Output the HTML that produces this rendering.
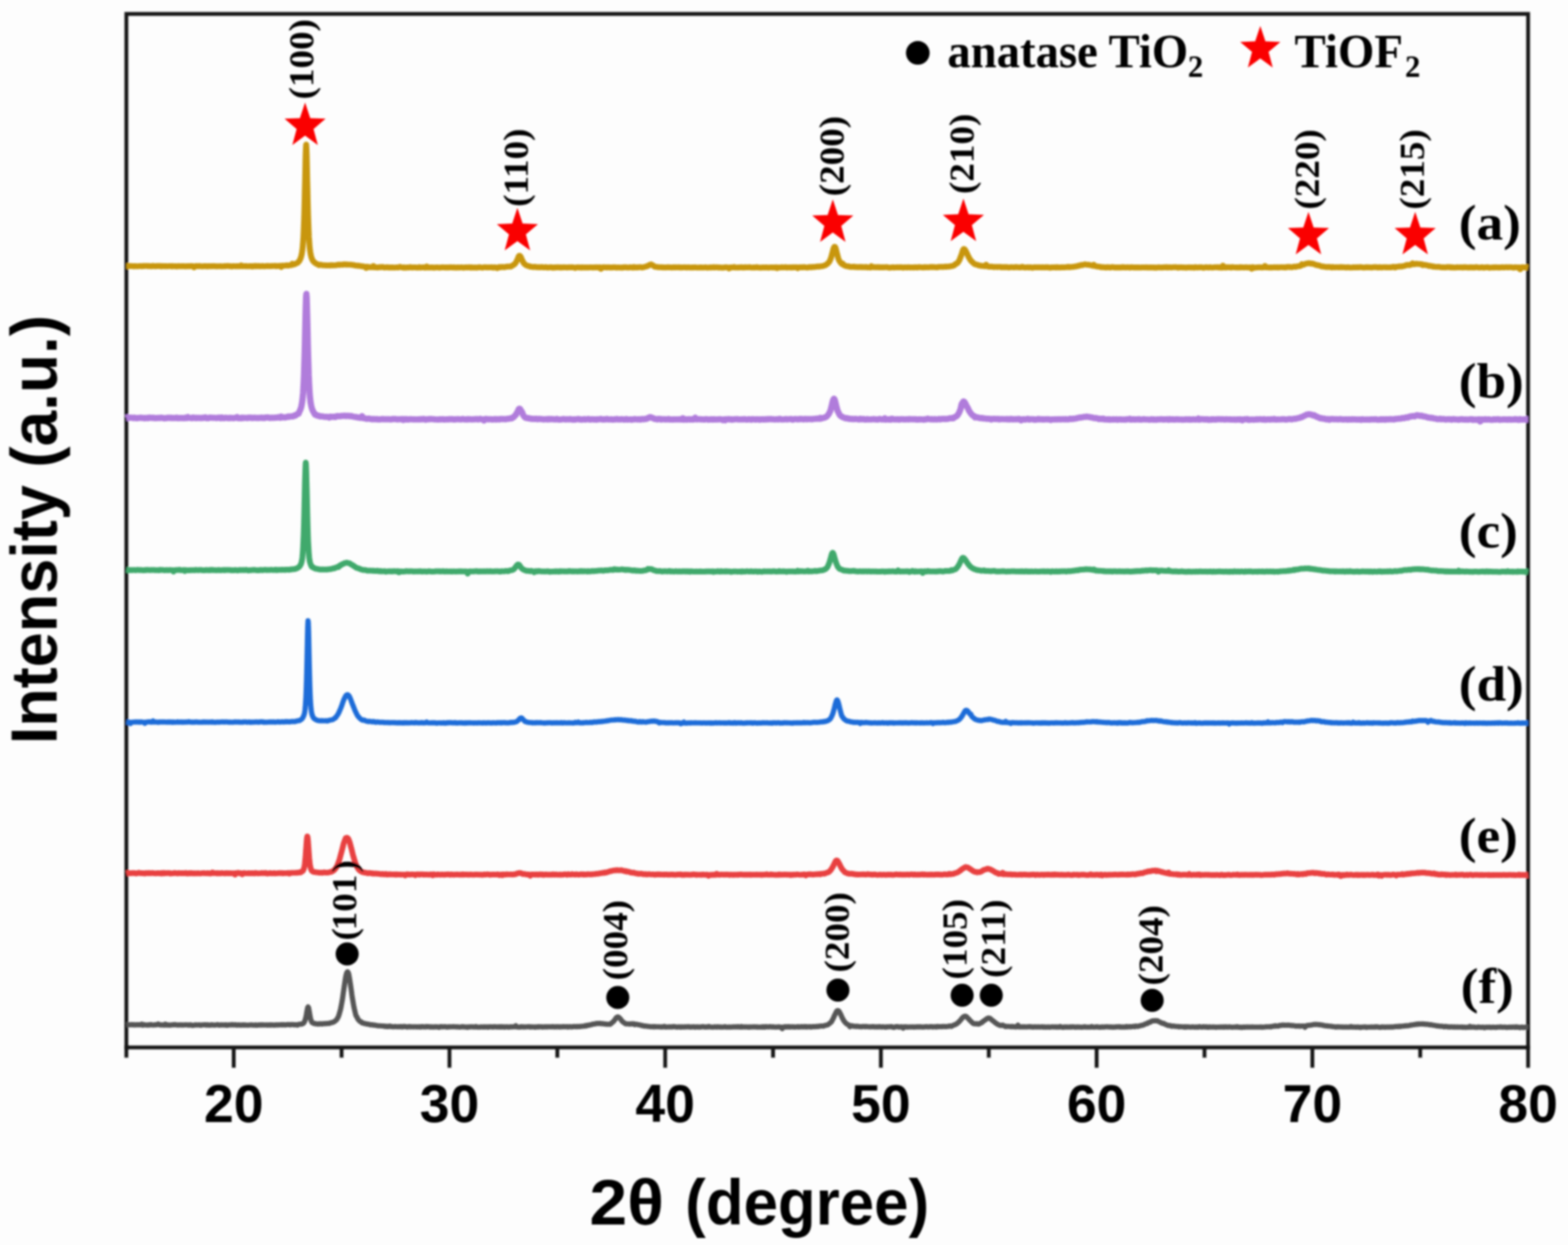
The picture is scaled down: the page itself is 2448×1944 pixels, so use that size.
<!DOCTYPE html>
<html lang="en"><head><meta charset="utf-8"><title>XRD patterns</title>
<style>html,body{margin:0;padding:0;background:#FDFDFD;overflow:hidden}svg{display:block}.s{font-family:"Liberation Serif",serif;font-weight:bold;fill:#000}.n{font-family:"Liberation Sans",sans-serif;font-weight:bold;fill:#000}</style></head><body>
<svg width="2448" height="1944" viewBox="0 0 2448 1944" role="img" aria-label="XRD patterns of samples (a) to (f)">
<defs><filter id="bl" x="0" y="0" width="2448" height="1944" filterUnits="userSpaceOnUse"><feGaussianBlur stdDeviation="1.4"/></filter></defs>
<rect width="2448" height="1944" fill="#FDFDFD"/>
<g filter="url(#bl)">
<g stroke="#161616" stroke-width="6.0" fill="none" stroke-linecap="butt">
<path d="M197.3,1651.5 V21.7 H2385.7 V1667.2"/>
<path d="M194.3,1635.5 H2388.7"/>
<path d="M364.9,1635.5 V1667.2"/>
<path d="M533.3,1635.5 V1651.5"/>
<path d="M701.7,1635.5 V1667.2"/>
<path d="M870.1,1635.5 V1651.5"/>
<path d="M1038.5,1635.5 V1667.2"/>
<path d="M1206.9,1635.5 V1651.5"/>
<path d="M1375.3,1635.5 V1667.2"/>
<path d="M1543.7,1635.5 V1651.5"/>
<path d="M1712.1,1635.5 V1667.2"/>
<path d="M1880.5,1635.5 V1651.5"/>
<path d="M2048.9,1635.5 V1667.2"/>
<path d="M2217.3,1635.5 V1651.5"/>
</g>
<g id="curves">
<polyline points="197.3,415.6 198.9,415.6 200.5,415.5 202.1,415.4 203.7,415.5 205.3,415.4 206.9,415.6 208.5,415.9 210.1,415.5 211.7,415.5 213.3,415.7 214.9,415.7 216.5,415.6 218.1,415.4 219.7,415.6 221.3,415.8 222.9,415.3 224.5,415.5 226.1,415.2 227.7,415.3 229.3,415.2 230.9,415.6 232.5,415.3 234.1,415.7 235.7,415.6 237.3,415.6 238.9,415.1 240.5,415.5 242.1,415.6 243.7,415.6 245.3,415.3 246.9,415.5 248.5,415.4 250.1,415.4 251.7,415.9 253.3,415.4 254.9,415.6 256.5,415.8 258.1,415.5 259.7,415.6 261.3,415.7 262.9,415.6 264.5,415.4 266.1,415.6 267.7,415.9 269.3,415.3 270.9,415.8 272.5,415.7 274.1,415.5 275.7,416.1 277.3,415.8 278.9,415.4 280.5,415.7 282.1,415.8 283.7,415.6 285.3,415.8 286.9,415.6 288.5,415.8 290.1,416.0 291.7,415.5 293.3,415.7 294.9,415.5 296.5,415.7 298.1,415.4 299.7,415.5 301.3,415.6 302.9,417.5 304.5,415.9 306.1,415.4 307.7,415.5 309.3,415.8 310.9,415.2 312.5,415.6 314.1,415.7 315.7,415.9 317.3,415.8 318.9,415.6 320.5,415.6 322.1,415.6 323.7,416.0 325.3,415.6 326.9,415.6 328.5,415.7 330.1,415.6 331.7,415.6 333.3,415.4 334.9,415.7 336.5,415.6 338.1,415.9 339.7,415.8 341.3,415.7 342.9,415.8 344.5,415.6 346.1,415.9 347.7,415.7 349.3,415.8 350.9,415.4 352.5,415.7 354.1,415.3 355.7,415.2 357.3,415.6 358.9,415.5 360.5,415.7 362.1,416.1 363.7,415.5 365.3,415.5 366.9,415.7 368.5,415.8 370.1,415.6 371.7,415.6 373.3,415.8 374.9,415.8 376.5,414.4 378.1,415.6 379.7,415.6 381.3,415.4 382.9,415.7 384.5,415.4 386.1,415.8 387.7,415.7 389.3,415.6 390.9,415.5 392.5,415.6 394.1,416.1 395.7,415.4 397.3,415.7 398.9,415.1 400.5,415.8 402.1,415.2 403.7,415.7 405.3,415.4 406.9,415.7 408.5,415.6 410.1,415.2 411.7,415.8 413.3,415.8 414.9,415.5 416.5,415.4 418.1,415.4 419.7,415.3 421.3,415.7 422.9,415.3 424.5,415.4 426.1,415.2 427.7,415.2 429.3,415.1 430.9,415.6 432.5,415.2 434.1,415.5 435.7,415.2 437.3,415.0 438.9,416.9 440.5,414.9 442.1,415.0 443.7,414.8 445.3,414.8 446.9,414.4 448.5,414.4 450.1,414.8 451.7,414.2 453.3,413.9 454.9,414.0 456.5,411.8 458.1,412.9 459.7,412.7 461.3,412.0 462.9,411.0 464.5,410.5 465.0,410.0 465.4,409.6 465.9,409.1 466.1,408.8 466.3,408.6 466.7,408.1 467.2,407.5 467.6,406.8 467.7,406.7 468.0,406.1 468.5,405.2 468.9,404.2 469.3,403.1 469.3,403.1 469.8,401.9 470.2,400.5 470.6,398.9 470.9,397.7 471.1,396.8 471.5,394.3 471.9,391.3 472.4,387.5 472.5,386.2 472.8,382.9 473.2,377.2 473.7,369.9 474.1,361.0 474.5,350.0 475.0,336.3 475.4,320.6 475.7,308.2 475.8,302.5 476.3,282.2 476.7,262.0 477.1,243.6 477.3,237.6 477.6,230.4 478.0,225.7 478.4,230.7 478.9,244.2 478.9,245.4 479.3,262.4 479.7,282.5 480.2,302.7 480.5,316.6 480.6,320.7 481.0,336.4 481.5,350.0 481.9,361.0 482.1,365.4 482.3,370.0 482.8,377.3 483.2,383.0 483.6,387.6 483.7,388.2 484.1,391.3 484.5,394.2 484.9,396.6 485.3,398.4 485.4,398.7 485.8,400.4 486.2,401.8 486.7,403.1 486.9,403.7 487.1,404.2 487.5,405.2 488.0,406.1 488.4,406.9 488.5,407.1 488.8,407.5 489.3,408.1 489.7,408.6 490.1,409.0 490.1,409.0 490.6,409.4 491.0,409.8 491.7,410.4 493.3,411.4 494.9,412.4 496.5,412.9 498.1,414.0 499.7,413.3 501.3,413.4 502.9,414.1 504.5,414.3 506.1,414.1 507.7,414.4 509.3,414.2 510.9,414.5 512.5,414.5 514.1,414.2 515.7,414.6 517.3,414.0 518.9,414.4 520.5,414.2 522.1,414.2 523.7,414.3 525.3,414.1 526.9,413.5 528.5,413.2 530.1,413.7 531.7,413.2 533.3,413.3 534.9,413.4 536.5,412.8 538.1,412.7 539.7,413.2 541.3,413.1 542.9,413.1 544.5,413.2 546.1,413.2 547.7,413.2 549.3,413.7 550.9,413.7 552.5,413.8 554.1,414.5 555.7,414.6 557.3,414.9 558.9,414.8 560.5,415.1 562.1,415.2 563.7,415.5 565.3,415.9 566.9,415.9 568.5,416.3 570.1,416.5 571.7,418.5 573.3,416.4 574.9,417.1 576.5,417.0 578.1,417.2 579.7,417.0 581.3,417.2 582.9,415.4 584.5,417.4 586.1,417.4 587.7,417.4 589.3,417.7 590.9,417.5 592.5,417.0 594.1,417.4 595.7,417.1 597.3,416.8 598.9,417.4 600.5,417.8 602.1,417.6 603.7,417.3 605.3,417.3 606.9,417.8 608.5,417.6 610.1,417.6 611.7,417.6 613.3,417.6 614.9,417.8 616.5,417.7 618.1,417.6 619.7,417.4 621.3,417.7 622.9,417.4 624.5,416.5 626.1,417.3 627.7,417.6 629.3,417.9 630.9,417.3 632.5,418.0 634.1,417.9 635.7,417.5 637.3,417.8 638.9,417.7 640.5,417.0 642.1,417.7 643.7,417.6 645.3,417.6 646.9,417.4 648.5,417.6 650.1,417.6 651.7,417.9 653.3,417.7 654.9,417.0 656.5,418.0 658.1,417.5 659.7,417.5 661.3,417.2 662.9,418.0 664.5,417.8 666.1,416.0 667.7,417.8 669.3,417.6 670.9,417.7 672.5,417.6 674.1,417.6 675.7,417.6 677.3,418.0 678.9,417.7 680.5,417.6 682.1,417.5 683.7,417.5 685.3,418.0 686.9,417.7 688.5,417.6 690.1,417.5 691.7,417.4 693.3,417.6 694.9,417.8 696.5,417.5 698.1,417.6 699.7,417.6 701.3,417.6 702.9,417.3 704.5,417.6 706.1,417.4 707.7,417.8 709.3,417.4 710.9,417.7 712.5,417.9 714.1,417.5 715.7,417.5 717.3,417.7 718.9,417.6 720.5,417.4 722.1,417.7 723.7,418.0 725.3,417.5 726.9,417.6 728.5,417.4 730.1,417.7 731.7,417.3 733.3,417.3 734.9,417.9 736.5,417.4 738.1,417.8 739.7,417.9 741.3,417.6 742.9,417.7 744.5,418.0 746.1,417.5 747.7,417.4 749.3,417.3 750.9,417.6 752.5,417.9 754.1,417.7 755.7,417.3 757.3,417.3 758.9,417.4 760.5,417.6 762.1,417.4 763.7,417.5 765.3,417.5 766.9,417.4 768.5,417.4 770.1,418.0 771.7,417.4 773.3,417.5 774.9,417.8 776.5,418.7 778.1,417.3 779.7,416.9 781.3,417.5 782.9,416.7 784.5,416.8 786.1,417.2 786.3,417.2 787.1,417.1 787.7,417.1 788.0,417.0 788.8,416.9 789.3,416.8 789.6,416.7 790.5,416.4 790.9,416.3 791.3,416.3 792.1,416.4 792.5,416.4 793.0,416.3 793.8,416.2 794.1,416.1 794.6,416.2 795.5,416.2 795.7,416.2 796.3,416.2 797.1,416.2 797.3,416.2 798.0,415.8 798.8,415.3 798.9,415.2 799.6,414.9 800.5,414.4 800.5,414.4 801.3,413.9 802.1,413.3 802.1,413.3 803.0,412.8 803.7,412.2 803.8,412.0 804.6,411.0 805.3,410.1 805.5,409.8 806.3,408.2 806.9,407.0 807.1,406.5 808.0,404.7 808.5,403.6 808.8,402.8 809.6,400.8 810.1,399.9 810.5,399.5 811.3,399.3 811.7,399.5 812.1,399.9 813.0,401.2 813.3,401.9 813.8,403.1 814.6,405.0 814.9,405.7 815.5,406.8 816.3,408.4 816.5,408.7 817.1,409.8 818.0,411.2 818.1,411.4 818.8,412.1 819.6,412.9 819.7,412.9 820.5,413.5 821.3,414.0 822.1,414.5 822.9,414.8 823.0,414.8 823.8,415.0 824.5,415.2 824.6,415.2 825.5,415.4 826.1,415.5 826.3,415.7 827.1,416.1 827.7,416.3 828.0,416.4 828.8,416.4 829.3,416.4 829.6,416.4 830.5,416.6 830.9,416.7 831.3,416.8 832.1,416.9 832.5,417.0 833.0,416.8 833.8,416.6 834.1,416.5 834.6,416.6 835.5,416.7 835.7,416.8 836.3,416.9 837.3,417.1 838.9,417.2 840.5,417.1 842.1,417.4 843.7,417.3 845.3,417.0 846.9,417.1 848.5,417.5 850.1,417.5 851.7,417.0 853.3,417.7 854.9,417.6 856.5,417.7 858.1,417.4 859.7,417.4 861.3,417.2 862.9,418.1 864.5,417.5 866.1,417.9 867.7,417.4 869.3,417.6 870.9,417.2 872.5,417.5 874.1,417.8 875.7,417.3 877.3,417.8 878.9,417.6 880.5,417.3 882.1,417.5 883.7,417.5 885.3,417.6 886.9,417.5 888.5,417.4 890.1,417.5 891.7,417.4 893.3,417.3 894.9,417.6 896.5,417.8 898.1,418.4 899.7,417.6 901.3,417.5 902.9,417.4 904.5,417.8 906.1,417.5 907.7,417.9 909.3,417.4 910.9,417.7 912.5,417.6 914.1,417.5 915.7,417.7 917.3,417.6 918.9,417.8 920.5,417.6 922.1,417.4 923.7,417.6 925.3,417.6 926.9,417.8 928.5,417.4 930.1,417.6 931.7,417.2 933.3,417.8 934.9,417.4 936.5,417.2 938.1,419.8 939.7,417.9 941.3,417.3 942.9,417.4 944.5,417.5 946.1,417.4 947.7,417.7 949.3,417.4 950.9,417.5 952.5,417.8 954.1,417.5 955.7,417.7 957.3,417.4 958.9,417.4 960.5,417.2 962.1,418.0 963.7,417.5 965.3,417.7 966.9,417.6 968.5,417.9 970.1,417.6 971.7,418.0 973.3,417.4 974.9,417.3 976.5,417.4 978.1,417.3 979.7,417.8 981.3,417.8 982.9,417.4 984.5,417.3 986.1,417.5 987.7,417.9 989.3,416.9 990.9,417.7 991.0,417.6 991.8,417.4 992.5,417.3 992.7,417.3 993.5,417.6 994.1,417.7 994.3,417.7 995.2,417.4 995.7,417.3 996.0,417.3 996.8,417.4 997.3,417.4 997.7,417.3 998.5,417.2 998.9,417.1 999.3,417.1 1000.2,417.2 1000.5,417.2 1001.0,417.3 1001.8,417.6 1002.1,417.6 1002.7,417.6 1003.5,417.4 1003.7,417.4 1004.3,417.3 1005.2,417.0 1005.3,417.0 1006.0,416.9 1006.8,416.7 1006.9,416.6 1007.7,416.4 1008.5,416.0 1009.3,415.9 1010.1,415.7 1010.2,415.7 1011.0,415.4 1011.7,415.0 1011.8,414.9 1012.7,414.4 1013.3,414.1 1013.5,414.0 1014.3,413.5 1014.9,413.3 1015.2,413.2 1016.0,413.0 1016.5,412.9 1016.8,413.1 1017.7,413.5 1018.1,413.7 1018.5,414.0 1019.3,414.4 1019.7,414.7 1020.2,415.0 1021.0,415.6 1021.3,415.8 1021.8,416.1 1022.7,416.5 1022.9,416.6 1023.5,416.7 1024.3,416.7 1024.5,416.7 1025.2,416.8 1026.0,416.8 1026.1,416.8 1026.8,417.0 1027.7,417.2 1027.7,417.2 1028.5,417.2 1029.3,417.2 1029.3,417.2 1030.2,417.2 1030.9,417.2 1031.0,417.2 1031.8,417.3 1032.5,417.4 1032.7,417.4 1033.5,417.3 1034.1,417.2 1034.3,417.3 1035.2,417.5 1035.7,417.6 1036.0,417.6 1036.8,417.5 1037.3,417.5 1037.7,417.5 1038.5,417.6 1038.9,417.6 1039.3,417.6 1040.2,417.5 1040.5,417.5 1041.0,417.5 1042.1,417.4 1043.7,417.3 1045.3,417.5 1046.9,417.5 1048.5,417.6 1050.1,417.6 1051.7,417.3 1053.3,417.6 1054.9,417.3 1056.5,417.5 1058.1,417.5 1059.7,417.2 1061.3,417.6 1062.9,417.6 1064.5,417.6 1066.1,417.5 1067.7,417.5 1069.3,417.4 1070.9,417.6 1072.5,417.5 1074.1,417.6 1075.7,417.4 1077.3,417.7 1078.9,417.7 1080.5,417.6 1082.1,417.5 1083.7,417.7 1085.3,417.3 1086.9,417.7 1088.5,417.7 1090.1,417.7 1091.7,417.7 1093.3,417.5 1094.9,417.6 1096.5,417.8 1098.1,417.7 1099.7,417.7 1101.3,417.3 1102.9,417.7 1104.5,417.9 1106.1,417.8 1107.7,417.7 1109.3,417.3 1110.9,417.8 1112.5,417.6 1114.1,417.1 1115.7,417.7 1117.3,417.3 1118.9,417.3 1120.5,417.5 1122.1,417.9 1123.7,417.5 1125.3,417.7 1126.9,418.0 1128.5,418.0 1130.1,417.6 1131.7,417.6 1133.3,417.3 1134.9,417.5 1136.5,417.7 1138.1,419.3 1139.7,417.6 1141.3,417.8 1142.9,417.4 1144.5,417.6 1146.1,416.9 1147.7,417.7 1149.3,417.8 1150.9,417.7 1152.5,417.5 1154.1,417.7 1155.7,417.4 1157.3,417.2 1158.9,417.7 1160.5,417.6 1162.1,417.7 1163.7,417.2 1165.3,417.5 1166.9,417.5 1168.5,417.4 1170.1,417.1 1171.7,417.5 1173.3,417.8 1174.9,417.7 1176.5,417.5 1178.1,417.6 1179.7,417.8 1181.3,417.0 1182.9,417.6 1184.5,417.7 1186.1,417.7 1187.7,418.0 1189.3,417.8 1190.9,417.6 1192.5,417.6 1194.1,417.7 1195.7,417.5 1197.3,417.6 1198.9,417.8 1200.5,418.0 1202.1,417.5 1203.7,417.5 1205.3,417.6 1206.9,417.8 1208.5,417.5 1210.1,417.9 1211.7,417.3 1213.3,418.7 1214.9,417.5 1216.5,417.7 1218.1,417.8 1219.7,417.2 1221.3,417.3 1222.9,417.6 1224.5,417.4 1226.1,417.1 1227.7,417.7 1229.3,417.6 1230.9,417.6 1232.5,417.4 1234.1,417.7 1235.7,417.4 1237.3,417.7 1238.9,417.2 1240.5,417.4 1242.1,417.5 1243.7,417.2 1245.3,418.7 1246.9,417.4 1248.5,417.2 1250.1,417.4 1251.7,417.2 1253.3,417.5 1254.9,417.1 1256.5,417.2 1258.1,417.5 1259.7,417.7 1261.3,417.6 1262.9,417.1 1264.5,417.1 1266.1,417.4 1267.7,416.9 1269.3,416.7 1270.9,416.9 1272.5,416.8 1274.1,416.5 1275.7,416.2 1276.8,416.1 1277.3,416.1 1277.6,416.1 1278.5,416.3 1278.9,416.4 1279.4,416.2 1280.2,416.0 1280.5,415.9 1281.1,415.8 1282.0,415.8 1282.1,415.8 1282.9,415.7 1283.7,415.6 1283.8,415.5 1284.6,415.4 1285.3,415.3 1285.5,415.2 1286.4,414.8 1286.9,414.6 1287.2,414.5 1288.1,414.3 1288.5,414.2 1289.0,413.8 1289.9,413.2 1290.1,413.0 1290.8,412.7 1291.6,412.1 1291.7,412.0 1292.5,411.2 1293.3,410.3 1293.4,410.2 1294.2,409.3 1294.9,408.4 1295.1,408.0 1296.0,406.1 1296.5,404.9 1296.9,403.9 1297.8,401.3 1298.1,400.1 1298.6,398.3 1299.5,395.0 1299.7,394.2 1300.4,391.5 1301.2,388.3 1301.3,388.1 1302.1,386.1 1302.9,385.3 1303.0,385.3 1303.9,385.8 1304.5,387.2 1304.8,388.0 1305.6,391.3 1306.1,393.2 1306.5,394.9 1307.4,398.3 1307.7,399.5 1308.2,401.5 1309.1,404.4 1309.3,404.9 1310.0,406.4 1310.9,408.0 1310.9,408.0 1311.8,409.3 1312.5,410.2 1312.6,410.4 1313.5,411.4 1314.1,412.1 1314.4,412.0 1315.2,411.7 1315.7,411.6 1316.1,412.2 1317.0,413.5 1317.3,413.9 1317.9,414.1 1318.8,414.5 1318.9,414.5 1319.6,414.9 1320.5,415.3 1321.4,415.5 1322.1,415.6 1322.2,415.6 1323.1,415.8 1323.7,415.9 1324.0,415.9 1324.9,415.9 1325.3,415.9 1325.8,416.1 1326.6,416.5 1326.9,416.6 1327.5,416.7 1328.4,416.7 1328.5,416.7 1329.2,416.7 1330.1,416.6 1331.7,416.8 1333.3,416.3 1334.9,416.9 1336.5,416.8 1338.1,417.0 1339.7,417.1 1341.3,417.0 1342.9,416.7 1344.5,417.2 1346.1,417.0 1347.7,417.1 1349.3,417.1 1350.9,417.2 1352.5,416.8 1354.1,417.6 1355.7,417.4 1357.3,417.6 1358.9,417.8 1360.5,415.6 1362.1,417.0 1363.7,417.2 1365.3,417.1 1366.9,417.3 1368.5,417.4 1370.1,417.0 1371.7,417.5 1373.3,417.1 1374.9,417.5 1376.5,417.4 1378.1,417.4 1379.7,417.4 1381.3,417.3 1382.9,417.3 1384.5,417.1 1386.1,417.5 1387.7,417.9 1389.3,417.9 1390.9,417.8 1392.5,417.6 1394.1,417.3 1395.7,417.8 1397.3,417.5 1398.9,417.5 1400.5,417.4 1402.1,417.5 1403.7,417.4 1405.3,417.5 1406.9,417.2 1408.5,417.4 1410.1,418.0 1411.7,417.5 1413.3,417.4 1414.9,417.6 1416.5,417.6 1418.1,417.2 1419.7,417.4 1421.3,417.7 1422.9,417.5 1424.5,417.5 1426.1,417.8 1427.7,417.3 1429.3,417.5 1430.9,417.3 1432.5,417.8 1434.1,417.0 1435.7,417.3 1437.3,417.3 1438.9,417.5 1440.5,417.5 1442.1,417.7 1443.7,417.0 1445.3,417.5 1446.9,417.3 1448.5,417.2 1450.1,417.4 1451.7,417.1 1453.3,416.8 1454.9,417.2 1456.5,416.9 1458.1,417.1 1459.7,417.3 1461.3,417.2 1462.9,417.5 1464.5,417.0 1466.1,416.7 1467.7,416.8 1469.3,416.7 1470.9,416.6 1472.5,416.9 1474.1,416.6 1475.7,416.2 1476.0,416.3 1477.0,416.5 1477.3,416.6 1478.0,416.5 1478.9,416.3 1478.9,416.3 1479.9,416.3 1480.5,416.3 1480.8,416.2 1481.8,416.1 1482.1,416.0 1482.8,416.0 1483.7,415.9 1483.7,415.9 1484.7,415.6 1485.3,415.5 1485.6,415.4 1486.6,415.4 1486.9,415.4 1487.5,415.1 1488.5,414.7 1488.5,414.7 1489.5,414.4 1490.1,414.1 1490.4,413.7 1491.4,412.6 1491.7,412.2 1492.3,412.1 1493.3,411.8 1494.3,411.1 1494.9,410.6 1495.2,410.2 1496.2,408.9 1496.5,408.4 1497.1,407.4 1498.1,405.6 1498.1,405.6 1499.0,403.2 1499.7,401.3 1500.0,400.6 1501.0,398.0 1501.3,397.1 1501.9,395.0 1502.9,392.0 1502.9,391.9 1503.8,389.7 1504.5,388.9 1504.8,388.8 1505.8,389.1 1506.1,389.4 1506.7,390.2 1507.7,391.9 1507.7,391.9 1508.6,393.7 1509.3,395.1 1509.6,395.7 1510.5,397.7 1510.9,398.4 1511.5,399.7 1512.5,401.7 1512.5,401.7 1513.4,403.3 1514.1,404.3 1514.4,404.8 1515.3,406.3 1515.7,406.8 1516.3,407.5 1517.3,408.4 1517.3,408.4 1518.2,409.4 1518.9,410.0 1519.2,410.3 1520.1,411.1 1520.5,411.4 1521.1,411.9 1522.0,412.7 1522.1,412.7 1523.0,412.7 1523.7,412.7 1524.0,412.8 1524.9,413.2 1525.3,413.4 1525.9,413.6 1526.8,413.8 1526.9,413.8 1527.8,414.3 1528.5,414.6 1528.8,414.6 1529.7,414.6 1530.1,414.5 1530.7,414.7 1531.6,415.0 1531.7,415.0 1532.6,415.2 1533.3,415.3 1533.5,415.3 1534.9,415.3 1536.5,415.5 1538.1,415.8 1539.7,413.3 1541.3,415.9 1542.9,416.2 1544.5,416.4 1546.1,416.4 1547.7,416.2 1549.3,416.5 1550.9,416.9 1552.5,416.9 1554.1,416.8 1555.7,416.7 1557.3,417.0 1558.9,416.8 1560.5,416.7 1562.1,416.8 1563.7,417.4 1565.3,417.1 1566.9,417.4 1568.5,417.0 1570.1,417.4 1571.7,417.0 1573.3,417.2 1574.9,417.8 1576.5,417.4 1578.1,417.1 1579.7,417.2 1581.3,417.3 1582.9,417.5 1584.5,417.2 1586.1,416.9 1587.7,417.3 1589.3,417.3 1590.9,417.4 1592.5,417.6 1594.1,417.4 1595.7,416.5 1597.3,417.1 1598.9,417.6 1600.5,417.8 1602.1,417.6 1603.7,417.4 1605.3,417.4 1606.9,417.8 1608.5,417.2 1610.1,417.4 1611.7,418.2 1613.3,417.6 1614.9,417.3 1616.5,417.5 1618.1,417.4 1619.7,417.5 1621.3,417.4 1622.9,417.2 1624.5,417.4 1626.1,417.6 1627.7,417.2 1629.3,417.4 1630.9,417.6 1632.5,417.2 1634.1,417.5 1635.7,417.2 1637.3,417.7 1638.9,417.9 1640.5,417.9 1642.1,417.4 1643.7,417.6 1645.3,417.4 1646.9,417.4 1648.5,417.7 1650.1,417.1 1651.7,417.6 1653.3,417.4 1654.9,417.7 1656.5,417.4 1658.1,417.2 1659.7,417.4 1661.3,417.5 1662.9,417.3 1664.5,417.3 1666.1,417.1 1667.7,416.6 1669.3,417.2 1670.9,417.1 1672.5,416.8 1674.1,416.7 1675.7,416.7 1677.3,416.2 1678.9,416.2 1680.5,415.7 1682.1,415.7 1683.7,414.7 1685.3,415.0 1686.9,414.2 1688.5,413.7 1690.1,413.9 1691.7,413.3 1693.3,412.9 1694.9,413.0 1696.5,413.3 1698.1,413.5 1699.7,413.3 1701.3,413.8 1702.9,414.2 1704.5,414.3 1706.1,414.9 1707.7,413.6 1709.3,415.4 1710.9,415.7 1712.5,416.1 1714.1,416.3 1715.7,416.4 1717.3,416.6 1718.9,417.1 1720.5,417.0 1722.1,417.3 1723.7,417.4 1725.3,417.4 1726.9,417.8 1728.5,417.1 1730.1,417.5 1731.7,417.3 1733.3,417.8 1734.9,417.4 1736.5,417.0 1738.1,417.2 1739.7,417.6 1741.3,417.6 1742.9,417.6 1744.5,417.5 1746.1,417.6 1747.7,417.6 1749.3,417.5 1750.9,417.7 1752.5,417.0 1754.1,417.6 1755.7,417.3 1757.3,417.7 1758.9,417.5 1760.5,417.3 1762.1,417.6 1763.7,417.9 1765.3,417.3 1766.9,417.2 1768.5,417.5 1770.1,417.6 1771.7,417.8 1773.3,417.5 1774.9,417.8 1776.5,417.6 1778.1,417.5 1779.7,417.7 1781.3,417.8 1782.9,417.5 1784.5,417.5 1786.1,417.5 1787.7,417.6 1789.3,417.4 1790.9,417.8 1792.5,417.5 1794.1,417.7 1795.7,417.6 1797.3,417.6 1798.9,417.7 1800.5,417.5 1802.1,418.0 1803.7,417.6 1805.3,418.0 1806.9,417.8 1808.5,417.4 1810.1,417.5 1811.7,417.7 1813.3,417.6 1814.9,417.6 1816.5,417.5 1818.1,417.2 1819.7,417.5 1821.3,417.1 1822.9,417.7 1824.5,417.4 1826.1,417.4 1827.7,417.5 1829.3,417.6 1830.9,417.3 1832.5,417.2 1834.1,417.3 1835.7,417.1 1837.3,417.4 1838.9,417.9 1840.5,417.3 1842.1,417.7 1843.7,417.3 1845.3,417.6 1846.9,417.5 1848.5,417.6 1850.1,417.7 1851.7,418.0 1853.3,417.6 1854.9,417.6 1856.5,417.4 1858.1,417.7 1859.7,417.5 1861.3,417.8 1862.9,417.6 1864.5,418.0 1866.1,417.1 1867.7,417.5 1869.3,417.8 1870.9,417.5 1872.5,417.4 1874.1,417.5 1875.7,417.3 1877.3,417.6 1878.9,418.1 1880.5,417.8 1882.1,417.3 1883.7,417.4 1885.3,417.5 1886.9,417.8 1888.5,417.4 1890.1,417.4 1891.7,417.8 1893.3,417.8 1894.9,417.5 1896.5,417.3 1898.1,417.2 1899.7,417.4 1901.3,417.1 1902.9,417.7 1904.5,417.4 1906.1,417.7 1907.7,418.0 1909.3,414.8 1910.9,417.3 1912.5,417.8 1914.1,417.8 1915.7,417.1 1917.3,417.4 1918.9,417.5 1920.5,417.2 1922.1,417.9 1923.7,417.0 1925.3,417.3 1926.9,417.5 1928.5,417.5 1930.1,417.6 1931.7,417.6 1933.3,417.5 1934.9,417.8 1936.5,417.1 1938.1,417.6 1939.7,417.4 1941.3,417.6 1942.9,417.6 1944.5,417.4 1946.1,417.4 1947.7,417.7 1949.3,417.6 1950.9,417.4 1952.5,418.0 1954.1,419.7 1955.7,417.2 1957.3,417.6 1958.9,418.1 1960.5,417.7 1962.1,417.6 1963.7,417.5 1965.3,417.4 1966.9,417.5 1968.5,417.4 1970.1,417.7 1971.7,417.4 1973.3,417.4 1974.9,415.2 1976.5,417.5 1978.1,417.3 1979.7,417.5 1981.3,417.7 1982.9,417.6 1984.5,417.6 1986.1,417.6 1987.7,417.5 1989.3,417.4 1990.9,417.4 1992.5,417.6 1994.1,417.2 1995.7,417.7 1997.3,417.4 1998.9,417.2 2000.5,417.3 2002.1,417.2 2003.7,417.4 2005.3,417.2 2006.9,417.6 2008.5,417.1 2010.1,416.7 2011.7,417.0 2013.3,416.7 2014.9,417.1 2016.5,417.2 2018.1,417.0 2019.7,416.4 2021.3,416.4 2022.9,416.7 2024.5,416.1 2026.1,415.7 2027.7,415.6 2029.3,415.5 2030.9,414.8 2032.5,412.5 2034.1,413.5 2035.7,413.1 2037.3,412.3 2038.9,411.7 2040.5,411.5 2042.1,411.0 2043.7,411.1 2045.3,411.1 2046.9,411.8 2048.5,411.4 2050.1,412.0 2051.7,412.4 2053.3,413.1 2054.9,413.8 2056.5,413.9 2058.1,414.4 2059.7,414.6 2061.3,415.2 2062.9,415.9 2064.5,416.1 2066.1,416.1 2067.7,416.5 2069.3,416.7 2070.9,417.0 2072.5,416.8 2074.1,417.0 2075.7,416.7 2077.3,416.9 2078.9,417.6 2080.5,416.8 2082.1,417.2 2083.7,417.4 2085.3,417.2 2086.9,417.2 2088.5,417.3 2090.1,417.4 2091.7,417.4 2093.3,417.0 2094.9,417.4 2096.5,417.2 2098.1,417.3 2099.7,417.5 2101.3,417.6 2102.9,417.6 2104.5,417.3 2106.1,417.6 2107.7,417.7 2109.3,417.7 2110.9,417.8 2112.5,417.4 2114.1,417.4 2115.7,417.6 2117.3,417.2 2118.9,417.5 2120.5,417.3 2122.1,417.4 2123.7,417.1 2125.3,417.3 2126.9,417.5 2128.5,417.7 2130.1,417.7 2131.7,417.4 2133.3,417.4 2134.9,417.3 2136.5,417.5 2138.1,417.4 2139.7,417.6 2141.3,417.8 2142.9,417.4 2144.5,417.1 2146.1,417.2 2147.7,417.1 2149.3,417.2 2150.9,417.7 2152.5,417.5 2154.1,417.1 2155.7,417.5 2157.3,417.7 2158.9,417.3 2160.5,417.2 2162.1,417.3 2163.7,417.4 2165.3,417.4 2166.9,417.5 2168.5,417.5 2170.1,417.4 2171.7,417.4 2173.3,417.2 2174.9,416.6 2176.5,416.8 2178.1,417.6 2179.7,416.6 2181.3,416.7 2182.9,416.3 2184.5,415.9 2186.1,416.3 2187.7,415.9 2189.3,415.9 2190.9,415.4 2192.5,415.2 2194.1,414.7 2195.7,413.8 2197.3,413.9 2198.9,413.6 2200.5,414.0 2202.1,413.1 2203.7,413.1 2205.3,411.2 2206.9,412.1 2208.5,412.7 2210.1,412.0 2211.7,411.8 2213.3,412.2 2214.9,412.3 2216.5,412.2 2218.1,412.7 2219.7,412.6 2221.3,414.0 2222.9,413.3 2224.5,413.8 2226.1,413.8 2227.7,414.3 2229.3,414.5 2230.9,415.4 2232.5,415.0 2234.1,415.7 2235.7,415.6 2237.3,416.4 2238.9,416.2 2240.5,416.5 2242.1,416.7 2243.7,416.7 2245.3,416.6 2246.9,416.7 2248.5,417.1 2250.1,417.2 2251.7,417.4 2253.3,417.2 2254.9,417.4 2256.5,417.6 2258.1,417.3 2259.7,417.0 2261.3,417.1 2262.9,417.0 2264.5,417.7 2266.1,417.2 2267.7,417.7 2269.3,417.6 2270.9,417.8 2272.5,417.7 2274.1,417.4 2275.7,417.4 2277.3,417.5 2278.9,417.5 2280.5,417.4 2282.1,417.5 2283.7,417.8 2285.3,417.1 2286.9,417.5 2288.5,417.3 2290.1,417.5 2291.7,417.7 2293.3,417.5 2294.9,417.7 2296.5,417.2 2298.1,417.8 2299.7,417.4 2301.3,417.7 2302.9,417.6 2304.5,417.0 2306.1,417.4 2307.7,417.6 2309.3,417.9 2310.9,417.6 2312.5,417.6 2314.1,417.2 2315.7,417.9 2317.3,417.9 2318.9,417.5 2320.5,417.5 2322.1,417.2 2323.7,417.7 2325.3,418.1 2326.9,417.7 2328.5,417.8 2330.1,417.7 2331.7,417.3 2333.3,417.8 2334.9,417.3 2336.5,417.5 2338.1,417.6 2339.7,417.8 2341.3,417.6 2342.9,417.6 2344.5,417.4 2346.1,417.3 2347.7,417.6 2349.3,417.4 2350.9,417.3 2352.5,417.3 2354.1,417.5 2355.7,417.2 2357.3,417.3 2358.9,417.2 2360.5,417.4 2362.1,417.7 2363.7,418.0 2365.3,417.2 2366.9,417.4 2368.5,417.8 2370.1,417.5 2371.7,417.5 2373.3,420.5 2374.9,417.5 2376.5,417.3 2378.1,417.3 2379.7,417.6 2381.3,417.6 2382.9,417.3 2384.5,417.4 2385.7,417.6" fill="none" stroke="#C8960A" stroke-width="9.1" stroke-linejoin="round" stroke-linecap="butt"/>
<polyline points="197.3,652.9 198.9,651.9 200.5,652.6 202.1,652.3 203.7,652.1 205.3,652.3 206.9,652.4 208.5,652.8 210.1,652.1 211.7,652.8 213.3,653.1 214.9,652.7 216.5,652.6 218.1,652.5 219.7,652.2 221.3,652.6 222.9,652.6 224.5,652.7 226.1,653.2 227.7,652.7 229.3,652.6 230.9,652.9 232.5,652.1 234.1,652.2 235.7,652.4 237.3,652.3 238.9,652.7 240.5,652.4 242.1,653.0 243.7,652.9 245.3,652.7 246.9,652.4 248.5,652.7 250.1,652.7 251.7,652.2 253.3,652.6 254.9,652.7 256.5,653.3 258.1,653.0 259.7,652.9 261.3,652.3 262.9,652.6 264.5,652.3 266.1,652.7 267.7,652.3 269.3,652.8 270.9,652.6 272.5,652.8 274.1,652.5 275.7,652.1 277.3,653.0 278.9,652.5 280.5,652.9 282.1,652.7 283.7,652.7 285.3,653.0 286.9,652.6 288.5,652.9 290.1,652.1 291.7,652.8 293.3,651.3 294.9,652.5 296.5,652.5 298.1,652.6 299.7,653.0 301.3,652.0 302.9,652.6 304.5,652.3 306.1,652.9 307.7,652.4 309.3,652.7 310.9,652.4 312.5,652.7 314.1,652.8 315.7,652.4 317.3,652.6 318.9,652.1 320.5,651.6 322.1,652.8 323.7,652.7 325.3,652.9 326.9,652.0 328.5,652.0 330.1,652.2 331.7,652.4 333.3,652.3 334.9,652.5 336.5,652.5 338.1,652.8 339.7,652.4 341.3,652.2 342.9,652.2 344.5,653.1 346.1,651.9 347.7,652.5 349.3,653.0 350.9,652.7 352.5,652.3 354.1,652.5 355.7,652.8 357.3,652.9 358.9,652.3 360.5,652.8 362.1,652.6 363.7,652.8 365.3,652.9 366.9,652.4 368.5,652.1 370.1,651.3 371.7,653.0 373.3,652.7 374.9,652.6 376.5,653.2 378.1,652.2 379.7,652.8 381.3,652.4 382.9,652.5 384.5,652.5 386.1,652.9 387.7,652.2 389.3,652.3 390.9,652.0 392.5,652.6 394.1,652.4 395.7,652.6 397.3,652.2 398.9,652.4 400.5,652.7 402.1,652.4 403.7,652.6 405.3,652.6 406.9,652.3 408.5,652.0 410.1,652.7 411.7,652.4 413.3,652.6 414.9,651.8 416.5,651.9 418.1,651.7 419.7,652.1 421.3,652.6 422.9,652.4 424.5,652.2 426.1,652.3 427.7,652.4 429.3,652.1 430.9,652.2 432.5,652.1 434.1,651.4 435.7,651.9 437.3,652.3 438.9,650.4 440.5,651.8 442.1,651.6 443.7,651.5 445.3,651.9 446.9,651.4 448.5,651.0 450.1,650.3 451.7,650.8 453.3,650.2 454.9,650.0 456.5,650.4 458.1,650.0 459.7,648.7 461.3,648.8 462.9,647.4 464.3,646.5 464.5,646.3 464.8,646.3 465.2,646.3 465.7,646.2 466.1,646.0 466.2,645.9 466.6,644.8 467.1,643.7 467.6,642.5 467.7,642.1 468.0,641.5 468.5,640.6 469.0,639.5 469.3,638.6 469.4,638.3 469.9,636.7 470.4,635.0 470.8,632.9 470.9,632.6 471.3,630.4 471.8,627.4 472.2,623.7 472.5,621.1 472.7,619.0 473.2,613.3 473.6,606.2 474.1,597.1 474.6,585.6 475.0,572.0 475.5,555.6 475.7,547.9 476.0,536.9 476.4,516.8 476.9,495.9 477.3,479.6 477.4,477.1 477.8,463.8 478.3,458.9 478.8,463.9 478.9,466.9 479.2,477.0 479.7,495.7 480.2,516.4 480.5,530.8 480.6,536.4 481.1,555.3 481.6,571.8 482.0,585.4 482.1,587.3 482.5,596.9 483.0,606.2 483.4,613.5 483.7,617.1 483.9,619.4 484.4,624.0 484.8,627.6 485.3,630.6 485.8,633.0 486.2,635.0 486.7,636.7 486.9,637.4 487.2,638.2 487.6,639.6 488.1,640.7 488.5,641.6 488.6,641.8 489.0,642.6 489.5,643.5 490.0,644.2 490.1,644.4 490.4,645.0 490.9,646.0 491.4,646.8 491.7,647.4 491.8,647.4 492.3,647.5 493.3,647.4 494.9,648.8 496.5,648.8 498.1,649.5 499.7,650.2 501.3,650.0 502.9,650.2 504.5,650.3 506.1,650.8 507.7,651.0 509.3,650.8 510.9,650.9 512.5,651.3 514.1,652.0 515.7,650.5 517.3,650.8 518.9,650.8 520.5,650.8 522.1,650.5 523.7,651.2 525.3,650.2 526.9,649.7 528.5,650.0 530.1,649.8 531.7,649.9 533.3,649.4 534.9,649.5 536.5,649.3 538.1,649.2 539.7,649.7 541.3,649.3 542.9,649.6 544.5,649.3 546.1,649.8 547.7,649.5 549.3,650.0 550.9,650.3 552.5,650.8 554.1,651.0 555.7,651.1 557.3,651.7 558.9,651.7 560.5,652.1 562.1,652.4 563.7,652.4 565.3,649.8 566.9,653.0 568.5,653.0 570.1,653.4 571.7,653.8 573.3,653.9 574.9,653.7 576.5,653.6 578.1,654.1 579.7,654.3 581.3,654.7 582.9,654.3 584.5,654.4 586.1,654.7 587.7,654.4 589.3,654.5 590.9,655.0 592.5,655.0 594.1,654.7 595.7,654.6 597.3,654.3 598.9,654.7 600.5,654.6 602.1,654.7 603.7,654.5 605.3,654.6 606.9,654.6 608.5,654.7 610.1,655.0 611.7,654.7 613.3,654.2 614.9,654.4 616.5,654.2 618.1,654.4 619.7,654.8 621.3,654.8 622.9,654.5 624.5,654.7 626.1,654.5 627.7,654.3 629.3,655.7 630.9,654.4 632.5,655.1 634.1,654.3 635.7,655.0 637.3,655.1 638.9,654.6 640.5,654.7 642.1,654.5 643.7,654.7 645.3,654.9 646.9,654.7 648.5,655.0 650.1,655.0 651.7,654.8 653.3,654.8 654.9,654.7 656.5,654.8 658.1,654.4 659.7,654.8 661.3,654.2 662.9,654.5 664.5,655.3 666.1,654.5 667.7,654.5 669.3,654.8 670.9,654.2 672.5,654.5 674.1,654.3 675.7,654.5 677.3,654.7 678.9,654.8 680.5,655.0 682.1,655.0 683.7,655.1 685.3,654.9 686.9,654.6 688.5,655.0 690.1,654.6 691.7,654.6 693.3,655.2 694.9,655.0 696.5,654.8 698.1,654.9 699.7,655.0 701.3,654.4 702.9,654.7 704.5,654.4 706.1,654.8 707.7,654.5 709.3,655.1 710.9,654.9 712.5,654.5 714.1,654.7 715.7,654.4 717.3,654.7 718.9,654.9 720.5,654.8 722.1,654.2 723.7,654.6 725.3,654.9 726.9,654.8 728.5,655.1 730.1,654.4 731.7,654.9 733.3,654.5 734.9,654.8 736.5,654.8 738.1,654.9 739.7,654.6 741.3,654.8 742.9,654.4 744.5,654.3 746.1,654.9 747.7,654.7 749.3,654.0 750.9,654.5 752.5,654.7 754.1,655.1 755.7,656.6 757.3,654.3 758.9,654.2 760.5,654.4 762.1,654.8 763.7,654.7 765.3,654.7 766.9,654.6 768.5,655.1 770.1,655.0 771.7,654.5 773.3,654.3 774.9,655.1 776.5,654.4 778.1,654.8 779.7,655.0 781.3,654.2 782.9,654.5 784.5,654.2 786.1,654.4 787.2,654.3 787.7,654.3 788.0,654.4 788.8,654.6 789.3,654.7 789.6,654.6 790.4,654.3 790.9,654.2 791.2,654.1 792.0,654.0 792.5,653.9 792.8,653.9 793.6,654.0 794.1,654.0 794.4,653.9 795.2,653.6 795.7,653.4 796.0,653.4 796.8,653.2 797.3,653.1 797.5,653.2 798.3,653.3 798.9,653.4 799.1,653.2 799.9,652.5 800.5,652.0 800.7,651.9 801.5,651.6 802.1,651.2 802.3,651.0 803.1,650.0 803.7,649.1 803.9,649.0 804.7,648.4 805.3,647.8 805.5,647.5 806.2,646.1 806.9,644.7 807.0,644.5 807.8,643.2 808.5,642.1 808.6,641.8 809.4,639.9 810.1,638.6 810.2,638.5 811.0,638.1 811.7,638.5 811.8,638.6 812.6,639.8 813.3,641.3 813.4,641.4 814.2,642.4 814.9,643.3 815.0,643.5 815.8,645.6 816.5,647.5 816.5,647.6 817.3,648.8 818.1,649.9 818.1,649.9 818.9,651.0 819.7,651.9 819.7,651.9 820.5,652.2 821.3,652.3 821.3,652.3 822.1,652.7 822.9,652.9 822.9,652.9 823.7,652.9 824.5,652.7 824.5,652.7 825.2,653.1 826.0,653.4 826.1,653.5 826.8,653.4 827.6,653.4 827.7,653.4 828.4,653.7 829.2,654.0 829.3,654.1 830.0,654.0 830.8,654.0 830.9,653.9 831.6,654.0 832.4,654.1 832.5,654.1 833.2,654.1 834.0,654.2 834.1,654.2 834.8,654.2 835.7,654.1 837.3,653.9 838.9,654.6 840.5,654.0 842.1,654.1 843.7,654.4 845.3,654.3 846.9,654.6 848.5,654.9 850.1,654.7 851.7,654.7 853.3,654.6 854.9,654.9 856.5,654.1 858.1,654.8 859.7,654.4 861.3,654.3 862.9,654.7 864.5,654.6 866.1,654.9 867.7,655.0 869.3,654.1 870.9,654.7 872.5,655.3 874.1,655.0 875.7,655.1 877.3,654.8 878.9,654.3 880.5,654.4 882.1,654.9 883.7,655.0 885.3,654.5 886.9,654.7 888.5,654.8 890.1,654.3 891.7,654.7 893.3,655.2 894.9,655.4 896.5,654.7 898.1,655.3 899.7,654.6 901.3,654.5 902.9,654.2 904.5,655.0 906.1,654.7 907.7,655.4 909.3,654.9 910.9,654.8 912.5,654.3 914.1,655.2 915.7,654.7 917.3,654.7 918.9,654.2 920.5,655.1 922.1,655.1 923.7,654.6 925.3,654.8 926.9,654.9 928.5,655.1 930.1,654.8 931.7,655.3 933.3,654.7 934.9,654.6 936.5,654.7 938.1,654.1 939.7,654.6 941.3,655.1 942.9,654.9 944.5,654.6 946.1,654.9 947.7,654.2 949.3,654.7 950.9,655.0 952.5,655.0 954.1,654.6 955.7,655.1 957.3,655.3 958.9,654.7 960.5,655.0 962.1,654.4 963.7,654.3 965.3,655.0 966.9,654.8 968.5,654.9 970.1,654.6 971.7,654.7 973.3,655.0 974.9,655.3 976.5,654.7 978.1,654.3 979.7,655.2 981.3,655.0 982.9,655.0 984.5,654.8 986.1,655.4 987.7,654.8 989.3,654.9 990.9,654.3 992.5,654.6 994.1,654.8 995.0,654.8 995.7,654.7 995.7,654.7 996.3,654.8 997.0,654.8 997.3,654.8 997.7,654.7 998.3,654.6 998.9,654.5 999.0,654.5 999.7,654.8 1000.3,655.1 1000.5,655.2 1001.0,654.9 1001.7,654.6 1002.1,654.3 1002.3,654.4 1003.0,654.4 1003.7,654.5 1003.7,654.5 1004.3,654.5 1005.0,654.6 1005.3,654.6 1005.7,654.4 1006.3,654.2 1006.9,654.0 1007.0,654.0 1007.7,654.1 1008.3,654.2 1008.5,654.2 1009.0,654.1 1009.7,653.8 1010.1,653.7 1010.3,653.5 1011.0,653.1 1011.7,652.6 1011.7,652.6 1012.3,652.5 1013.0,652.4 1013.3,652.4 1013.7,652.1 1014.3,651.6 1014.9,651.4 1015.0,651.4 1015.7,651.5 1016.3,651.7 1016.5,651.8 1017.0,651.9 1017.7,652.2 1018.1,652.3 1018.3,652.4 1019.0,652.7 1019.7,652.9 1019.7,652.9 1020.3,653.3 1021.0,653.7 1021.3,653.8 1021.7,653.9 1022.3,654.1 1022.9,654.2 1023.0,654.2 1023.7,654.3 1024.3,654.4 1024.5,654.4 1025.0,654.5 1025.7,654.7 1026.1,654.8 1026.3,654.7 1027.0,654.3 1027.7,654.0 1027.7,654.0 1028.3,654.1 1029.0,654.3 1029.3,654.4 1029.7,654.3 1030.3,654.3 1030.9,654.2 1031.0,654.3 1031.7,654.6 1032.3,655.0 1032.5,655.1 1033.0,654.9 1033.7,654.7 1034.1,654.6 1034.3,654.6 1035.0,654.6 1035.7,654.6 1037.3,654.5 1038.9,655.0 1040.5,654.7 1042.1,654.9 1043.7,654.2 1045.3,655.1 1046.9,654.9 1048.5,655.0 1050.1,655.2 1051.7,654.8 1053.3,654.8 1054.9,655.0 1056.5,654.9 1058.1,654.8 1059.7,654.8 1061.3,654.7 1062.9,655.0 1064.5,655.1 1066.1,653.0 1067.7,655.4 1069.3,654.4 1070.9,654.8 1072.5,655.3 1074.1,654.7 1075.7,654.4 1077.3,655.2 1078.9,655.0 1080.5,654.5 1082.1,655.1 1083.7,654.5 1085.3,652.2 1086.9,654.8 1088.5,654.7 1090.1,654.5 1091.7,654.7 1093.3,654.6 1094.9,654.9 1096.5,654.8 1098.1,655.0 1099.7,655.1 1101.3,654.5 1102.9,654.5 1104.5,654.8 1106.1,655.3 1107.7,655.1 1109.3,654.7 1110.9,655.1 1112.5,654.5 1114.1,655.1 1115.7,654.7 1117.3,655.1 1118.9,655.0 1120.5,654.8 1122.1,654.9 1123.7,654.5 1125.3,654.8 1126.9,655.1 1128.5,656.0 1130.1,655.0 1131.7,656.2 1133.3,654.6 1134.9,655.1 1136.5,654.4 1138.1,654.6 1139.7,654.9 1141.3,654.5 1142.9,655.3 1144.5,655.1 1146.1,654.7 1147.7,654.7 1149.3,654.5 1150.9,654.4 1152.5,655.0 1154.1,655.0 1155.7,654.9 1157.3,654.9 1158.9,654.7 1160.5,654.9 1162.1,654.4 1163.7,654.8 1165.3,655.2 1166.9,655.2 1168.5,654.7 1170.1,654.7 1171.7,655.2 1173.3,655.3 1174.9,654.4 1176.5,654.7 1178.1,654.9 1179.7,655.2 1181.3,654.6 1182.9,655.0 1184.5,654.7 1186.1,655.5 1187.7,654.9 1189.3,654.8 1190.9,654.7 1192.5,655.1 1194.1,655.0 1195.7,654.5 1197.3,654.9 1198.9,654.4 1200.5,654.6 1202.1,654.4 1203.7,654.4 1205.3,654.6 1206.9,654.5 1208.5,654.9 1210.1,655.0 1211.7,654.7 1213.3,654.5 1214.9,655.0 1216.5,654.2 1218.1,654.2 1219.7,655.0 1221.3,655.0 1222.9,655.0 1224.5,654.7 1226.1,654.4 1227.7,654.6 1229.3,654.9 1230.9,654.5 1232.5,654.5 1234.1,654.3 1235.7,654.4 1237.3,655.3 1238.9,654.8 1240.5,654.4 1242.1,654.4 1243.7,654.5 1245.3,654.8 1246.9,654.3 1248.5,654.6 1250.1,654.0 1251.7,654.2 1253.3,654.7 1254.9,654.8 1256.5,654.2 1258.1,654.3 1259.7,654.7 1261.3,654.3 1262.9,654.3 1264.5,654.5 1266.1,654.4 1267.7,654.6 1269.3,654.4 1270.9,654.0 1272.5,654.0 1274.1,654.0 1275.7,653.5 1277.0,653.5 1277.3,653.5 1277.8,653.6 1278.7,653.8 1278.9,653.9 1279.5,653.4 1280.3,652.6 1280.5,652.5 1281.2,652.9 1282.0,653.4 1282.1,653.5 1282.8,653.2 1283.7,653.0 1283.7,653.0 1284.5,652.7 1285.3,652.5 1285.3,652.5 1286.2,652.3 1286.9,652.2 1287.0,652.1 1287.8,651.8 1288.5,651.5 1288.7,651.5 1289.5,651.1 1290.1,650.8 1290.3,650.6 1291.2,649.7 1291.7,649.1 1292.0,648.8 1292.8,647.9 1293.3,647.3 1293.7,646.7 1294.5,645.3 1294.9,644.5 1295.3,643.7 1296.2,641.8 1296.5,641.0 1297.0,639.3 1297.8,636.2 1298.1,635.1 1298.7,632.7 1299.5,629.0 1299.7,628.1 1300.3,625.8 1301.2,623.6 1301.3,623.4 1302.0,622.7 1302.8,623.5 1302.9,623.7 1303.7,625.9 1304.5,629.2 1305.3,632.6 1306.1,635.7 1306.2,636.0 1307.0,639.3 1307.7,641.7 1307.8,642.0 1308.7,643.5 1309.3,644.4 1309.5,644.9 1310.3,646.8 1310.9,647.9 1311.2,648.2 1312.0,649.1 1312.5,649.5 1312.8,649.8 1313.7,650.2 1314.1,650.4 1314.5,650.7 1315.3,651.2 1315.7,651.4 1316.2,651.6 1317.0,651.9 1317.3,652.0 1317.8,652.2 1318.7,652.5 1318.9,652.6 1319.5,652.8 1320.3,653.1 1320.5,653.2 1321.2,653.0 1322.0,652.8 1322.1,652.8 1322.8,653.2 1323.7,653.8 1323.7,653.8 1324.5,653.7 1325.3,653.5 1325.3,653.5 1326.2,653.9 1326.9,654.2 1327.0,654.2 1328.5,654.0 1330.1,654.3 1331.7,654.2 1333.3,654.5 1334.9,654.2 1336.5,654.1 1338.1,654.5 1339.7,654.6 1341.3,655.0 1342.9,653.9 1344.5,654.4 1346.1,654.8 1347.7,654.2 1349.3,654.5 1350.9,655.2 1352.5,655.0 1354.1,654.4 1355.7,655.0 1357.3,655.0 1358.9,654.9 1360.5,654.8 1362.1,654.7 1363.7,654.4 1365.3,654.6 1366.9,654.9 1368.5,654.8 1370.1,655.2 1371.7,654.6 1373.3,654.1 1374.9,654.6 1376.5,654.8 1378.1,654.9 1379.7,654.8 1381.3,653.1 1382.9,655.2 1384.5,654.6 1386.1,655.0 1387.7,655.2 1389.3,654.4 1390.9,655.2 1392.5,653.8 1394.1,654.5 1395.7,654.9 1397.3,654.7 1398.9,655.0 1400.5,654.7 1402.1,654.7 1403.7,655.4 1405.3,654.7 1406.9,654.7 1408.5,654.5 1410.1,654.6 1411.7,655.0 1413.3,654.9 1414.9,654.8 1416.5,654.6 1418.1,655.0 1419.7,654.3 1421.3,654.7 1422.9,654.7 1424.5,654.5 1426.1,654.8 1427.7,654.6 1429.3,654.5 1430.9,655.2 1432.5,654.9 1434.1,655.1 1435.7,654.7 1437.3,655.0 1438.9,654.9 1440.5,655.0 1442.1,655.4 1443.7,654.6 1445.3,654.8 1446.9,654.7 1448.5,653.7 1450.1,654.3 1451.7,654.6 1453.3,654.8 1454.9,654.4 1456.5,654.9 1458.1,654.9 1459.7,654.4 1461.3,654.9 1462.9,655.0 1464.5,654.6 1466.1,654.1 1467.7,654.8 1469.3,654.3 1470.9,654.1 1472.5,654.2 1474.1,654.0 1475.7,654.3 1476.8,654.2 1477.3,654.1 1477.7,654.1 1478.6,654.1 1478.9,654.1 1479.5,654.0 1480.5,653.8 1480.5,653.8 1481.4,653.5 1482.1,653.2 1482.3,653.2 1483.2,653.2 1483.7,653.2 1484.1,653.2 1485.0,653.2 1485.3,653.2 1486.0,652.9 1486.9,652.5 1486.9,652.5 1487.8,652.8 1488.5,653.0 1488.7,652.8 1489.6,652.0 1490.1,651.5 1490.5,651.3 1491.5,650.8 1491.7,650.6 1492.4,650.4 1493.3,650.0 1494.2,649.1 1494.9,648.3 1495.1,648.0 1496.0,646.6 1496.5,645.9 1497.0,645.0 1497.9,643.1 1498.1,642.6 1498.8,640.9 1499.7,638.5 1499.7,638.4 1500.6,634.3 1501.3,631.2 1501.5,630.7 1502.5,629.3 1502.9,628.8 1503.4,627.8 1504.3,626.9 1504.5,626.9 1505.2,627.3 1506.1,628.3 1506.1,628.3 1507.0,629.8 1507.7,631.1 1508.0,631.7 1508.9,633.6 1509.3,634.5 1509.8,635.3 1510.7,636.6 1510.9,636.9 1511.6,638.6 1512.5,640.6 1512.5,640.7 1513.5,642.2 1514.1,643.2 1514.4,643.6 1515.3,644.9 1515.7,645.5 1516.2,646.1 1517.1,647.1 1517.3,647.2 1518.0,648.0 1518.9,648.8 1519.0,648.8 1519.9,649.4 1520.5,649.7 1520.8,650.1 1521.7,651.2 1522.1,651.7 1522.6,651.5 1523.5,651.1 1523.7,651.0 1524.5,651.5 1525.3,652.0 1525.4,652.0 1526.3,651.9 1526.9,651.8 1527.2,651.9 1528.1,652.3 1528.5,652.4 1529.0,652.6 1530.0,653.0 1530.1,653.0 1530.9,653.0 1531.7,652.9 1531.8,652.9 1533.3,652.5 1534.9,653.3 1536.5,653.3 1538.1,653.5 1539.7,653.9 1541.3,653.9 1542.9,653.8 1544.5,654.2 1546.1,654.1 1547.7,655.0 1549.3,654.2 1550.9,654.2 1552.5,654.1 1554.1,654.1 1555.7,654.3 1557.3,654.3 1558.9,654.0 1560.5,654.8 1562.1,654.4 1563.7,654.5 1565.3,654.4 1566.9,654.5 1568.5,654.5 1570.1,654.6 1571.7,654.3 1573.3,654.8 1574.9,654.4 1576.5,654.9 1578.1,654.1 1579.7,654.3 1581.3,654.9 1582.9,654.6 1584.5,654.5 1586.1,654.8 1587.7,654.4 1589.3,654.7 1590.9,654.1 1592.5,654.6 1594.1,656.4 1595.7,654.9 1597.3,655.0 1598.9,654.5 1600.5,655.2 1602.1,654.6 1603.7,654.2 1605.3,654.1 1606.9,655.2 1608.5,654.7 1610.1,654.6 1611.7,654.6 1613.3,654.5 1614.9,655.4 1616.5,654.8 1618.1,655.3 1619.7,654.7 1621.3,654.1 1622.9,655.0 1624.5,654.7 1626.1,654.7 1627.7,655.2 1629.3,654.7 1630.9,655.1 1632.5,654.8 1634.1,654.6 1635.7,654.9 1637.3,654.6 1638.9,655.1 1640.5,655.8 1642.1,654.8 1643.7,655.0 1645.3,654.9 1646.9,654.7 1648.5,655.0 1650.1,654.7 1651.7,654.9 1653.3,654.5 1654.9,654.8 1656.5,654.9 1658.1,654.5 1659.7,654.6 1661.3,654.5 1662.9,654.9 1664.5,654.4 1666.1,654.7 1667.7,654.9 1669.3,654.5 1670.9,653.8 1672.5,654.2 1674.1,654.3 1675.7,653.7 1677.3,653.9 1678.9,653.5 1680.5,653.2 1682.1,652.8 1683.7,652.4 1685.3,652.1 1686.9,651.9 1688.5,651.8 1690.1,651.5 1691.7,651.1 1693.3,651.0 1694.9,651.0 1696.5,650.5 1698.1,650.8 1699.7,651.0 1701.3,651.4 1702.9,651.6 1704.5,651.9 1706.1,652.0 1707.7,652.8 1709.3,653.0 1710.9,652.7 1712.5,653.4 1714.1,653.4 1715.7,654.4 1717.3,653.9 1718.9,654.1 1720.5,654.4 1722.1,653.6 1723.7,654.5 1725.3,655.0 1726.9,654.7 1728.5,654.9 1730.1,655.1 1731.7,654.5 1733.3,655.3 1734.9,655.0 1736.5,655.1 1738.1,654.6 1739.7,655.1 1741.3,655.0 1742.9,654.7 1744.5,655.5 1746.1,655.0 1747.7,654.8 1749.3,654.9 1750.9,655.1 1752.5,655.2 1754.1,655.1 1755.7,655.2 1757.3,655.3 1758.9,654.6 1760.5,654.8 1762.1,654.6 1763.7,654.0 1765.3,655.3 1766.9,655.1 1768.5,654.6 1770.1,654.8 1771.7,655.2 1773.3,654.8 1774.9,654.9 1776.5,655.0 1778.1,654.4 1779.7,655.2 1781.3,655.0 1782.9,655.1 1784.5,654.7 1786.1,654.7 1787.7,654.8 1789.3,655.0 1790.9,655.0 1792.5,655.0 1794.1,655.4 1795.7,655.3 1797.3,654.7 1798.9,654.8 1800.5,655.4 1802.1,654.9 1803.7,655.3 1805.3,655.4 1806.9,654.8 1808.5,654.9 1810.1,655.0 1811.7,654.7 1813.3,654.7 1814.9,654.8 1816.5,655.2 1818.1,654.8 1819.7,654.9 1821.3,654.8 1822.9,654.6 1824.5,655.4 1826.1,654.3 1827.7,654.8 1829.3,655.1 1830.9,654.6 1832.5,655.1 1834.1,655.3 1835.7,654.7 1837.3,655.0 1838.9,654.7 1840.5,655.1 1842.1,655.0 1843.7,655.0 1845.3,655.4 1846.9,655.1 1848.5,655.3 1850.1,655.1 1851.7,654.6 1853.3,655.0 1854.9,655.1 1856.5,654.6 1858.1,655.3 1859.7,655.0 1861.3,655.1 1862.9,654.7 1864.5,655.0 1866.1,655.1 1867.7,654.9 1869.3,655.0 1870.9,653.7 1872.5,655.4 1874.1,654.7 1875.7,654.4 1877.3,654.7 1878.9,654.7 1880.5,655.1 1882.1,654.7 1883.7,655.1 1885.3,654.7 1886.9,655.6 1888.5,655.1 1890.1,655.5 1891.7,654.7 1893.3,655.2 1894.9,654.7 1896.5,655.1 1898.1,655.2 1899.7,654.5 1901.3,654.7 1902.9,654.6 1904.5,654.6 1906.1,654.8 1907.7,654.7 1909.3,654.6 1910.9,655.0 1912.5,655.1 1914.1,654.6 1915.7,654.8 1917.3,655.0 1918.9,654.9 1920.5,654.8 1922.1,655.2 1923.7,655.2 1925.3,655.2 1926.9,654.9 1928.5,655.5 1930.1,655.5 1931.7,654.9 1933.3,654.9 1934.9,655.3 1936.5,654.7 1938.1,655.1 1939.7,656.3 1941.3,654.8 1942.9,654.9 1944.5,654.5 1946.1,654.8 1947.7,654.4 1949.3,655.6 1950.9,655.4 1952.5,655.3 1954.1,655.0 1955.7,655.2 1957.3,655.3 1958.9,655.2 1960.5,655.2 1962.1,654.7 1963.7,655.1 1965.3,654.8 1966.9,654.6 1968.5,654.6 1970.1,655.0 1971.7,655.2 1973.3,654.5 1974.9,655.4 1976.5,655.3 1978.1,654.8 1979.7,654.8 1981.3,654.9 1982.9,655.2 1984.5,654.8 1986.1,654.6 1987.7,655.0 1989.3,654.2 1990.9,654.9 1992.5,655.2 1994.1,654.9 1995.7,655.0 1997.3,655.0 1998.9,655.0 2000.5,654.8 2002.1,654.5 2003.7,654.7 2005.3,654.7 2006.9,655.1 2008.5,655.1 2010.1,654.8 2011.7,654.4 2013.3,654.3 2014.9,654.4 2016.5,654.8 2018.1,654.4 2019.7,654.1 2021.3,653.7 2022.9,653.9 2024.5,653.4 2026.1,653.0 2027.7,652.6 2029.3,652.5 2030.9,651.4 2032.5,651.3 2034.1,650.5 2035.7,649.4 2037.3,649.0 2038.9,648.0 2040.5,647.3 2042.1,647.1 2043.7,646.8 2045.3,647.2 2046.9,647.4 2048.5,648.0 2050.1,648.7 2051.7,648.3 2053.3,649.9 2054.9,650.0 2056.5,651.3 2058.1,651.6 2059.7,652.4 2061.3,653.2 2062.9,652.8 2064.5,653.6 2066.1,653.8 2067.7,653.5 2069.3,654.4 2070.9,654.9 2072.5,654.3 2074.1,654.3 2075.7,655.5 2077.3,654.5 2078.9,654.2 2080.5,654.4 2082.1,654.6 2083.7,654.6 2085.3,654.7 2086.9,654.5 2088.5,654.9 2090.1,654.7 2091.7,654.4 2093.3,654.6 2094.9,654.7 2096.5,655.1 2098.1,655.0 2099.7,654.8 2101.3,654.9 2102.9,654.9 2104.5,655.4 2106.1,654.7 2107.7,655.0 2109.3,655.1 2110.9,654.6 2112.5,654.9 2114.1,654.9 2115.7,654.8 2117.3,655.1 2118.9,655.2 2120.5,655.2 2122.1,654.9 2123.7,655.0 2125.3,655.6 2126.9,654.6 2128.5,655.0 2130.1,655.2 2131.7,655.0 2133.3,655.1 2134.9,655.0 2136.5,655.1 2138.1,655.3 2139.7,654.8 2141.3,655.0 2142.9,654.9 2144.5,654.8 2146.1,654.9 2147.7,654.6 2149.3,655.1 2150.9,655.4 2152.5,655.3 2154.1,655.2 2155.7,654.6 2157.3,655.3 2158.9,654.6 2160.5,654.8 2162.1,655.3 2163.7,654.5 2165.3,655.0 2166.9,654.8 2168.5,654.7 2170.1,654.4 2171.7,654.8 2173.3,654.5 2174.9,654.8 2176.5,654.8 2178.1,654.0 2179.7,654.1 2181.3,654.1 2182.9,653.7 2184.5,653.5 2186.1,653.7 2187.7,653.4 2189.3,652.7 2190.9,652.8 2192.5,652.8 2194.1,652.0 2195.7,651.7 2197.3,652.1 2198.9,651.7 2200.5,650.5 2202.1,650.2 2203.7,650.3 2205.3,649.6 2206.9,649.6 2208.5,650.2 2210.1,649.4 2211.7,648.4 2213.3,648.4 2214.9,648.7 2216.5,649.5 2218.1,649.3 2219.7,649.1 2221.3,650.0 2222.9,650.4 2224.5,650.4 2226.1,650.8 2227.7,651.3 2229.3,651.9 2230.9,652.0 2232.5,652.4 2234.1,652.6 2235.7,652.4 2237.3,652.9 2238.9,653.5 2240.5,653.5 2242.1,653.8 2243.7,654.3 2245.3,654.3 2246.9,654.5 2248.5,653.9 2250.1,654.6 2251.7,654.4 2253.3,654.4 2254.9,654.4 2256.5,655.1 2258.1,655.0 2259.7,654.6 2261.3,654.5 2262.9,654.8 2264.5,654.7 2266.1,655.3 2267.7,654.5 2269.3,654.4 2270.9,654.8 2272.5,654.9 2274.1,655.0 2275.7,655.1 2277.3,655.5 2278.9,654.8 2280.5,654.8 2282.1,654.5 2283.7,655.0 2285.3,655.2 2286.9,654.9 2288.5,655.3 2290.1,655.0 2291.7,655.4 2293.3,655.1 2294.9,654.7 2296.5,654.8 2298.1,654.6 2299.7,655.7 2301.3,655.1 2302.9,655.2 2304.5,655.6 2306.1,655.0 2307.7,654.9 2309.3,654.7 2310.9,658.1 2312.5,655.1 2314.1,654.9 2315.7,655.2 2317.3,655.2 2318.9,654.5 2320.5,655.2 2322.1,655.1 2323.7,654.9 2325.3,654.9 2326.9,655.5 2328.5,655.5 2330.1,655.6 2331.7,654.7 2333.3,654.9 2334.9,655.3 2336.5,654.7 2338.1,654.8 2339.7,654.5 2341.3,655.6 2342.9,655.3 2344.5,655.2 2346.1,655.1 2347.7,654.9 2349.3,654.9 2350.9,655.2 2352.5,654.9 2354.1,655.4 2355.7,654.9 2357.3,654.8 2358.9,655.4 2360.5,655.0 2362.1,655.2 2363.7,654.9 2365.3,654.4 2366.9,655.2 2368.5,654.7 2370.1,655.4 2371.7,655.7 2373.3,654.5 2374.9,655.2 2376.5,655.2 2378.1,655.1 2379.7,654.7 2381.3,655.3 2382.9,654.7 2384.5,654.9 2385.7,654.9" fill="none" stroke="#B07BDB" stroke-width="9.7" stroke-linejoin="round" stroke-linecap="butt"/>
<polyline points="197.3,889.8 198.9,890.0 200.5,890.4 202.1,890.0 203.7,890.2 205.3,890.1 206.9,890.2 208.5,890.1 210.1,890.0 211.7,890.4 213.3,890.0 214.9,889.8 216.5,890.0 218.1,890.2 219.7,889.9 221.3,890.3 222.9,890.3 224.5,890.6 226.1,890.0 227.7,890.3 229.3,889.8 230.9,890.0 232.5,890.1 234.1,890.2 235.7,890.1 237.3,890.1 238.9,890.0 240.5,890.0 242.1,890.2 243.7,890.2 245.3,890.3 246.9,890.3 248.5,890.4 250.1,889.7 251.7,890.0 253.3,890.1 254.9,890.0 256.5,890.4 258.1,890.3 259.7,890.1 261.3,890.2 262.9,890.4 264.5,890.1 266.1,890.1 267.7,890.3 269.3,890.2 270.9,892.5 272.5,890.2 274.1,890.3 275.7,890.0 277.3,890.0 278.9,890.1 280.5,889.6 282.1,890.2 283.7,890.4 285.3,890.2 286.9,890.1 288.5,891.6 290.1,890.1 291.7,890.4 293.3,890.6 294.9,890.3 296.5,890.4 298.1,890.3 299.7,890.2 301.3,890.2 302.9,890.2 304.5,890.4 306.1,889.8 307.7,890.1 309.3,890.3 310.9,890.0 312.5,890.1 314.1,890.0 315.7,890.3 317.3,890.4 318.9,890.5 320.5,890.3 322.1,890.0 323.7,890.2 325.3,890.3 326.9,890.5 328.5,889.7 330.1,890.3 331.7,889.8 333.3,890.3 334.9,890.3 336.5,890.3 338.1,890.4 339.7,890.3 341.3,890.0 342.9,890.3 344.5,890.4 346.1,890.2 347.7,890.2 349.3,889.9 350.9,890.4 352.5,890.1 354.1,890.0 355.7,890.1 357.3,890.0 358.9,890.1 360.5,890.5 362.1,890.3 363.7,890.5 365.3,890.5 366.9,890.0 368.5,890.3 370.1,890.5 371.7,890.7 373.3,889.9 374.9,889.9 376.5,890.3 378.1,890.1 379.7,890.0 381.3,890.3 382.9,890.0 384.5,889.7 386.1,890.2 387.7,890.8 389.3,890.3 390.9,890.4 392.5,890.2 394.1,890.1 395.7,890.0 397.3,889.8 398.9,890.1 400.5,890.4 402.1,890.3 403.7,890.6 405.3,890.1 406.9,889.8 408.5,890.3 410.1,890.3 411.7,889.9 413.3,889.8 414.9,889.7 416.5,890.2 418.1,889.9 419.7,890.0 421.3,889.9 422.9,889.8 424.5,889.8 426.1,890.1 427.7,889.9 429.3,889.9 430.9,889.4 432.5,890.3 434.1,889.7 435.7,889.9 437.3,889.7 438.9,889.9 440.5,889.5 442.1,889.8 443.7,889.7 445.3,889.9 446.9,889.4 448.5,889.4 450.1,889.4 451.7,889.8 453.3,889.0 454.9,889.2 456.5,888.8 458.1,888.8 459.7,888.6 461.3,888.1 462.9,887.6 464.5,886.9 464.9,886.7 465.3,886.4 465.7,886.1 466.1,885.8 466.1,885.8 466.6,885.5 467.0,885.1 467.4,884.7 467.7,884.4 467.8,884.3 468.2,883.7 468.6,883.0 469.1,882.2 469.3,881.8 469.5,881.5 469.9,880.6 470.3,879.5 470.7,878.2 470.9,877.5 471.1,876.4 471.6,874.0 472.0,871.0 472.4,866.9 472.5,865.7 472.8,861.5 473.2,854.7 473.6,845.8 474.1,834.7 474.1,833.9 474.5,821.8 474.9,806.3 475.3,788.9 475.7,772.3 475.7,771.0 476.1,752.8 476.6,737.1 477.0,726.3 477.3,722.5 477.4,722.3 477.8,726.3 478.2,737.0 478.6,752.8 478.9,763.4 479.1,770.9 479.5,788.9 479.9,806.4 480.3,822.0 480.5,828.0 480.7,834.9 481.1,845.8 481.6,854.5 482.0,861.1 482.1,862.8 482.4,866.6 482.8,870.8 483.2,874.0 483.6,876.5 483.7,876.8 484.1,878.3 484.5,879.7 484.9,880.8 485.3,881.7 485.3,881.7 485.7,882.8 486.1,883.7 486.6,884.6 486.9,885.2 487.0,885.2 487.4,885.4 487.8,885.4 488.2,885.4 488.5,885.4 488.6,885.6 489.1,886.0 489.5,886.3 489.9,886.7 490.1,886.8 491.7,887.6 493.3,888.1 494.9,888.2 496.5,888.7 498.1,888.9 499.7,889.3 501.3,889.3 502.9,889.1 504.5,889.2 506.1,889.2 507.7,889.3 509.3,889.1 510.9,889.3 512.5,888.9 514.1,888.7 515.7,888.8 517.3,888.3 518.9,888.1 520.5,887.3 522.1,887.4 523.7,886.6 525.3,885.9 526.9,885.3 528.5,885.6 530.1,883.2 531.7,882.9 533.3,881.4 534.9,880.8 536.5,880.2 538.1,879.1 539.7,878.9 541.3,878.6 542.9,879.1 544.5,879.2 546.1,879.7 547.7,881.1 549.3,881.9 550.9,882.6 552.5,884.0 554.1,884.8 555.7,886.2 557.3,886.9 558.9,887.2 560.5,887.9 562.1,888.4 563.7,889.1 565.3,889.5 566.9,890.0 568.5,890.1 570.1,890.0 571.7,890.4 573.3,891.0 574.9,891.1 576.5,890.9 578.1,891.0 579.7,891.1 581.3,891.3 582.9,891.0 584.5,891.6 586.1,891.4 587.7,891.6 589.3,891.1 590.9,891.8 592.5,892.1 594.1,891.4 595.7,892.2 597.3,892.1 598.9,891.9 600.5,891.8 602.1,892.8 603.7,892.2 605.3,892.2 606.9,892.1 608.5,892.0 610.1,892.3 611.7,891.9 613.3,892.3 614.9,891.8 616.5,892.0 618.1,891.9 619.7,892.4 621.3,891.8 622.9,893.8 624.5,892.3 626.1,892.2 627.7,892.6 629.3,892.6 630.9,892.3 632.5,892.3 634.1,891.8 635.7,892.0 637.3,892.1 638.9,892.2 640.5,891.9 642.1,892.0 643.7,892.0 645.3,892.4 646.9,892.3 648.5,892.2 650.1,892.2 651.7,892.3 653.3,892.1 654.9,892.2 656.5,891.9 658.1,892.4 659.7,892.4 661.3,892.3 662.9,892.3 664.5,892.3 666.1,892.7 667.7,892.3 669.3,892.0 670.9,892.0 672.5,892.4 674.1,892.5 675.7,892.4 677.3,892.4 678.9,892.3 680.5,891.9 682.1,892.1 683.7,891.9 685.3,892.2 686.9,892.0 688.5,892.3 690.1,892.2 691.7,891.8 693.3,892.4 694.9,892.4 696.5,892.0 698.1,892.3 699.7,892.4 701.3,892.2 702.9,892.4 704.5,892.3 706.1,892.5 707.7,892.3 709.3,892.2 710.9,892.4 712.5,892.4 714.1,892.3 715.7,892.2 717.3,892.1 718.9,892.2 720.5,892.1 722.1,892.3 723.7,892.3 725.3,892.2 726.9,892.3 728.5,892.3 730.1,895.7 731.7,892.5 733.3,892.1 734.9,892.3 736.5,892.2 738.1,892.2 739.7,892.2 741.3,892.1 742.9,892.0 744.5,891.7 746.1,892.3 747.7,892.5 749.3,892.0 750.9,892.3 752.5,892.1 754.1,892.3 755.7,892.0 757.3,892.2 758.9,892.2 760.5,891.7 762.1,892.2 763.7,892.2 765.3,891.7 766.9,892.3 768.5,892.2 770.1,892.2 771.7,892.2 773.3,892.0 774.9,891.9 776.5,892.0 778.1,892.0 779.7,892.5 781.3,892.4 782.9,891.9 784.0,891.9 784.5,891.9 784.8,891.9 785.7,891.9 786.1,892.0 786.5,892.0 787.3,892.0 787.7,892.0 788.2,891.9 789.0,891.7 789.3,891.6 789.8,891.6 790.7,891.5 790.9,891.5 791.5,891.7 792.3,891.9 792.5,892.0 793.2,891.8 794.0,891.7 794.1,891.6 794.8,891.3 795.7,890.9 795.7,890.9 796.5,890.7 797.3,890.5 797.3,890.5 798.2,890.4 798.9,890.3 799.0,890.2 799.8,890.0 800.5,889.8 800.7,889.7 801.5,889.2 802.1,888.8 802.3,888.6 803.2,887.7 803.7,887.1 804.0,886.7 804.8,885.5 805.3,884.8 805.7,884.3 806.5,883.4 806.9,882.9 807.3,882.4 808.2,881.7 808.5,881.5 809.0,881.4 809.8,881.6 810.1,881.8 810.7,882.3 811.5,883.3 811.7,883.6 812.3,884.6 813.2,885.9 813.3,886.0 814.0,886.9 814.8,887.7 814.9,887.8 815.7,888.4 816.5,888.9 817.3,889.5 818.1,890.0 818.2,890.0 819.0,890.2 819.7,890.4 819.8,890.4 820.7,890.9 821.3,891.2 821.5,891.2 822.3,891.3 822.9,891.4 823.2,891.4 824.0,891.3 824.5,891.3 824.8,891.3 825.7,891.5 826.1,891.6 826.5,891.7 827.3,891.9 827.7,892.0 828.2,891.8 829.0,891.5 829.3,891.3 829.8,891.5 830.7,891.8 830.9,891.8 831.5,892.0 832.3,892.2 832.5,892.3 833.2,892.8 834.0,893.4 834.1,893.5 835.7,892.0 837.3,891.7 838.9,892.3 840.5,891.6 842.1,891.7 843.7,892.0 845.3,892.2 846.9,892.2 848.5,892.2 850.1,892.4 851.7,892.3 853.3,892.3 854.9,892.0 856.5,892.2 858.1,892.9 859.7,892.7 861.3,892.4 862.9,892.4 864.5,892.4 866.1,892.1 867.7,892.6 869.3,892.1 870.9,892.2 872.5,892.7 874.1,891.8 875.7,892.3 877.3,891.9 878.9,892.1 880.5,892.2 882.1,892.1 883.7,892.3 885.3,892.1 886.9,892.2 888.5,891.5 890.1,892.1 891.7,891.9 893.3,892.3 894.9,891.9 896.5,892.3 898.1,892.1 899.7,892.1 901.3,892.4 902.9,892.2 904.5,891.7 906.1,892.2 907.7,891.5 909.3,892.2 910.9,892.0 912.5,891.8 914.1,892.1 915.7,891.9 917.3,892.4 918.9,891.8 920.5,892.3 922.1,892.1 923.7,891.7 925.3,891.5 926.9,891.9 928.5,891.6 930.1,891.5 931.7,891.4 933.3,891.1 934.9,891.1 936.5,890.9 938.1,890.7 939.7,890.8 941.3,891.2 942.9,891.0 944.5,890.5 946.1,890.4 947.7,890.4 949.3,890.4 950.9,890.1 952.5,889.8 954.1,889.7 955.7,889.9 957.3,890.1 958.9,888.7 960.5,889.0 962.1,889.5 963.7,889.3 965.3,889.4 966.9,889.6 968.5,889.4 970.1,889.1 971.7,889.0 973.3,889.5 974.9,889.4 976.5,890.1 978.1,889.6 979.7,889.9 981.3,889.7 982.9,890.1 984.5,890.2 985.0,890.3 986.0,890.5 986.1,890.6 987.0,890.7 987.7,890.9 988.0,890.8 989.0,890.7 989.3,890.6 990.0,890.6 990.9,890.6 991.0,890.6 992.0,891.1 992.5,891.3 993.0,891.2 994.0,891.1 994.1,891.1 995.0,891.1 995.7,891.2 996.0,891.2 997.0,891.3 997.3,891.3 998.0,891.4 998.9,891.5 999.0,891.5 1000.0,891.5 1000.5,891.5 1001.0,891.4 1002.0,891.4 1002.1,891.4 1003.0,891.3 1003.7,891.3 1004.0,891.2 1005.0,890.9 1005.3,890.8 1006.0,890.7 1006.9,890.6 1007.0,890.5 1008.0,890.4 1008.5,890.3 1009.0,890.1 1010.0,889.8 1010.1,889.8 1011.0,888.9 1011.7,888.2 1012.0,888.3 1013.0,888.7 1013.3,888.8 1014.0,888.6 1014.9,888.5 1015.0,888.5 1016.0,888.6 1016.5,888.7 1017.0,888.7 1018.0,888.9 1018.1,888.9 1019.0,889.6 1019.7,890.1 1020.0,890.2 1021.0,890.5 1021.3,890.6 1022.0,890.7 1022.9,890.8 1023.0,890.9 1024.0,891.3 1024.5,891.5 1025.0,891.6 1026.0,891.7 1026.1,891.7 1027.0,891.8 1027.7,891.8 1028.0,891.8 1029.0,891.6 1029.3,891.5 1030.0,891.6 1030.9,891.7 1031.0,891.8 1032.0,891.9 1032.5,891.9 1033.0,892.1 1034.0,892.4 1034.1,892.4 1035.0,892.2 1035.7,891.9 1036.0,892.0 1037.0,892.0 1037.3,892.1 1038.0,892.0 1038.9,891.9 1039.0,891.9 1040.0,892.0 1040.5,892.1 1041.0,892.1 1042.0,892.3 1042.1,892.3 1043.0,892.0 1043.7,891.8 1044.0,891.7 1045.0,891.6 1045.3,891.6 1046.9,892.4 1048.5,892.2 1050.1,892.1 1051.7,892.5 1053.3,892.5 1054.9,891.8 1056.5,892.2 1058.1,892.5 1059.7,892.1 1061.3,892.2 1062.9,892.5 1064.5,892.2 1066.1,892.0 1067.7,892.2 1069.3,892.0 1070.9,892.4 1072.5,891.9 1074.1,892.5 1075.7,892.0 1077.3,892.8 1078.9,892.0 1080.5,892.3 1082.1,892.5 1083.7,892.6 1085.3,892.6 1086.9,892.3 1088.5,892.4 1090.1,892.4 1091.7,892.5 1093.3,892.2 1094.9,892.6 1096.5,892.4 1098.1,892.6 1099.7,892.4 1101.3,892.5 1102.9,892.2 1104.5,892.3 1106.1,892.1 1107.7,892.3 1109.3,892.3 1110.9,892.5 1112.5,892.1 1114.1,893.1 1115.7,892.3 1117.3,892.6 1118.9,892.6 1120.5,891.8 1122.1,892.3 1123.7,892.7 1125.3,891.8 1126.9,892.5 1128.5,892.2 1130.1,892.3 1131.7,892.4 1133.3,891.9 1134.9,892.4 1136.5,892.2 1138.1,892.2 1139.7,892.5 1141.3,893.1 1142.9,892.4 1144.5,892.5 1146.1,892.3 1147.7,892.2 1149.3,892.4 1150.9,892.7 1152.5,892.4 1154.1,892.6 1155.7,892.3 1157.3,892.9 1158.9,892.0 1160.5,892.5 1162.1,892.5 1163.7,892.4 1165.3,892.1 1166.9,892.1 1168.5,892.3 1170.1,892.4 1171.7,892.1 1173.3,892.1 1174.9,892.5 1176.5,892.6 1178.1,892.2 1179.7,892.2 1181.3,892.2 1182.9,892.9 1184.5,892.5 1186.1,892.3 1187.7,892.6 1189.3,892.9 1190.9,892.6 1192.5,892.0 1194.1,892.3 1195.7,892.3 1197.3,892.3 1198.9,892.1 1200.5,892.3 1202.1,892.1 1203.7,892.4 1205.3,892.3 1206.9,892.0 1208.5,892.0 1210.1,892.2 1211.7,892.5 1213.3,892.4 1214.9,892.3 1216.5,891.6 1218.1,892.2 1219.7,892.2 1221.3,892.2 1222.9,892.0 1224.5,892.2 1226.1,892.2 1227.7,892.9 1229.3,892.4 1230.9,892.2 1232.5,892.3 1234.1,892.2 1235.7,892.3 1237.3,892.2 1238.9,892.3 1240.5,892.5 1242.1,892.4 1243.7,892.3 1245.3,891.1 1246.9,892.3 1248.5,892.0 1250.1,891.8 1251.7,892.0 1253.3,892.1 1254.9,892.2 1256.5,892.3 1258.1,892.0 1259.7,891.9 1261.3,891.1 1262.9,892.3 1264.5,891.9 1266.1,892.0 1267.7,892.2 1269.3,891.9 1270.9,891.7 1272.5,891.2 1274.1,891.9 1275.0,891.7 1275.7,891.6 1275.8,891.6 1276.7,891.5 1277.3,891.4 1277.5,891.3 1278.3,891.2 1278.9,891.1 1279.2,891.0 1280.0,890.8 1280.5,890.7 1280.8,890.7 1281.7,890.7 1282.1,890.7 1282.5,890.6 1283.3,890.5 1283.7,890.4 1284.2,890.4 1285.0,890.3 1285.3,890.2 1285.8,889.9 1286.7,889.3 1286.9,889.2 1287.5,889.1 1288.3,888.9 1288.5,888.9 1289.2,888.3 1290.0,887.4 1290.1,887.3 1290.8,886.7 1291.7,885.7 1291.7,885.6 1292.5,884.1 1293.3,882.2 1293.3,882.2 1294.2,880.3 1294.9,878.3 1295.0,878.0 1295.8,875.2 1296.5,872.7 1296.7,872.1 1297.5,869.0 1298.1,866.9 1298.3,866.2 1299.2,863.9 1299.7,863.2 1300.0,863.1 1300.8,864.0 1301.3,865.1 1301.7,866.2 1302.5,869.1 1302.9,870.6 1303.3,872.1 1304.2,874.9 1304.5,876.0 1305.0,877.6 1305.8,880.0 1306.1,880.7 1306.7,882.2 1307.5,884.1 1307.7,884.5 1308.3,885.4 1309.2,886.4 1309.3,886.5 1310.0,887.4 1310.8,888.3 1310.9,888.3 1311.7,888.6 1312.5,888.9 1313.3,889.2 1314.1,889.4 1314.2,889.4 1315.0,889.8 1315.7,890.1 1315.8,890.2 1316.7,890.6 1317.3,891.0 1317.5,890.9 1318.3,890.8 1318.9,890.7 1319.2,890.8 1320.0,891.0 1320.5,891.1 1320.8,891.2 1321.7,891.3 1322.1,891.3 1322.5,891.3 1323.3,891.3 1323.7,891.2 1324.2,891.4 1325.0,891.7 1325.3,891.8 1326.9,891.7 1328.5,891.8 1330.1,891.4 1331.7,891.5 1333.3,891.3 1334.9,891.9 1336.5,891.9 1338.1,892.2 1339.7,892.4 1341.3,892.0 1342.9,892.1 1344.5,892.2 1346.1,892.3 1347.7,892.0 1349.3,892.3 1350.9,892.1 1352.5,892.1 1354.1,892.4 1355.7,892.1 1357.3,892.0 1358.9,892.4 1360.5,892.3 1362.1,892.2 1363.7,892.2 1365.3,892.4 1366.9,892.2 1368.5,892.5 1370.1,892.4 1371.7,892.6 1373.3,892.6 1374.9,892.5 1376.5,892.3 1378.1,892.3 1379.7,892.2 1381.3,893.0 1382.9,892.3 1384.5,892.5 1386.1,892.6 1387.7,892.0 1389.3,892.2 1390.9,892.3 1392.5,892.1 1394.1,892.1 1395.7,892.2 1397.3,892.6 1398.9,892.5 1400.5,892.4 1402.1,890.6 1403.7,892.0 1405.3,892.5 1406.9,892.4 1408.5,892.1 1410.1,892.4 1411.7,892.3 1413.3,892.2 1414.9,892.1 1416.5,892.2 1418.1,892.1 1419.7,893.1 1421.3,892.4 1422.9,892.4 1424.5,891.3 1426.1,892.2 1427.7,892.8 1429.3,891.9 1430.9,892.6 1432.5,892.4 1434.1,892.3 1435.7,892.2 1437.3,892.2 1438.9,892.0 1440.5,894.7 1442.1,892.3 1443.7,891.9 1445.3,892.4 1446.9,892.5 1448.5,891.5 1450.1,891.9 1451.7,892.3 1453.3,892.2 1454.9,892.2 1456.5,892.3 1458.1,892.3 1459.7,892.3 1461.3,892.5 1462.9,892.1 1464.5,892.2 1466.1,891.7 1467.7,891.9 1469.3,891.7 1470.9,892.2 1472.5,892.3 1473.3,892.1 1474.1,891.9 1474.3,891.8 1475.3,891.5 1475.7,891.4 1476.3,891.5 1477.3,891.6 1478.3,891.5 1478.9,891.5 1479.3,891.5 1480.3,891.4 1480.5,891.4 1481.3,891.4 1482.1,891.4 1482.3,891.4 1483.3,891.3 1483.7,891.2 1484.3,890.8 1485.3,890.1 1486.3,890.5 1486.9,890.7 1487.3,890.5 1488.3,890.0 1488.5,889.9 1489.3,889.6 1490.1,889.2 1490.3,889.2 1491.3,889.0 1491.7,888.8 1492.3,888.3 1493.3,887.2 1494.3,886.1 1494.9,885.2 1495.3,884.7 1496.3,883.2 1496.5,882.9 1497.3,881.6 1498.1,880.1 1498.3,879.7 1499.3,877.5 1499.7,876.7 1500.3,875.3 1501.3,873.3 1502.3,871.6 1502.9,871.0 1503.3,870.9 1504.3,871.1 1504.5,871.2 1505.3,872.0 1506.1,873.1 1506.3,873.3 1507.3,874.4 1507.7,874.8 1508.3,875.9 1509.3,877.7 1510.3,879.1 1510.9,879.9 1511.3,880.4 1512.3,881.8 1512.5,882.0 1513.3,882.9 1514.1,883.8 1514.3,884.0 1515.3,885.1 1515.7,885.4 1516.3,885.9 1517.3,886.5 1518.3,887.2 1518.9,887.5 1519.3,887.7 1520.3,888.3 1520.5,888.4 1521.3,888.7 1522.1,888.9 1522.3,889.0 1523.3,889.4 1523.7,889.6 1524.3,889.8 1525.3,890.0 1526.3,890.1 1526.9,890.2 1527.3,890.3 1528.3,890.4 1528.5,890.5 1529.3,890.6 1530.1,890.7 1530.3,890.7 1531.3,891.1 1531.7,891.3 1532.3,891.2 1533.3,891.0 1534.9,891.1 1536.5,890.6 1538.1,891.5 1539.7,891.4 1541.3,891.5 1542.9,891.6 1544.5,891.7 1546.1,891.8 1547.7,891.9 1549.3,891.5 1550.9,891.6 1552.5,891.3 1554.1,892.1 1555.7,892.2 1557.3,892.3 1558.9,892.1 1560.5,892.3 1562.1,892.1 1563.7,892.1 1565.3,891.8 1566.9,892.0 1568.5,892.0 1570.1,892.4 1571.7,892.5 1573.3,892.1 1574.9,892.3 1576.5,892.3 1578.1,892.1 1579.7,891.9 1581.3,892.1 1582.9,891.9 1584.5,892.2 1586.1,892.2 1587.7,892.2 1589.3,892.2 1590.9,892.4 1592.5,892.1 1594.1,892.5 1595.7,891.9 1597.3,892.3 1598.9,892.6 1600.5,892.1 1602.1,892.0 1603.7,892.5 1605.3,892.2 1606.9,892.5 1608.5,892.5 1610.1,892.3 1611.7,892.3 1613.3,892.6 1614.9,892.4 1616.5,892.1 1618.1,892.4 1619.7,892.5 1621.3,892.4 1622.9,892.4 1624.5,892.3 1626.1,892.3 1627.7,892.2 1629.3,892.0 1630.9,892.6 1632.5,892.2 1634.1,892.4 1635.7,892.0 1637.3,892.4 1638.9,892.2 1640.5,893.0 1642.1,892.1 1643.7,892.1 1645.3,892.5 1646.9,892.6 1648.5,891.9 1650.1,892.4 1651.7,892.5 1653.3,892.0 1654.9,892.4 1656.5,892.1 1658.1,892.0 1659.7,892.1 1661.3,892.1 1662.9,891.8 1664.5,892.5 1666.1,891.9 1667.7,891.7 1669.3,892.0 1670.9,891.7 1672.5,891.8 1674.1,891.3 1675.7,891.3 1677.3,891.0 1678.9,890.8 1680.5,890.5 1682.1,890.3 1683.7,890.5 1685.3,889.7 1686.9,889.5 1688.5,889.4 1690.1,889.4 1691.7,889.2 1693.3,889.2 1694.9,888.7 1696.5,889.0 1698.1,889.0 1699.7,889.1 1701.3,889.3 1702.9,889.0 1704.5,889.7 1706.1,889.9 1707.7,889.1 1709.3,890.4 1710.9,891.0 1712.5,890.8 1714.1,891.2 1715.7,891.2 1717.3,891.2 1718.9,891.4 1720.5,891.6 1722.1,891.6 1723.7,892.1 1725.3,891.8 1726.9,892.3 1728.5,892.1 1730.1,892.0 1731.7,892.3 1733.3,892.0 1734.9,891.9 1736.5,892.6 1738.1,891.9 1739.7,892.1 1741.3,892.0 1742.9,892.3 1744.5,892.3 1746.1,892.2 1747.7,891.9 1749.3,892.3 1750.9,892.3 1752.5,892.1 1754.1,892.3 1755.7,892.5 1757.3,892.1 1758.9,892.3 1760.5,892.0 1762.1,892.3 1763.7,892.3 1765.3,892.7 1766.9,892.3 1768.5,892.1 1770.1,892.3 1771.7,891.7 1773.3,892.1 1774.9,891.7 1776.5,891.6 1778.1,891.8 1779.7,891.6 1781.3,891.7 1782.9,891.0 1784.5,891.3 1786.1,891.0 1787.7,890.9 1789.3,890.5 1790.9,891.0 1792.5,890.7 1794.1,890.4 1795.7,890.3 1797.3,890.3 1798.9,890.8 1800.5,890.5 1802.1,890.4 1803.7,890.7 1805.3,890.6 1806.9,890.7 1808.5,892.7 1810.1,890.9 1811.7,891.1 1813.3,890.8 1814.9,891.2 1816.5,891.2 1818.1,891.4 1819.7,891.5 1821.3,891.5 1822.9,891.6 1824.5,890.4 1826.1,891.7 1827.7,891.7 1829.3,892.1 1830.9,892.3 1832.5,892.1 1834.1,892.2 1835.7,892.0 1837.3,892.2 1838.9,892.5 1840.5,892.5 1842.1,892.4 1843.7,892.3 1845.3,892.0 1846.9,892.5 1848.5,892.5 1850.1,892.7 1851.7,892.9 1853.3,892.5 1854.9,892.7 1856.5,892.2 1858.1,892.7 1859.7,892.7 1861.3,892.8 1862.9,892.6 1864.5,892.6 1866.1,892.8 1867.7,892.3 1869.3,892.6 1870.9,892.7 1872.5,892.3 1874.1,892.2 1875.7,892.6 1877.3,892.5 1878.9,892.6 1880.5,892.6 1882.1,892.3 1883.7,892.6 1885.3,892.7 1886.9,892.4 1888.5,892.4 1890.1,892.3 1891.7,892.7 1893.3,892.9 1894.9,892.2 1896.5,892.7 1898.1,892.7 1899.7,892.4 1901.3,892.4 1902.9,892.3 1904.5,892.3 1906.1,892.5 1907.7,892.6 1909.3,892.5 1910.9,892.7 1912.5,892.6 1914.1,892.3 1915.7,892.8 1917.3,892.8 1918.9,892.4 1920.5,892.9 1922.1,892.6 1923.7,892.5 1925.3,892.9 1926.9,892.0 1928.5,892.2 1930.1,892.7 1931.7,892.4 1933.3,892.3 1934.9,892.8 1936.5,892.6 1938.1,892.2 1939.7,892.4 1941.3,892.7 1942.9,892.9 1944.5,892.1 1946.1,892.5 1947.7,892.4 1949.3,892.1 1950.9,892.4 1952.5,892.1 1954.1,892.4 1955.7,892.8 1957.3,892.6 1958.9,892.6 1960.5,892.6 1962.1,892.5 1963.7,892.7 1965.3,892.2 1966.9,892.4 1968.5,892.6 1970.1,892.3 1971.7,892.3 1973.3,892.7 1974.9,892.7 1976.5,892.3 1978.1,892.2 1979.7,892.5 1981.3,892.4 1982.9,892.2 1984.5,892.5 1986.1,892.4 1987.7,892.3 1989.3,892.9 1990.9,892.6 1992.5,892.4 1994.1,892.4 1995.7,892.8 1997.3,892.3 1998.9,891.9 2000.5,892.1 2002.1,891.9 2003.7,891.7 2005.3,891.8 2006.9,891.7 2008.5,891.5 2010.1,891.2 2011.7,891.4 2013.3,890.7 2014.9,891.0 2016.5,890.6 2018.1,890.4 2019.7,889.6 2021.3,890.3 2022.9,889.3 2024.5,889.2 2026.1,889.2 2027.7,888.7 2029.3,888.5 2030.9,887.9 2032.5,888.0 2034.1,888.0 2035.7,887.9 2037.3,887.6 2038.9,887.7 2040.5,887.7 2042.1,887.5 2043.7,887.6 2045.3,888.3 2046.9,887.9 2048.5,888.5 2050.1,888.5 2051.7,889.1 2053.3,888.9 2054.9,889.4 2056.5,889.6 2058.1,889.8 2059.7,890.1 2061.3,890.1 2062.9,890.5 2064.5,890.7 2066.1,891.1 2067.7,891.1 2069.3,891.0 2070.9,891.4 2072.5,891.5 2074.1,891.5 2075.7,892.1 2077.3,892.0 2078.9,892.1 2080.5,891.9 2082.1,892.0 2083.7,892.4 2085.3,891.9 2086.9,892.3 2088.5,892.3 2090.1,892.2 2091.7,892.3 2093.3,892.1 2094.9,892.4 2096.5,892.1 2098.1,892.1 2099.7,892.7 2101.3,892.2 2102.9,891.9 2104.5,892.6 2106.1,892.3 2107.7,891.7 2109.3,892.4 2110.9,892.6 2112.5,892.5 2114.1,892.8 2115.7,892.4 2117.3,892.6 2118.9,892.2 2120.5,892.5 2122.1,892.8 2123.7,892.6 2125.3,892.5 2126.9,892.0 2128.5,892.4 2130.1,892.2 2131.7,892.6 2133.3,892.3 2134.9,892.5 2136.5,892.3 2138.1,892.9 2139.7,892.2 2141.3,892.5 2142.9,893.0 2144.5,892.5 2146.1,892.3 2147.7,892.6 2149.3,892.7 2150.9,892.6 2152.5,892.0 2154.1,892.5 2155.7,891.9 2157.3,892.8 2158.9,892.4 2160.5,892.3 2162.1,892.5 2163.7,892.4 2165.3,892.0 2166.9,892.6 2168.5,892.1 2170.1,891.8 2171.7,892.4 2173.3,892.4 2174.9,892.2 2176.5,892.0 2178.1,891.6 2179.7,891.9 2181.3,892.0 2182.9,891.6 2184.5,891.4 2186.1,891.0 2187.7,891.2 2189.3,891.0 2190.9,890.3 2192.5,890.1 2194.1,890.1 2195.7,890.1 2197.3,890.0 2198.9,889.6 2200.5,889.5 2202.1,889.9 2203.7,889.2 2205.3,889.1 2206.9,889.0 2208.5,888.8 2210.1,888.8 2211.7,888.6 2213.3,888.8 2214.9,888.5 2216.5,889.1 2218.1,888.8 2219.7,888.9 2221.3,888.8 2222.9,889.1 2224.5,889.3 2226.1,889.5 2227.7,889.5 2229.3,889.6 2230.9,890.1 2232.5,890.3 2234.1,890.6 2235.7,890.9 2237.3,890.7 2238.9,890.9 2240.5,891.1 2242.1,890.9 2243.7,891.1 2245.3,891.8 2246.9,891.8 2248.5,891.6 2250.1,891.7 2251.7,891.9 2253.3,891.7 2254.9,892.2 2256.5,892.1 2258.1,892.6 2259.7,892.0 2261.3,892.5 2262.9,892.2 2264.5,892.6 2266.1,892.2 2267.7,892.6 2269.3,892.4 2270.9,892.3 2272.5,892.5 2274.1,892.6 2275.7,892.6 2277.3,891.1 2278.9,892.7 2280.5,892.0 2282.1,892.5 2283.7,892.1 2285.3,892.5 2286.9,892.7 2288.5,892.3 2290.1,892.3 2291.7,892.6 2293.3,892.5 2294.9,892.9 2296.5,892.7 2298.1,892.7 2299.7,893.0 2301.3,892.5 2302.9,892.6 2304.5,892.4 2306.1,892.7 2307.7,892.8 2309.3,892.9 2310.9,892.6 2312.5,892.5 2314.1,892.5 2315.7,892.3 2317.3,892.7 2318.9,892.9 2320.5,892.1 2322.1,892.2 2323.7,892.9 2325.3,892.3 2326.9,892.7 2328.5,892.4 2330.1,892.8 2331.7,892.8 2333.3,892.7 2334.9,892.8 2336.5,892.7 2338.1,892.8 2339.7,893.1 2341.3,892.9 2342.9,893.0 2344.5,892.5 2346.1,892.6 2347.7,892.6 2349.3,892.7 2350.9,892.5 2352.5,892.8 2354.1,891.7 2355.7,892.7 2357.3,892.7 2358.9,892.8 2360.5,892.4 2362.1,893.0 2363.7,892.7 2365.3,892.8 2366.9,892.8 2368.5,892.9 2370.1,892.1 2371.7,892.7 2373.3,892.6 2374.9,892.3 2376.5,892.7 2378.1,892.6 2379.7,892.6 2381.3,893.2 2382.9,892.3 2384.5,892.7 2385.7,892.9" fill="none" stroke="#3FA96C" stroke-width="9.0" stroke-linejoin="round" stroke-linecap="butt"/>
<polyline points="197.3,1127.5 198.9,1127.7 200.5,1127.5 202.1,1127.5 203.7,1129.7 205.3,1127.8 206.9,1127.7 208.5,1127.5 210.1,1127.5 211.7,1127.2 213.3,1127.5 214.9,1127.3 216.5,1127.4 218.1,1127.7 219.7,1127.3 221.3,1127.4 222.9,1127.6 224.5,1127.7 226.1,1129.3 227.7,1127.6 229.3,1127.6 230.9,1127.3 232.5,1127.1 234.1,1127.1 235.7,1127.6 237.3,1127.5 238.9,1125.7 240.5,1127.4 242.1,1127.4 243.7,1127.4 245.3,1127.5 246.9,1128.0 248.5,1127.3 250.1,1127.5 251.7,1127.4 253.3,1127.4 254.9,1127.3 256.5,1127.5 258.1,1127.4 259.7,1127.6 261.3,1127.6 262.9,1127.3 264.5,1127.7 266.1,1127.3 267.7,1127.6 269.3,1128.0 270.9,1127.4 272.5,1127.8 274.1,1127.8 275.7,1127.6 277.3,1127.1 278.9,1127.8 280.5,1127.5 282.1,1127.4 283.7,1127.8 285.3,1127.4 286.9,1127.7 288.5,1127.4 290.1,1127.6 291.7,1127.3 293.3,1127.4 294.9,1126.9 296.5,1127.4 298.1,1127.6 299.7,1127.5 301.3,1127.6 302.9,1127.8 304.5,1127.5 306.1,1127.2 307.7,1127.5 309.3,1127.6 310.9,1127.7 312.5,1127.7 314.1,1127.7 315.7,1127.5 317.3,1127.7 318.9,1127.2 320.5,1127.8 322.1,1127.4 323.7,1127.6 325.3,1127.5 326.9,1127.6 328.5,1127.4 330.1,1127.7 331.7,1127.3 333.3,1127.7 334.9,1127.7 336.5,1128.0 338.1,1127.5 339.7,1127.5 341.3,1127.6 342.9,1127.5 344.5,1127.5 346.1,1127.3 347.7,1127.3 349.3,1127.4 350.9,1127.5 352.5,1127.3 354.1,1127.3 355.7,1127.5 357.3,1127.7 358.9,1127.5 360.5,1127.7 362.1,1127.7 363.7,1127.7 365.3,1127.4 366.9,1127.5 368.5,1127.2 370.1,1127.4 371.7,1127.6 373.3,1127.3 374.9,1127.8 376.5,1127.8 378.1,1127.5 379.7,1127.7 381.3,1127.2 382.9,1127.3 384.5,1127.4 386.1,1127.7 387.7,1127.5 389.3,1127.3 390.9,1127.9 392.5,1127.6 394.1,1127.6 395.7,1127.6 397.3,1127.5 398.9,1127.4 400.5,1127.4 402.1,1127.2 403.7,1127.8 405.3,1127.3 406.9,1127.1 408.5,1127.3 410.1,1127.1 411.7,1127.9 413.3,1127.5 414.9,1127.7 416.5,1127.7 418.1,1127.5 419.7,1127.5 421.3,1127.3 422.9,1127.4 424.5,1127.3 426.1,1127.4 427.7,1127.2 429.3,1127.6 430.9,1127.5 432.5,1127.3 434.1,1127.0 435.7,1127.4 437.3,1127.4 438.9,1127.2 440.5,1127.0 442.1,1127.3 443.7,1127.4 445.3,1126.7 446.9,1127.2 448.5,1126.7 450.1,1127.0 451.7,1127.3 453.3,1126.9 454.9,1126.8 456.5,1126.6 458.1,1126.5 459.7,1126.8 461.3,1126.5 462.9,1125.9 464.5,1125.6 466.1,1125.2 467.7,1125.1 469.3,1124.0 470.5,1123.3 470.9,1123.0 471.3,1122.5 471.7,1122.1 472.1,1121.5 472.5,1120.9 472.9,1120.2 473.3,1119.5 473.7,1118.6 474.1,1117.7 474.5,1116.7 474.9,1115.5 475.3,1113.9 475.7,1112.0 476.1,1109.0 476.5,1105.2 476.9,1100.2 477.3,1093.8 477.7,1086.1 478.1,1076.0 478.5,1063.4 478.9,1048.1 479.3,1030.2 479.7,1010.8 480.1,991.9 480.5,976.9 480.9,969.4 481.3,972.0 481.7,983.7 482.1,1001.1 482.5,1020.6 482.9,1039.4 483.3,1056.2 483.7,1070.3 484.1,1081.8 484.5,1090.8 484.9,1097.7 485.3,1103.0 485.7,1107.1 486.1,1110.3 486.5,1112.8 486.9,1114.7 487.3,1116.2 487.7,1117.3 488.1,1118.3 488.5,1119.1 488.9,1119.9 489.3,1120.6 489.7,1121.2 490.1,1121.7 490.5,1122.0 490.9,1122.3 491.3,1122.6 491.7,1122.9 493.3,1123.9 494.9,1124.5 496.5,1125.1 498.1,1125.3 499.7,1125.5 501.3,1125.4 502.9,1125.3 504.5,1125.5 506.1,1125.5 507.7,1125.5 509.3,1125.3 510.9,1125.8 512.5,1125.3 514.1,1124.6 515.7,1124.5 517.3,1124.0 518.9,1123.8 520.5,1123.1 522.1,1121.6 523.7,1121.0 525.3,1118.5 526.9,1116.5 528.5,1113.7 530.1,1110.2 531.7,1106.5 533.3,1102.5 534.9,1097.7 536.5,1093.3 538.1,1089.8 539.7,1086.7 541.3,1084.9 542.9,1084.7 544.5,1086.1 546.1,1088.7 547.7,1092.5 549.3,1097.0 550.9,1101.1 552.5,1104.9 554.1,1109.1 555.7,1112.5 557.3,1115.8 558.9,1118.4 560.5,1120.1 562.1,1121.9 563.7,1123.2 565.3,1124.1 566.9,1124.6 568.5,1124.3 570.1,1125.2 571.7,1125.9 573.3,1126.2 574.9,1126.7 576.5,1126.3 578.1,1126.6 579.7,1126.7 581.3,1127.2 582.9,1126.6 584.5,1127.0 586.1,1127.7 587.7,1127.6 589.3,1127.2 590.9,1127.6 592.5,1127.8 594.1,1127.9 595.7,1127.8 597.3,1127.7 598.9,1128.1 600.5,1128.0 602.1,1128.2 603.7,1128.2 605.3,1128.1 606.9,1128.5 608.5,1128.2 610.1,1128.4 611.7,1128.2 613.3,1128.3 614.9,1128.4 616.5,1128.3 618.1,1128.5 619.7,1128.7 621.3,1128.4 622.9,1128.8 624.5,1128.4 626.1,1128.8 627.7,1128.6 629.3,1128.9 630.9,1128.3 632.5,1128.8 634.1,1128.4 635.7,1128.8 637.3,1128.5 638.9,1128.7 640.5,1128.5 642.1,1128.2 643.7,1128.4 645.3,1128.5 646.9,1128.6 648.5,1128.1 650.1,1128.4 651.7,1128.5 653.3,1128.6 654.9,1128.7 656.5,1128.5 658.1,1128.3 659.7,1128.7 661.3,1128.6 662.9,1128.8 664.5,1128.5 666.1,1127.4 667.7,1128.5 669.3,1128.7 670.9,1128.7 672.5,1128.8 674.1,1128.5 675.7,1128.6 677.3,1128.5 678.9,1128.6 680.5,1128.8 682.1,1129.3 683.7,1128.7 685.3,1128.8 686.9,1128.7 688.5,1128.9 690.1,1128.8 691.7,1128.9 693.3,1128.5 694.9,1129.2 696.5,1129.0 698.1,1128.4 699.7,1128.8 701.3,1128.4 702.9,1128.3 704.5,1128.5 706.1,1128.6 707.7,1128.6 709.3,1128.7 710.9,1128.3 712.5,1128.9 714.1,1128.9 715.7,1128.8 717.3,1128.6 718.9,1128.7 720.5,1128.6 722.1,1128.9 723.7,1128.8 725.3,1129.1 726.9,1128.6 728.5,1129.0 730.1,1128.6 731.7,1128.7 733.3,1128.5 734.9,1128.8 736.5,1128.7 738.1,1128.8 739.7,1129.0 741.3,1128.7 742.9,1128.8 744.5,1128.9 746.1,1128.7 747.7,1128.6 749.3,1128.8 750.9,1128.8 752.5,1128.9 754.1,1128.9 755.7,1128.6 757.3,1128.8 758.9,1129.0 760.5,1128.6 762.1,1128.8 763.7,1128.6 765.3,1128.7 766.9,1129.0 768.5,1128.7 770.1,1128.5 771.7,1128.8 773.3,1128.7 774.9,1128.9 776.5,1128.4 778.1,1128.5 779.7,1128.6 781.3,1128.3 782.9,1128.9 784.5,1128.2 786.1,1128.4 787.7,1128.3 789.3,1128.4 790.9,1128.7 791.0,1128.7 791.8,1128.7 792.5,1128.6 793.2,1128.6 794.0,1128.6 794.1,1128.6 794.8,1128.6 795.5,1128.5 795.7,1128.5 796.2,1128.3 797.0,1128.1 797.3,1127.9 797.8,1128.0 798.5,1128.2 798.9,1128.3 799.2,1128.2 800.0,1127.9 800.5,1127.8 800.8,1127.8 801.5,1127.8 802.1,1127.9 802.2,1127.8 803.0,1127.7 803.7,1127.6 803.8,1127.6 804.5,1127.4 805.2,1127.1 805.3,1127.1 806.0,1126.9 806.8,1126.6 806.9,1126.5 807.5,1126.0 808.2,1125.3 808.5,1125.1 809.0,1124.7 809.8,1124.2 810.1,1123.9 810.5,1123.4 811.2,1122.4 811.7,1121.9 812.0,1121.6 812.8,1121.1 813.3,1121.0 813.5,1121.0 814.2,1121.1 814.9,1121.5 815.0,1121.6 815.8,1122.4 816.5,1123.3 817.2,1124.0 818.0,1124.7 818.1,1124.8 818.8,1125.6 819.5,1126.4 819.7,1126.6 820.2,1126.7 821.0,1126.8 821.3,1126.8 821.8,1127.1 822.5,1127.5 822.9,1127.7 823.2,1127.7 824.0,1127.8 824.5,1127.9 824.8,1127.9 825.5,1128.0 826.1,1128.1 826.2,1128.1 827.0,1128.2 827.7,1128.3 827.8,1128.3 828.5,1128.2 829.2,1128.2 829.3,1128.2 830.0,1128.3 830.8,1128.5 830.9,1128.6 831.5,1128.6 832.2,1128.6 832.5,1128.6 833.0,1128.6 833.8,1128.5 834.1,1128.5 834.5,1128.5 835.2,1128.6 835.7,1128.7 836.0,1128.6 837.3,1128.3 838.9,1128.2 840.5,1128.5 842.1,1128.5 843.7,1128.3 845.3,1128.6 846.9,1128.8 848.5,1128.8 850.1,1129.1 851.7,1128.7 853.3,1128.8 854.9,1128.6 856.5,1128.5 858.1,1128.5 859.7,1128.5 861.3,1128.9 862.9,1128.7 864.5,1128.6 866.1,1128.7 867.7,1128.5 869.3,1128.6 870.9,1128.6 872.5,1128.8 874.1,1128.8 875.7,1128.3 877.3,1128.7 878.9,1128.9 880.5,1128.4 882.1,1128.6 883.7,1128.7 885.3,1128.8 886.9,1128.7 888.5,1128.6 890.1,1128.7 891.7,1128.8 893.3,1128.7 894.9,1128.9 896.5,1128.6 898.1,1127.8 899.7,1128.4 901.3,1128.5 902.9,1127.4 904.5,1128.6 906.1,1128.5 907.7,1128.8 909.3,1128.6 910.9,1128.7 912.5,1128.2 914.1,1128.2 915.7,1127.9 917.3,1128.2 918.9,1128.2 920.5,1128.1 922.1,1127.8 923.7,1128.2 925.3,1128.0 926.9,1127.3 928.5,1127.4 930.1,1127.4 931.7,1127.4 933.3,1127.1 934.9,1126.7 936.5,1127.0 938.1,1126.6 939.7,1126.7 941.3,1126.3 942.9,1126.2 944.5,1126.0 946.1,1125.8 947.7,1125.3 949.3,1125.4 950.9,1125.0 952.5,1124.5 954.1,1124.5 955.7,1124.3 957.3,1124.3 958.9,1124.2 960.5,1123.8 962.1,1124.0 963.7,1123.8 965.3,1123.6 966.9,1124.0 968.5,1123.7 970.1,1123.8 971.7,1124.2 973.3,1124.4 974.9,1124.2 976.5,1124.7 978.1,1124.9 979.7,1124.8 981.3,1125.5 982.9,1125.3 984.5,1125.6 986.1,1125.3 987.7,1126.1 989.3,1126.0 990.9,1126.4 992.5,1126.2 994.1,1126.9 995.7,1127.2 997.3,1127.4 998.9,1126.6 1000.5,1127.4 1002.1,1127.4 1003.7,1126.8 1005.3,1127.3 1006.9,1127.4 1008.5,1127.6 1010.1,1127.0 1011.7,1127.0 1013.3,1126.6 1014.9,1126.5 1016.5,1126.0 1018.1,1126.1 1019.7,1126.1 1021.3,1125.7 1022.9,1126.4 1024.5,1126.4 1026.1,1126.8 1027.7,1127.5 1029.3,1128.8 1030.9,1127.9 1032.5,1128.2 1034.1,1128.3 1035.7,1128.2 1037.3,1128.2 1038.9,1128.6 1040.5,1128.7 1042.1,1128.6 1043.7,1128.5 1045.3,1128.8 1046.9,1128.6 1048.5,1128.4 1050.1,1128.7 1051.7,1128.8 1053.3,1128.8 1054.9,1128.5 1056.5,1128.5 1058.1,1128.8 1059.7,1128.6 1061.3,1128.7 1062.9,1130.0 1064.5,1128.8 1066.1,1129.1 1067.7,1127.6 1069.3,1129.1 1070.9,1128.9 1072.5,1129.2 1074.1,1128.7 1075.7,1128.7 1077.3,1129.0 1078.9,1128.6 1080.5,1128.7 1082.1,1128.8 1083.7,1128.8 1085.3,1128.5 1086.9,1128.8 1088.5,1128.7 1090.1,1128.8 1091.7,1128.8 1093.3,1128.7 1094.9,1129.0 1096.5,1128.9 1098.1,1128.7 1099.7,1128.8 1101.3,1129.0 1102.9,1128.9 1104.5,1129.0 1106.1,1128.8 1107.7,1128.8 1109.3,1129.2 1110.9,1128.8 1112.5,1129.1 1114.1,1129.0 1115.7,1128.7 1117.3,1128.5 1118.9,1128.9 1120.5,1128.7 1122.1,1128.7 1123.7,1128.5 1125.3,1129.0 1126.9,1128.8 1128.5,1128.8 1130.1,1128.9 1131.7,1128.9 1133.3,1128.8 1134.9,1128.9 1136.5,1128.8 1138.1,1128.3 1139.7,1129.0 1141.3,1128.9 1142.9,1128.8 1144.5,1129.1 1146.1,1128.5 1147.7,1128.2 1149.3,1129.1 1150.9,1128.9 1152.5,1128.5 1154.1,1128.7 1155.7,1128.9 1157.3,1128.6 1158.9,1128.9 1160.5,1129.2 1162.1,1129.1 1163.7,1128.8 1165.3,1128.9 1166.9,1128.6 1168.5,1128.8 1170.1,1128.8 1171.7,1128.6 1173.3,1128.6 1174.9,1129.2 1176.5,1128.8 1178.1,1128.6 1179.7,1128.7 1181.3,1129.1 1182.9,1129.1 1184.5,1128.7 1186.1,1128.9 1187.7,1129.0 1189.3,1128.7 1190.9,1128.6 1192.5,1128.6 1194.1,1128.8 1195.7,1128.7 1197.3,1128.5 1198.9,1128.8 1200.5,1129.0 1202.1,1128.9 1203.7,1128.8 1205.3,1129.2 1206.9,1128.6 1208.5,1128.8 1210.1,1128.5 1211.7,1128.9 1213.3,1128.8 1214.9,1128.4 1216.5,1128.6 1218.1,1129.1 1219.7,1128.9 1221.3,1128.8 1222.9,1128.9 1224.5,1128.4 1226.1,1128.6 1227.7,1128.5 1229.3,1128.6 1230.9,1128.7 1232.5,1128.8 1234.1,1128.9 1235.7,1128.9 1237.3,1129.2 1238.9,1128.6 1240.5,1128.7 1242.1,1128.8 1243.7,1128.5 1245.3,1128.6 1246.9,1128.7 1248.5,1128.5 1250.1,1128.7 1251.7,1128.8 1253.3,1128.4 1254.9,1128.1 1256.5,1128.6 1258.1,1128.3 1259.7,1128.5 1261.3,1128.4 1262.9,1128.5 1264.5,1128.6 1266.1,1128.5 1267.7,1128.3 1269.3,1128.1 1270.9,1127.7 1272.5,1127.7 1274.1,1127.9 1275.7,1128.0 1277.3,1127.8 1278.9,1127.7 1279.3,1127.6 1280.2,1127.4 1280.5,1127.4 1281.1,1127.3 1282.0,1127.2 1282.1,1127.2 1283.0,1127.1 1283.7,1127.0 1283.9,1127.0 1284.8,1127.2 1285.3,1127.2 1285.7,1127.0 1286.6,1126.6 1286.9,1126.4 1287.5,1126.5 1288.5,1126.6 1288.5,1126.6 1289.4,1126.2 1290.1,1125.9 1290.3,1125.8 1291.2,1125.7 1291.7,1125.6 1292.1,1125.4 1293.0,1124.9 1293.3,1124.7 1294.0,1124.3 1294.9,1123.7 1294.9,1123.7 1295.8,1122.9 1296.5,1122.1 1296.7,1121.8 1297.6,1120.2 1298.1,1119.2 1298.5,1118.3 1299.5,1116.2 1299.7,1115.6 1300.4,1113.7 1301.3,1110.8 1302.2,1107.3 1302.9,1104.5 1303.1,1103.6 1304.0,1099.8 1304.5,1098.1 1305.0,1096.4 1305.9,1093.8 1306.1,1093.4 1306.8,1092.9 1307.7,1093.8 1307.7,1093.8 1308.6,1096.3 1309.3,1098.9 1309.5,1099.8 1310.5,1103.6 1310.9,1105.4 1311.4,1107.4 1312.3,1111.1 1312.5,1111.8 1313.2,1114.5 1314.1,1117.5 1314.1,1117.6 1315.0,1119.0 1315.7,1119.8 1316.0,1120.3 1316.9,1121.7 1317.3,1122.2 1317.8,1122.7 1318.7,1123.4 1318.9,1123.5 1319.6,1124.1 1320.5,1124.6 1320.5,1124.7 1321.5,1125.3 1322.1,1125.7 1322.4,1125.8 1323.3,1126.0 1323.7,1126.0 1324.2,1126.1 1325.1,1126.1 1325.3,1126.2 1326.0,1126.4 1326.9,1126.6 1327.0,1126.6 1327.9,1127.1 1328.5,1127.3 1328.8,1127.3 1329.7,1127.2 1330.1,1127.2 1330.6,1127.4 1331.5,1127.7 1331.7,1127.8 1332.5,1127.9 1333.3,1128.0 1333.4,1127.9 1334.3,1127.8 1334.9,1127.8 1336.5,1128.0 1338.1,1127.8 1339.7,1128.0 1341.3,1128.0 1342.9,1129.6 1344.5,1128.0 1346.1,1128.3 1347.7,1128.4 1349.3,1128.5 1350.9,1128.0 1352.5,1128.1 1354.1,1128.3 1355.7,1128.5 1357.3,1128.6 1358.9,1128.6 1360.5,1129.0 1362.1,1128.7 1363.7,1128.7 1365.3,1128.5 1366.9,1128.8 1368.5,1128.8 1370.1,1129.0 1371.7,1128.6 1373.3,1128.8 1374.9,1129.0 1376.5,1128.5 1378.1,1128.3 1379.7,1128.9 1381.3,1128.8 1382.9,1128.7 1384.5,1128.6 1386.1,1129.3 1387.7,1128.6 1389.3,1128.5 1390.9,1128.6 1392.5,1128.8 1394.1,1128.6 1395.7,1129.1 1397.3,1128.8 1398.9,1128.7 1400.5,1128.8 1402.1,1128.7 1403.7,1128.5 1405.3,1128.8 1406.9,1128.5 1408.5,1128.9 1410.1,1128.6 1411.7,1128.7 1413.3,1128.4 1414.9,1128.7 1416.5,1128.5 1418.1,1129.0 1419.7,1128.7 1421.3,1128.8 1422.9,1128.4 1424.5,1128.5 1426.1,1128.7 1427.7,1128.5 1429.3,1128.9 1430.9,1128.6 1432.5,1128.7 1434.1,1128.8 1435.7,1128.7 1437.3,1128.9 1438.9,1128.6 1440.5,1128.8 1442.1,1128.9 1443.7,1128.7 1445.3,1128.7 1446.9,1128.6 1448.5,1128.7 1450.1,1128.8 1451.7,1128.6 1453.3,1128.3 1454.9,1128.6 1456.5,1129.8 1458.1,1128.6 1459.7,1128.5 1461.3,1128.8 1462.9,1128.3 1464.5,1128.3 1466.1,1128.6 1467.7,1128.2 1469.3,1128.4 1470.9,1128.3 1472.5,1127.9 1473.4,1128.2 1474.1,1128.4 1474.6,1128.4 1475.7,1128.4 1475.7,1128.4 1476.9,1128.2 1477.3,1128.1 1478.1,1127.9 1478.9,1127.7 1479.2,1127.8 1480.4,1128.0 1480.5,1128.1 1481.6,1127.8 1482.1,1127.6 1482.7,1127.6 1483.7,1127.7 1483.9,1127.6 1485.1,1127.6 1485.3,1127.6 1486.2,1127.4 1486.9,1127.2 1487.4,1127.1 1488.5,1126.8 1488.6,1126.8 1489.7,1126.8 1490.1,1126.8 1490.9,1126.6 1491.7,1126.4 1492.1,1126.3 1493.2,1125.8 1493.3,1125.7 1494.4,1125.3 1494.9,1125.1 1495.6,1124.8 1496.5,1124.4 1496.7,1124.2 1497.9,1123.2 1498.1,1123.0 1499.1,1122.0 1499.7,1121.2 1500.2,1120.6 1501.3,1119.1 1501.4,1118.9 1502.6,1117.2 1502.9,1116.6 1503.7,1115.1 1504.5,1113.7 1504.9,1113.0 1506.1,1111.1 1506.1,1111.0 1507.2,1109.5 1507.7,1109.2 1508.4,1109.1 1509.3,1109.3 1509.6,1109.4 1510.7,1110.2 1510.9,1110.4 1511.9,1111.6 1512.5,1112.4 1513.1,1113.2 1514.1,1114.7 1514.2,1114.8 1515.4,1115.1 1515.7,1115.2 1516.6,1117.2 1517.3,1118.7 1517.7,1119.2 1518.9,1120.3 1520.1,1121.2 1520.5,1121.4 1521.2,1122.1 1522.1,1122.9 1522.4,1123.0 1523.6,1123.5 1523.7,1123.5 1524.7,1124.0 1525.3,1124.2 1525.9,1124.3 1526.9,1124.5 1527.1,1124.5 1528.2,1124.8 1528.5,1124.9 1529.4,1124.9 1530.1,1124.9 1530.6,1125.0 1531.7,1125.3 1531.7,1125.3 1532.9,1125.0 1533.3,1124.9 1534.1,1124.7 1534.9,1124.4 1535.2,1124.4 1536.4,1124.3 1536.5,1124.3 1537.6,1124.0 1538.1,1123.8 1538.7,1123.7 1539.7,1123.7 1539.9,1123.7 1541.1,1123.4 1541.3,1123.4 1542.2,1123.5 1542.9,1123.6 1543.4,1123.3 1544.5,1122.8 1546.1,1123.1 1547.7,1123.3 1549.3,1123.8 1550.9,1124.4 1552.5,1124.5 1554.1,1125.1 1555.7,1125.8 1557.3,1126.4 1558.9,1126.4 1560.5,1126.7 1562.1,1127.6 1563.7,1127.8 1565.3,1128.0 1566.9,1127.8 1568.5,1128.0 1570.1,1126.6 1571.7,1128.3 1573.3,1128.3 1574.9,1128.4 1576.5,1128.6 1578.1,1129.6 1579.7,1128.4 1581.3,1128.4 1582.9,1128.4 1584.5,1128.6 1586.1,1128.5 1587.7,1128.5 1589.3,1128.9 1590.9,1128.7 1592.5,1128.6 1594.1,1128.9 1595.7,1128.6 1597.3,1128.7 1598.9,1128.7 1600.5,1128.6 1602.1,1128.6 1603.7,1128.7 1605.3,1128.4 1606.9,1128.6 1608.5,1128.8 1610.1,1128.8 1611.7,1128.8 1613.3,1129.2 1614.9,1128.9 1616.5,1128.7 1618.1,1128.7 1619.7,1128.8 1621.3,1128.9 1622.9,1128.7 1624.5,1129.1 1626.1,1128.6 1627.7,1128.9 1629.3,1128.9 1630.9,1128.6 1632.5,1128.9 1634.1,1128.9 1635.7,1128.7 1637.3,1129.2 1638.9,1128.9 1640.5,1128.7 1642.1,1128.7 1643.7,1128.7 1645.3,1128.9 1646.9,1128.8 1648.5,1128.5 1650.1,1128.6 1651.7,1128.7 1653.3,1128.7 1654.9,1128.7 1656.5,1128.7 1658.1,1128.9 1659.7,1129.0 1661.3,1128.8 1662.9,1128.4 1664.5,1128.8 1666.1,1128.9 1667.7,1128.8 1669.3,1128.8 1670.9,1128.8 1672.5,1128.4 1674.1,1128.2 1675.7,1128.8 1677.3,1128.5 1678.9,1128.7 1680.5,1128.5 1682.1,1128.4 1683.7,1128.6 1685.3,1128.1 1686.9,1128.2 1688.5,1127.9 1690.1,1128.0 1691.7,1127.9 1693.3,1127.8 1694.9,1127.6 1696.5,1127.1 1698.1,1127.3 1699.7,1127.3 1701.3,1127.2 1702.9,1127.3 1704.5,1127.0 1706.1,1126.7 1707.7,1126.8 1709.3,1127.0 1710.9,1127.2 1712.5,1126.8 1714.1,1127.4 1715.7,1127.5 1717.3,1127.4 1718.9,1127.8 1720.5,1127.7 1722.1,1127.9 1723.7,1128.0 1725.3,1128.2 1726.9,1128.1 1728.5,1128.5 1730.1,1128.0 1731.7,1128.4 1733.3,1128.5 1734.9,1128.9 1736.5,1128.7 1738.1,1128.6 1739.7,1128.5 1741.3,1128.7 1742.9,1128.6 1744.5,1129.1 1746.1,1128.2 1747.7,1128.7 1749.3,1128.3 1750.9,1128.9 1752.5,1128.6 1754.1,1129.0 1755.7,1128.6 1757.3,1128.9 1758.9,1128.7 1760.5,1128.9 1762.1,1128.6 1763.7,1128.0 1765.3,1128.4 1766.9,1128.2 1768.5,1128.6 1770.1,1128.4 1771.7,1128.3 1773.3,1128.2 1774.9,1128.1 1776.5,1127.8 1778.1,1128.1 1779.7,1127.6 1781.3,1127.4 1782.9,1126.9 1784.5,1126.8 1786.1,1126.7 1787.7,1126.4 1789.3,1126.1 1790.9,1125.2 1792.5,1125.5 1794.1,1125.5 1795.7,1125.0 1797.3,1125.0 1798.9,1124.9 1800.5,1125.1 1802.1,1125.0 1803.7,1125.0 1805.3,1124.9 1806.9,1125.2 1808.5,1125.6 1810.1,1125.9 1811.7,1125.6 1813.3,1126.0 1814.9,1126.4 1816.5,1126.7 1818.1,1126.9 1819.7,1127.2 1821.3,1127.0 1822.9,1127.8 1824.5,1127.5 1826.1,1127.9 1827.7,1128.1 1829.3,1128.4 1830.9,1128.4 1832.5,1128.5 1834.1,1128.7 1835.7,1128.5 1837.3,1128.7 1838.9,1128.9 1840.5,1128.5 1842.1,1128.4 1843.7,1128.5 1845.3,1129.0 1846.9,1129.0 1848.5,1128.7 1850.1,1128.8 1851.7,1128.9 1853.3,1129.0 1854.9,1128.5 1856.5,1128.7 1858.1,1128.8 1859.7,1128.9 1861.3,1128.9 1862.9,1128.8 1864.5,1128.9 1866.1,1128.4 1867.7,1129.5 1869.3,1129.0 1870.9,1129.0 1872.5,1128.8 1874.1,1129.0 1875.7,1129.3 1877.3,1129.2 1878.9,1128.9 1880.5,1128.7 1882.1,1128.9 1883.7,1128.8 1885.3,1129.1 1886.9,1128.7 1888.5,1128.9 1890.1,1129.0 1891.7,1128.8 1893.3,1129.1 1894.9,1128.7 1896.5,1129.2 1898.1,1128.9 1899.7,1129.1 1901.3,1128.9 1902.9,1128.8 1904.5,1129.1 1906.1,1129.0 1907.7,1128.8 1909.3,1128.9 1910.9,1128.9 1912.5,1129.0 1914.1,1129.0 1915.7,1128.8 1917.3,1128.8 1918.9,1130.4 1920.5,1129.0 1922.1,1129.0 1923.7,1128.8 1925.3,1128.9 1926.9,1129.0 1928.5,1129.1 1930.1,1129.0 1931.7,1129.3 1933.3,1128.9 1934.9,1129.1 1936.5,1128.9 1938.1,1128.7 1939.7,1128.9 1941.3,1129.0 1942.9,1129.0 1944.5,1128.5 1946.1,1128.9 1947.7,1128.8 1949.3,1128.9 1950.9,1129.0 1952.5,1129.1 1954.1,1128.3 1955.7,1129.0 1957.3,1129.1 1958.9,1129.1 1960.5,1129.0 1962.1,1129.0 1963.7,1128.8 1965.3,1128.9 1966.9,1129.0 1968.5,1128.7 1970.1,1129.5 1971.7,1128.9 1973.3,1128.6 1974.9,1128.9 1976.5,1128.5 1978.1,1128.8 1979.7,1127.2 1981.3,1128.6 1982.9,1128.5 1984.5,1128.6 1986.1,1128.2 1987.7,1128.5 1989.3,1128.5 1990.9,1128.6 1992.5,1128.1 1994.1,1128.0 1995.7,1128.2 1997.3,1128.1 1998.9,1127.5 2000.5,1127.6 2002.1,1128.3 2003.7,1127.2 2005.3,1126.8 2006.9,1126.7 2008.5,1126.9 2010.1,1127.3 2011.7,1126.8 2013.3,1127.2 2014.9,1127.4 2016.5,1126.9 2018.1,1127.1 2019.7,1127.6 2021.3,1127.6 2022.9,1127.6 2024.5,1127.6 2026.1,1127.7 2027.7,1127.4 2029.3,1128.0 2030.9,1127.2 2032.5,1126.9 2034.1,1127.1 2035.7,1127.1 2037.3,1126.5 2038.9,1126.4 2040.5,1125.9 2042.1,1125.8 2043.7,1125.4 2045.3,1125.2 2046.9,1124.9 2048.5,1124.9 2050.1,1125.3 2051.7,1124.9 2053.3,1125.1 2054.9,1125.6 2056.5,1125.2 2058.1,1125.4 2059.7,1126.0 2061.3,1125.9 2062.9,1127.1 2064.5,1126.9 2066.1,1126.8 2067.7,1127.1 2069.3,1127.8 2070.9,1127.5 2072.5,1127.7 2074.1,1128.1 2075.7,1128.1 2077.3,1128.1 2078.9,1128.7 2080.5,1128.4 2082.1,1128.6 2083.7,1128.5 2085.3,1128.6 2086.9,1128.4 2088.5,1128.9 2090.1,1128.7 2091.7,1129.0 2093.3,1128.6 2094.9,1128.7 2096.5,1128.9 2098.1,1128.9 2099.7,1128.7 2101.3,1128.8 2102.9,1128.6 2104.5,1128.9 2106.1,1128.4 2107.7,1128.9 2109.3,1129.2 2110.9,1129.1 2112.5,1127.6 2114.1,1128.8 2115.7,1129.0 2117.3,1128.8 2118.9,1128.9 2120.5,1128.9 2122.1,1128.3 2123.7,1129.1 2125.3,1129.0 2126.9,1129.1 2128.5,1128.7 2130.1,1129.1 2131.7,1129.0 2133.3,1128.5 2134.9,1128.6 2136.5,1128.9 2138.1,1128.8 2139.7,1128.9 2141.3,1128.8 2142.9,1129.2 2144.5,1128.6 2146.1,1128.7 2147.7,1128.7 2149.3,1128.7 2150.9,1128.8 2152.5,1128.9 2154.1,1128.7 2155.7,1129.0 2157.3,1129.2 2158.9,1129.1 2160.5,1129.3 2162.1,1129.1 2163.7,1128.9 2165.3,1129.2 2166.9,1129.0 2168.5,1129.2 2170.1,1128.8 2171.7,1128.4 2173.3,1128.6 2174.9,1128.8 2176.5,1128.9 2178.1,1128.7 2179.7,1128.9 2181.3,1128.4 2182.9,1128.4 2184.5,1128.7 2186.1,1128.4 2187.7,1128.4 2189.3,1128.5 2190.9,1128.3 2192.5,1127.9 2194.1,1127.9 2195.7,1127.4 2197.3,1127.5 2198.9,1127.4 2200.5,1126.8 2202.1,1127.3 2203.7,1127.2 2205.3,1125.9 2206.9,1126.5 2208.5,1126.4 2210.1,1125.9 2211.7,1125.9 2213.3,1125.6 2214.9,1125.1 2216.5,1125.1 2218.1,1125.0 2219.7,1125.3 2221.3,1125.1 2222.9,1125.3 2224.5,1125.0 2226.1,1125.0 2227.7,1125.7 2229.3,1127.6 2230.9,1125.7 2232.5,1125.8 2234.1,1124.9 2235.7,1126.1 2237.3,1126.4 2238.9,1126.4 2240.5,1127.0 2242.1,1127.2 2243.7,1127.2 2245.3,1127.4 2246.9,1127.4 2248.5,1127.7 2250.1,1128.2 2251.7,1128.0 2253.3,1128.5 2254.9,1128.2 2256.5,1128.4 2258.1,1128.4 2259.7,1128.5 2261.3,1128.8 2262.9,1128.3 2264.5,1128.9 2266.1,1128.9 2267.7,1128.8 2269.3,1128.8 2270.9,1128.3 2272.5,1129.0 2274.1,1128.9 2275.7,1128.7 2277.3,1128.9 2278.9,1129.1 2280.5,1129.0 2282.1,1128.9 2283.7,1129.0 2285.3,1128.9 2286.9,1129.7 2288.5,1128.6 2290.1,1128.9 2291.7,1129.2 2293.3,1128.9 2294.9,1128.8 2296.5,1129.2 2298.1,1129.0 2299.7,1129.0 2301.3,1129.1 2302.9,1129.1 2304.5,1129.0 2306.1,1128.8 2307.7,1129.3 2309.3,1129.0 2310.9,1128.9 2312.5,1129.1 2314.1,1129.3 2315.7,1128.8 2317.3,1129.3 2318.9,1129.0 2320.5,1129.4 2322.1,1129.2 2323.7,1129.0 2325.3,1129.3 2326.9,1129.3 2328.5,1129.0 2330.1,1129.1 2331.7,1128.9 2333.3,1129.2 2334.9,1128.8 2336.5,1129.0 2338.1,1128.6 2339.7,1129.2 2341.3,1128.6 2342.9,1128.8 2344.5,1129.1 2346.1,1129.0 2347.7,1129.0 2349.3,1128.9 2350.9,1129.0 2352.5,1128.7 2354.1,1129.1 2355.7,1129.2 2357.3,1129.2 2358.9,1129.1 2360.5,1129.3 2362.1,1129.2 2363.7,1129.2 2365.3,1129.1 2366.9,1129.1 2368.5,1128.9 2370.1,1128.6 2371.7,1129.2 2373.3,1129.0 2374.9,1129.4 2376.5,1128.7 2378.1,1129.2 2379.7,1128.9 2381.3,1129.1 2382.9,1128.9 2384.5,1129.1 2385.7,1129.1" fill="none" stroke="#1F6CD8" stroke-width="8.1" stroke-linejoin="round" stroke-linecap="butt"/>
<polyline points="197.3,1363.7 198.9,1363.3 200.5,1363.0 202.1,1363.5 203.7,1363.4 205.3,1363.5 206.9,1363.2 208.5,1363.5 210.1,1363.2 211.7,1363.7 213.3,1363.8 214.9,1363.2 216.5,1362.8 218.1,1363.3 219.7,1363.3 221.3,1363.5 222.9,1363.4 224.5,1363.5 226.1,1364.1 227.7,1363.3 229.3,1363.3 230.9,1363.5 232.5,1363.0 234.1,1363.6 235.7,1363.3 237.3,1363.1 238.9,1363.2 240.5,1363.6 242.1,1363.6 243.7,1363.7 245.3,1363.5 246.9,1363.3 248.5,1363.6 250.1,1363.4 251.7,1364.0 253.3,1362.9 254.9,1363.8 256.5,1362.9 258.1,1363.6 259.7,1363.4 261.3,1363.3 262.9,1363.2 264.5,1363.1 266.1,1364.0 267.7,1363.7 269.3,1363.6 270.9,1363.6 272.5,1363.0 274.1,1363.4 275.7,1363.5 277.3,1363.8 278.9,1363.2 280.5,1363.5 282.1,1363.4 283.7,1363.5 285.3,1363.3 286.9,1363.6 288.5,1363.5 290.1,1363.0 291.7,1363.8 293.3,1364.0 294.9,1363.3 296.5,1363.8 298.1,1363.2 299.7,1363.4 301.3,1363.9 302.9,1363.5 304.5,1363.9 306.1,1363.6 307.7,1363.7 309.3,1363.4 310.9,1363.8 312.5,1363.9 314.1,1363.7 315.7,1363.4 317.3,1363.4 318.9,1363.3 320.5,1363.6 322.1,1363.6 323.7,1363.3 325.3,1363.7 326.9,1363.4 328.5,1364.0 330.1,1363.7 331.7,1362.4 333.3,1363.3 334.9,1363.3 336.5,1363.4 338.1,1363.7 339.7,1363.2 341.3,1363.8 342.9,1363.5 344.5,1363.7 346.1,1363.2 347.7,1363.4 349.3,1363.6 350.9,1363.7 352.5,1363.2 354.1,1363.6 355.7,1363.3 357.3,1363.7 358.9,1363.5 360.5,1363.4 362.1,1363.6 363.7,1363.8 365.3,1363.5 366.9,1365.7 368.5,1363.3 370.1,1363.6 371.7,1362.8 373.3,1363.6 374.9,1363.3 376.5,1363.5 378.1,1365.2 379.7,1363.3 381.3,1363.1 382.9,1363.5 384.5,1363.6 386.1,1363.6 387.7,1363.3 389.3,1363.7 390.9,1363.4 392.5,1363.7 394.1,1363.3 395.7,1363.6 397.3,1363.8 398.9,1362.9 400.5,1363.4 402.1,1363.7 403.7,1363.6 405.3,1363.6 406.9,1363.5 408.5,1363.1 410.1,1363.5 411.7,1363.2 413.3,1363.5 414.9,1362.9 416.5,1363.8 418.1,1364.0 419.7,1363.6 421.3,1363.3 422.9,1363.4 424.5,1363.7 426.1,1363.6 427.7,1363.3 429.3,1363.8 430.9,1363.6 432.5,1363.6 434.1,1363.3 435.7,1363.4 437.3,1363.2 438.9,1363.5 440.5,1363.2 442.1,1363.7 443.7,1363.4 445.3,1363.4 446.9,1363.4 448.5,1363.4 450.1,1362.9 451.7,1364.1 453.3,1363.2 454.9,1363.0 456.5,1362.9 458.1,1362.9 459.7,1362.9 461.3,1362.9 462.9,1362.6 464.5,1362.7 466.1,1362.5 466.8,1362.3 467.2,1362.2 467.7,1362.0 467.7,1362.0 468.1,1362.1 468.5,1362.2 469.0,1362.3 469.3,1362.3 469.4,1362.3 469.8,1362.0 470.3,1361.6 470.7,1361.3 470.9,1361.1 471.1,1361.0 471.6,1360.8 472.0,1360.5 472.4,1360.2 472.5,1360.2 472.9,1359.7 473.3,1359.1 473.7,1358.3 474.1,1357.5 474.2,1357.3 474.6,1355.9 475.0,1354.0 475.5,1351.6 475.7,1350.0 475.9,1348.5 476.3,1344.7 476.8,1340.1 477.2,1334.8 477.3,1333.5 477.6,1328.9 478.1,1322.6 478.5,1316.5 478.9,1311.6 478.9,1311.3 479.4,1307.4 479.8,1306.0 480.2,1307.2 480.5,1309.2 480.7,1310.9 481.1,1316.1 481.5,1322.1 482.0,1328.5 482.1,1330.3 482.4,1334.5 482.8,1339.9 483.3,1344.7 483.7,1348.6 484.1,1351.5 484.6,1353.7 485.0,1355.4 485.3,1356.3 485.4,1356.7 485.9,1357.9 486.3,1358.8 486.7,1359.5 486.9,1359.8 487.2,1360.0 487.6,1360.4 488.0,1360.6 488.5,1360.9 488.5,1360.9 488.9,1361.1 489.3,1361.3 489.8,1361.5 490.1,1361.6 490.2,1361.6 490.6,1361.6 491.1,1361.6 491.5,1361.6 491.7,1361.6 491.9,1361.6 492.4,1361.8 492.8,1361.9 493.3,1362.1 494.9,1362.1 496.5,1362.3 498.1,1362.7 499.7,1362.6 501.3,1362.5 502.9,1362.9 504.5,1362.6 506.1,1362.1 507.7,1362.3 509.3,1362.6 510.9,1362.5 512.5,1362.3 514.1,1362.1 515.7,1361.6 517.3,1361.3 518.9,1360.4 520.5,1359.6 522.1,1358.2 523.7,1356.3 525.3,1353.9 526.9,1350.6 528.5,1346.3 530.1,1341.8 531.7,1335.7 533.3,1330.0 534.9,1323.6 536.5,1317.1 538.1,1312.7 539.7,1308.7 541.3,1308.0 542.9,1308.6 544.5,1311.2 546.1,1315.5 547.7,1321.7 549.3,1327.7 550.9,1334.6 552.5,1339.9 554.1,1345.3 555.7,1349.9 557.3,1353.3 558.9,1356.1 560.5,1358.1 562.1,1359.8 563.7,1360.5 565.3,1361.7 566.9,1361.8 568.5,1362.5 570.1,1362.4 571.7,1362.9 573.3,1363.3 574.9,1363.6 576.5,1363.0 578.1,1363.4 579.7,1363.5 581.3,1364.1 582.9,1363.7 584.5,1364.2 586.1,1364.0 587.7,1363.9 589.3,1364.4 590.9,1364.1 592.5,1364.7 594.1,1364.8 595.7,1365.0 597.3,1364.5 598.9,1365.2 600.5,1365.2 602.1,1364.5 603.7,1365.6 605.3,1365.6 606.9,1365.0 608.5,1365.4 610.1,1365.0 611.7,1365.3 613.3,1365.4 614.9,1365.5 616.5,1365.2 618.1,1365.9 619.7,1365.2 621.3,1365.5 622.9,1365.6 624.5,1365.4 626.1,1365.7 627.7,1365.6 629.3,1365.6 630.9,1365.7 632.5,1366.9 634.1,1365.5 635.7,1365.0 637.3,1365.5 638.9,1365.4 640.5,1365.7 642.1,1365.4 643.7,1365.3 645.3,1365.5 646.9,1365.5 648.5,1366.6 650.1,1365.3 651.7,1365.1 653.3,1365.1 654.9,1365.8 656.5,1365.2 658.1,1365.4 659.7,1365.2 661.3,1365.7 662.9,1365.4 664.5,1365.8 666.1,1365.4 667.7,1365.6 669.3,1365.7 670.9,1365.8 672.5,1365.2 674.1,1365.4 675.7,1366.7 677.3,1365.1 678.9,1365.7 680.5,1365.6 682.1,1365.7 683.7,1365.2 685.3,1365.6 686.9,1365.7 688.5,1365.8 690.1,1365.4 691.7,1365.7 693.3,1366.0 694.9,1365.5 696.5,1365.5 698.1,1365.5 699.7,1365.2 701.3,1365.5 702.9,1366.0 704.5,1365.3 706.1,1365.5 707.7,1365.9 709.3,1365.7 710.9,1365.6 712.5,1365.5 714.1,1365.5 715.7,1365.6 717.3,1365.7 718.9,1365.6 720.5,1365.8 722.1,1365.1 723.7,1365.8 725.3,1365.5 726.9,1365.6 728.5,1365.5 730.1,1365.7 731.7,1365.6 733.3,1365.7 734.9,1365.4 736.5,1365.6 738.1,1365.9 739.7,1365.9 741.3,1365.5 742.9,1365.6 744.5,1365.5 746.1,1365.6 747.7,1365.6 749.3,1365.9 750.9,1365.7 752.5,1366.0 754.1,1366.0 755.7,1365.3 757.3,1365.7 758.9,1365.5 760.5,1365.2 762.1,1365.3 763.7,1365.5 765.3,1366.0 766.9,1365.6 768.5,1365.5 770.1,1365.6 771.7,1365.4 773.3,1365.6 774.9,1365.6 776.5,1365.2 778.1,1365.4 779.7,1366.4 781.3,1365.7 782.9,1365.5 784.5,1366.6 786.0,1365.4 786.1,1365.3 786.8,1365.4 787.7,1365.6 787.7,1365.6 788.5,1365.7 789.3,1365.8 789.3,1365.8 790.2,1365.4 790.9,1365.1 791.0,1365.2 791.8,1365.3 792.5,1365.3 792.7,1365.4 793.5,1365.4 794.1,1365.4 794.3,1365.4 795.2,1365.4 795.7,1365.4 796.0,1365.4 796.8,1365.4 797.3,1365.3 797.7,1365.4 798.5,1365.4 798.9,1365.5 799.3,1365.5 800.2,1365.6 800.5,1365.6 801.0,1365.5 801.8,1365.3 802.1,1365.3 802.7,1365.2 803.5,1365.2 803.7,1365.2 804.3,1365.1 805.2,1364.9 805.3,1364.8 806.0,1364.4 806.8,1364.0 806.9,1363.9 807.7,1363.8 808.5,1363.7 809.3,1363.4 810.1,1363.1 810.2,1363.1 811.0,1363.2 811.7,1363.3 811.8,1363.3 812.7,1363.3 813.3,1363.4 813.5,1363.5 814.3,1363.8 814.9,1364.0 815.2,1364.1 816.0,1364.6 816.5,1364.9 816.8,1364.9 817.7,1364.9 818.1,1364.8 818.5,1364.8 819.3,1364.8 819.7,1364.8 820.2,1364.9 821.0,1365.2 821.3,1365.3 821.8,1365.4 822.7,1365.5 822.9,1365.5 823.5,1365.4 824.3,1365.3 824.5,1365.3 825.2,1365.4 826.0,1365.5 826.1,1365.5 826.8,1366.4 827.7,1367.5 827.7,1367.5 828.5,1366.5 829.3,1365.4 829.3,1365.4 830.2,1365.4 830.9,1365.5 831.0,1365.5 831.8,1365.4 832.5,1365.4 832.7,1365.4 833.5,1365.5 834.1,1365.6 834.3,1365.6 835.2,1365.7 835.7,1365.7 836.0,1365.6 837.3,1365.3 838.9,1365.5 840.5,1366.0 842.1,1365.2 843.7,1365.2 845.3,1365.7 846.9,1365.2 848.5,1366.1 850.1,1366.0 851.7,1365.3 853.3,1365.5 854.9,1365.8 856.5,1365.8 858.1,1365.7 859.7,1365.6 861.3,1365.9 862.9,1365.1 864.5,1365.6 866.1,1365.9 867.7,1365.3 869.3,1365.6 870.9,1365.9 872.5,1365.9 874.1,1365.5 875.7,1366.0 877.3,1365.7 878.9,1365.8 880.5,1365.3 882.1,1365.3 883.7,1365.3 885.3,1366.0 886.9,1364.9 888.5,1365.1 890.1,1365.7 891.7,1365.5 893.3,1364.8 894.9,1365.4 896.5,1365.4 898.1,1365.8 899.7,1365.0 901.3,1365.3 902.9,1365.7 904.5,1365.6 906.1,1365.2 907.7,1365.3 909.3,1365.0 910.9,1365.7 912.5,1365.2 914.1,1365.6 915.7,1365.5 917.3,1365.0 918.9,1365.1 920.5,1365.3 922.1,1365.2 923.7,1365.4 925.3,1365.0 926.9,1364.9 928.5,1364.9 930.1,1364.4 931.7,1364.3 933.3,1364.4 934.9,1364.1 936.5,1363.6 938.1,1363.6 939.7,1363.1 941.3,1362.9 942.9,1363.1 944.5,1362.2 946.1,1362.5 947.7,1361.9 949.3,1361.4 950.9,1361.0 952.5,1360.3 954.1,1360.2 955.7,1359.8 957.3,1359.4 958.9,1359.2 960.5,1359.0 962.1,1359.1 963.7,1358.6 965.3,1358.8 966.9,1359.1 968.5,1358.9 970.1,1358.7 971.7,1359.3 973.3,1359.8 974.9,1360.2 976.5,1360.0 978.1,1361.1 979.7,1360.7 981.3,1361.1 982.9,1361.5 984.5,1362.4 986.1,1362.5 987.7,1362.9 989.3,1362.5 990.9,1363.3 992.5,1363.5 994.1,1364.0 995.7,1363.9 997.3,1364.5 998.9,1364.2 1000.5,1364.2 1002.1,1364.3 1003.7,1365.1 1005.3,1365.1 1006.9,1364.8 1008.5,1365.3 1010.1,1365.1 1011.7,1365.2 1013.3,1364.9 1014.9,1365.2 1016.5,1365.4 1018.1,1365.4 1019.7,1365.3 1021.3,1365.7 1022.9,1365.8 1024.5,1365.3 1026.1,1365.6 1027.7,1365.1 1029.3,1365.6 1030.9,1365.3 1032.5,1365.5 1034.1,1365.6 1035.7,1365.5 1037.3,1365.8 1038.9,1365.4 1040.5,1365.5 1042.1,1365.7 1043.7,1365.6 1045.3,1365.7 1046.9,1365.6 1048.5,1365.4 1050.1,1365.8 1051.7,1365.6 1053.3,1365.8 1054.9,1366.0 1056.5,1365.6 1058.1,1365.5 1059.7,1365.5 1061.3,1365.5 1062.9,1365.2 1064.5,1366.1 1066.1,1365.8 1067.7,1366.2 1069.3,1365.5 1070.9,1365.8 1072.5,1365.7 1074.1,1365.7 1075.7,1365.9 1077.3,1366.0 1078.9,1365.7 1080.5,1365.7 1082.1,1365.2 1083.7,1365.5 1085.3,1365.5 1086.9,1366.1 1088.5,1365.8 1090.1,1365.9 1091.7,1365.9 1093.3,1365.7 1094.9,1366.1 1096.5,1365.7 1098.1,1365.4 1099.7,1365.9 1101.3,1366.0 1102.9,1365.7 1104.5,1365.8 1106.1,1367.6 1107.7,1366.1 1109.3,1365.9 1110.9,1366.3 1112.5,1365.8 1114.1,1366.2 1115.7,1365.4 1117.3,1366.0 1118.9,1364.5 1120.5,1365.8 1122.1,1365.4 1123.7,1366.0 1125.3,1365.7 1126.9,1365.5 1128.5,1365.6 1130.1,1365.7 1131.7,1365.8 1133.3,1365.5 1134.9,1365.5 1136.5,1365.8 1138.1,1365.7 1139.7,1366.2 1141.3,1365.6 1142.9,1365.9 1144.5,1366.2 1146.1,1365.7 1147.7,1366.0 1149.3,1365.8 1150.9,1365.8 1152.5,1366.1 1154.1,1365.5 1155.7,1365.6 1157.3,1365.3 1158.9,1365.7 1160.5,1366.0 1162.1,1365.7 1163.7,1366.0 1165.3,1365.6 1166.9,1366.0 1168.5,1365.7 1170.1,1365.6 1171.7,1366.1 1173.3,1365.8 1174.9,1365.9 1176.5,1365.8 1178.1,1365.9 1179.7,1365.8 1181.3,1365.5 1182.9,1365.8 1184.5,1365.9 1186.1,1365.8 1187.7,1365.7 1189.3,1366.2 1190.9,1365.6 1192.5,1365.8 1194.1,1365.8 1195.7,1365.5 1197.3,1364.9 1198.9,1365.9 1200.5,1365.9 1202.1,1365.8 1203.7,1365.1 1205.3,1365.7 1206.9,1365.8 1208.5,1365.9 1210.1,1366.0 1211.7,1365.8 1213.3,1366.0 1214.9,1366.1 1216.5,1365.2 1218.1,1366.0 1219.7,1365.6 1221.3,1365.8 1222.9,1365.8 1224.5,1365.5 1226.1,1365.5 1227.7,1365.8 1229.3,1365.7 1230.9,1365.9 1232.5,1365.6 1234.1,1366.4 1235.7,1365.6 1237.3,1366.2 1238.9,1365.5 1240.5,1365.8 1242.1,1365.9 1243.7,1365.3 1245.3,1365.4 1246.9,1365.7 1248.5,1365.9 1250.1,1365.9 1251.7,1365.7 1253.3,1365.8 1254.9,1365.3 1256.5,1365.4 1258.1,1366.8 1259.7,1365.4 1261.3,1365.4 1262.9,1365.0 1264.5,1365.4 1266.1,1365.0 1267.7,1365.4 1269.3,1365.7 1270.9,1365.3 1271.3,1365.3 1272.5,1365.2 1272.5,1365.2 1273.6,1365.1 1274.1,1365.0 1274.8,1365.1 1275.7,1365.2 1276.0,1365.1 1277.1,1364.8 1277.3,1364.7 1278.3,1364.8 1278.9,1364.8 1279.5,1365.0 1280.5,1365.3 1280.6,1365.2 1281.8,1364.5 1282.1,1364.3 1283.0,1364.4 1283.7,1364.4 1284.1,1364.3 1285.3,1364.0 1286.5,1364.2 1286.9,1364.3 1287.6,1364.0 1288.5,1363.6 1288.8,1363.5 1290.0,1363.0 1290.1,1363.0 1291.1,1362.6 1291.7,1362.3 1292.3,1362.3 1293.3,1362.0 1293.5,1361.9 1294.6,1361.0 1294.9,1360.7 1295.8,1359.9 1296.5,1359.1 1297.0,1358.5 1298.1,1356.8 1298.1,1356.7 1299.3,1355.0 1299.7,1354.3 1300.5,1352.9 1301.3,1351.3 1301.6,1350.6 1302.8,1348.1 1302.9,1347.9 1304.0,1345.7 1304.5,1344.7 1305.1,1344.0 1306.1,1343.4 1306.3,1343.4 1307.5,1344.0 1307.7,1344.3 1308.6,1345.8 1309.3,1347.1 1309.8,1347.9 1310.9,1349.8 1311.0,1350.0 1312.1,1352.4 1312.5,1353.1 1313.3,1354.7 1314.1,1356.2 1314.5,1356.7 1315.6,1358.2 1315.7,1358.3 1316.8,1359.4 1317.3,1359.9 1318.0,1360.8 1318.9,1361.9 1319.1,1362.0 1320.3,1362.5 1320.5,1362.6 1321.5,1363.0 1322.1,1363.3 1322.6,1363.5 1323.7,1363.8 1323.8,1363.9 1325.0,1364.2 1325.3,1364.3 1326.1,1364.3 1326.9,1364.2 1327.3,1364.3 1328.5,1364.4 1328.5,1364.4 1329.6,1364.3 1330.1,1364.2 1330.8,1364.4 1331.7,1364.7 1332.0,1364.7 1333.1,1364.7 1333.3,1364.7 1334.3,1365.0 1334.9,1365.2 1335.5,1365.2 1336.5,1365.2 1336.6,1365.2 1337.8,1365.4 1338.1,1365.5 1339.0,1365.5 1339.7,1365.5 1340.1,1365.5 1341.3,1365.5 1342.9,1365.4 1344.5,1365.4 1346.1,1365.3 1347.7,1365.4 1349.3,1365.2 1350.9,1365.6 1352.5,1365.5 1354.1,1365.0 1355.7,1364.9 1357.3,1365.4 1358.9,1365.5 1360.5,1365.5 1362.1,1365.9 1363.7,1365.5 1365.3,1365.3 1366.9,1365.7 1368.5,1365.9 1370.1,1366.1 1371.7,1365.9 1373.3,1365.6 1374.9,1365.6 1376.5,1366.0 1378.1,1365.9 1379.7,1365.7 1381.3,1365.9 1382.9,1366.1 1384.5,1365.7 1386.1,1365.7 1387.7,1365.6 1389.3,1365.7 1390.9,1365.8 1392.5,1365.8 1394.1,1366.1 1395.7,1365.9 1397.3,1365.7 1398.9,1365.2 1400.5,1365.4 1402.1,1365.6 1403.7,1365.7 1405.3,1365.4 1406.9,1365.7 1408.5,1365.8 1410.1,1365.6 1411.7,1365.7 1413.3,1365.7 1414.9,1365.6 1416.5,1365.5 1418.1,1365.7 1419.7,1365.8 1421.3,1365.5 1422.9,1365.2 1424.5,1365.5 1426.1,1365.9 1427.7,1365.3 1429.3,1365.9 1430.9,1365.6 1432.5,1365.8 1434.1,1365.5 1435.7,1365.9 1437.3,1365.7 1438.9,1365.2 1440.5,1365.2 1442.1,1365.9 1443.7,1365.3 1445.3,1365.6 1446.9,1365.8 1448.5,1365.6 1450.1,1365.8 1451.7,1365.7 1453.3,1365.7 1454.9,1365.4 1456.5,1365.9 1458.1,1365.9 1459.7,1365.5 1461.3,1365.4 1462.9,1365.6 1464.5,1365.3 1466.1,1365.5 1467.7,1365.7 1469.3,1365.6 1470.9,1365.8 1472.5,1365.5 1474.1,1365.1 1475.7,1365.1 1477.3,1365.4 1478.9,1365.6 1480.5,1365.0 1482.1,1364.3 1483.7,1365.2 1485.3,1364.7 1486.9,1364.7 1488.5,1364.5 1490.1,1363.6 1491.7,1363.3 1493.3,1362.7 1494.9,1362.2 1496.5,1361.3 1498.1,1360.0 1499.7,1359.1 1501.3,1357.4 1502.9,1356.6 1504.5,1355.5 1506.1,1354.6 1507.7,1353.8 1509.3,1354.1 1510.9,1354.3 1512.5,1355.8 1514.1,1356.4 1515.7,1357.6 1517.3,1358.7 1518.9,1359.9 1520.5,1360.6 1522.1,1361.4 1523.7,1361.5 1525.3,1362.2 1526.9,1361.8 1528.5,1361.9 1530.1,1361.4 1531.7,1361.1 1533.3,1360.1 1534.9,1358.9 1536.5,1358.2 1538.1,1357.6 1539.7,1357.3 1541.3,1356.4 1542.9,1356.5 1544.5,1357.1 1546.1,1357.3 1547.7,1358.4 1549.3,1359.3 1550.9,1360.1 1552.5,1361.2 1554.1,1362.2 1555.7,1362.9 1557.3,1363.2 1558.9,1364.5 1560.5,1364.3 1562.1,1364.4 1563.7,1364.6 1565.3,1362.7 1566.9,1365.2 1568.5,1364.5 1570.1,1365.2 1571.7,1365.0 1573.3,1365.3 1574.9,1365.4 1576.5,1365.2 1578.1,1365.3 1579.7,1365.8 1581.3,1365.4 1582.9,1365.6 1584.5,1365.5 1586.1,1365.8 1587.7,1365.9 1589.3,1365.9 1590.9,1365.8 1592.5,1365.8 1594.1,1365.4 1595.7,1366.0 1597.3,1365.6 1598.9,1365.5 1600.5,1365.7 1602.1,1365.6 1603.7,1365.9 1605.3,1365.9 1606.9,1366.1 1608.5,1365.8 1610.1,1365.7 1611.7,1365.7 1613.3,1365.5 1614.9,1365.6 1616.5,1366.3 1618.1,1365.6 1619.7,1365.7 1621.3,1366.0 1622.9,1365.9 1624.5,1366.0 1626.1,1365.6 1627.7,1365.6 1629.3,1366.2 1630.9,1365.7 1632.5,1365.8 1634.1,1365.9 1635.7,1365.4 1637.3,1365.8 1638.9,1365.7 1640.5,1366.0 1642.1,1365.8 1643.7,1365.4 1645.3,1366.1 1646.9,1365.3 1648.5,1365.8 1650.1,1365.7 1651.7,1365.7 1653.3,1365.9 1654.9,1366.1 1656.5,1365.7 1658.1,1365.8 1659.7,1366.1 1661.3,1366.0 1662.9,1366.1 1664.5,1366.0 1666.1,1365.8 1667.7,1365.8 1669.3,1365.8 1670.9,1366.1 1672.5,1366.3 1674.1,1366.4 1675.7,1365.7 1677.3,1365.8 1678.9,1365.9 1680.5,1365.9 1682.1,1365.6 1683.7,1366.4 1685.3,1366.3 1686.9,1365.9 1688.5,1365.8 1690.1,1365.9 1691.7,1365.6 1693.3,1365.8 1694.9,1366.1 1696.5,1366.3 1698.1,1366.1 1699.7,1366.2 1701.3,1365.7 1702.9,1365.1 1704.5,1366.2 1706.1,1365.9 1707.7,1365.9 1709.3,1366.3 1710.9,1365.7 1712.5,1365.7 1714.1,1365.7 1715.7,1366.3 1717.3,1366.1 1718.9,1365.5 1720.5,1367.0 1722.1,1365.9 1723.7,1366.0 1725.3,1365.7 1726.9,1366.3 1728.5,1366.0 1730.1,1366.2 1731.7,1365.6 1733.3,1366.0 1734.9,1365.9 1736.5,1365.8 1738.1,1365.6 1739.7,1365.7 1741.3,1365.5 1742.9,1365.6 1744.5,1365.8 1746.1,1365.9 1747.7,1365.4 1749.3,1365.5 1750.9,1365.6 1752.5,1365.3 1754.1,1365.6 1755.7,1365.6 1757.3,1365.6 1758.9,1365.7 1760.5,1365.2 1762.1,1365.7 1763.7,1365.5 1765.3,1365.5 1766.9,1365.1 1768.5,1365.0 1770.1,1365.2 1771.7,1365.1 1773.3,1365.3 1774.9,1364.5 1776.5,1364.1 1778.1,1364.2 1779.7,1363.7 1781.3,1363.3 1782.9,1363.5 1784.5,1363.3 1786.1,1362.5 1787.7,1361.9 1789.3,1361.7 1790.9,1361.2 1792.5,1360.5 1794.1,1360.7 1795.7,1360.2 1797.3,1360.2 1798.9,1359.5 1800.5,1359.6 1802.1,1359.5 1803.7,1359.2 1805.3,1360.4 1806.9,1359.5 1808.5,1360.0 1810.1,1360.6 1811.7,1360.7 1813.3,1361.5 1814.9,1361.7 1816.5,1362.3 1818.1,1362.7 1819.7,1363.0 1821.3,1363.4 1822.9,1363.7 1824.5,1362.2 1826.1,1364.5 1827.7,1364.4 1829.3,1364.6 1830.9,1364.8 1832.5,1365.1 1834.1,1365.1 1835.7,1365.2 1837.3,1365.0 1838.9,1365.9 1840.5,1365.2 1842.1,1366.0 1843.7,1366.2 1845.3,1365.9 1846.9,1365.8 1848.5,1365.9 1850.1,1365.8 1851.7,1365.9 1853.3,1366.0 1854.9,1366.2 1856.5,1364.5 1858.1,1366.0 1859.7,1366.2 1861.3,1366.2 1862.9,1365.6 1864.5,1366.0 1866.1,1366.0 1867.7,1366.0 1869.3,1365.4 1870.9,1366.1 1872.5,1365.3 1874.1,1366.5 1875.7,1366.1 1877.3,1365.9 1878.9,1366.1 1880.5,1366.0 1882.1,1365.8 1883.7,1365.9 1885.3,1366.1 1886.9,1365.8 1888.5,1366.1 1890.1,1366.2 1891.7,1366.2 1893.3,1366.3 1894.9,1366.3 1896.5,1366.2 1898.1,1366.3 1899.7,1366.0 1901.3,1366.1 1902.9,1366.3 1904.5,1366.5 1906.1,1365.9 1907.7,1365.7 1909.3,1366.5 1910.9,1366.3 1912.5,1366.5 1914.1,1366.2 1915.7,1366.1 1917.3,1365.9 1918.9,1365.8 1920.5,1366.4 1922.1,1366.3 1923.7,1366.1 1925.3,1365.8 1926.9,1365.9 1928.5,1365.9 1930.1,1366.0 1931.7,1365.3 1933.3,1366.1 1934.9,1366.4 1936.5,1365.9 1938.1,1366.0 1939.7,1366.1 1941.3,1365.8 1942.9,1366.1 1944.5,1365.8 1946.1,1365.9 1947.7,1366.1 1949.3,1366.0 1950.9,1366.1 1952.5,1365.8 1954.1,1366.2 1955.7,1365.8 1957.3,1366.2 1958.9,1365.9 1960.5,1365.7 1962.1,1366.0 1963.7,1365.8 1965.3,1365.9 1966.9,1366.0 1968.5,1366.4 1970.1,1366.2 1971.7,1366.1 1973.3,1365.9 1974.9,1365.6 1976.5,1365.9 1978.1,1365.8 1979.7,1365.8 1981.3,1365.7 1982.9,1365.7 1984.5,1365.9 1986.1,1365.3 1987.7,1365.6 1989.3,1365.8 1990.9,1365.1 1992.5,1364.9 1994.1,1365.0 1995.7,1364.8 1997.3,1364.8 1998.9,1364.9 2000.5,1364.3 2002.1,1364.4 2003.7,1364.0 2005.3,1363.9 2006.9,1364.1 2008.5,1363.8 2010.1,1363.4 2011.7,1364.0 2013.3,1364.2 2014.9,1364.1 2016.5,1364.4 2018.1,1364.4 2019.7,1364.7 2021.3,1364.5 2022.9,1365.0 2024.5,1365.4 2026.1,1364.6 2027.7,1365.5 2029.3,1365.0 2030.9,1365.1 2032.5,1364.6 2034.1,1365.2 2035.7,1364.3 2037.3,1364.3 2038.9,1364.5 2040.5,1363.6 2042.1,1363.2 2043.7,1363.5 2045.3,1363.2 2046.9,1363.0 2048.5,1362.9 2050.1,1362.7 2051.7,1363.4 2053.3,1363.5 2054.9,1362.9 2056.5,1363.4 2058.1,1363.5 2059.7,1364.1 2061.3,1363.8 2062.9,1364.6 2064.5,1364.4 2066.1,1364.4 2067.7,1364.8 2069.3,1364.9 2070.9,1365.7 2072.5,1365.3 2074.1,1365.3 2075.7,1365.5 2077.3,1365.6 2078.9,1365.5 2080.5,1365.3 2082.1,1366.1 2083.7,1366.0 2085.3,1365.8 2086.9,1365.9 2088.5,1366.2 2090.1,1365.3 2091.7,1366.3 2093.3,1368.0 2094.9,1366.2 2096.5,1366.0 2098.1,1366.8 2099.7,1365.9 2101.3,1366.3 2102.9,1365.4 2104.5,1366.1 2106.1,1366.2 2107.7,1365.7 2109.3,1365.6 2110.9,1366.1 2112.5,1366.3 2114.1,1366.4 2115.7,1365.9 2117.3,1366.2 2118.9,1365.7 2120.5,1366.5 2122.1,1365.9 2123.7,1366.4 2125.3,1366.0 2126.9,1366.0 2128.5,1366.5 2130.1,1365.9 2131.7,1366.4 2133.3,1366.0 2134.9,1365.9 2136.5,1365.9 2138.1,1366.4 2139.7,1366.1 2141.3,1366.0 2142.9,1365.7 2144.5,1366.4 2146.1,1366.3 2147.7,1366.2 2149.3,1366.3 2150.9,1365.3 2152.5,1367.4 2154.1,1366.1 2155.7,1366.1 2157.3,1367.6 2158.9,1366.1 2160.5,1365.9 2162.1,1365.9 2163.7,1365.7 2165.3,1366.1 2166.9,1365.8 2168.5,1365.9 2170.1,1366.3 2171.7,1366.3 2173.3,1365.9 2174.9,1365.5 2176.5,1365.7 2178.1,1366.1 2179.7,1367.1 2181.3,1365.7 2182.9,1365.6 2184.5,1365.6 2186.1,1365.6 2187.7,1365.3 2189.3,1364.7 2190.9,1365.7 2192.5,1365.3 2194.1,1364.9 2195.7,1365.1 2197.3,1364.3 2198.9,1364.7 2200.5,1364.0 2202.1,1364.3 2203.7,1363.8 2205.3,1363.7 2206.9,1363.6 2208.5,1363.6 2210.1,1363.3 2211.7,1363.1 2213.3,1362.7 2214.9,1363.2 2216.5,1362.8 2218.1,1362.7 2219.7,1362.6 2221.3,1362.5 2222.9,1362.7 2224.5,1362.6 2226.1,1363.1 2227.7,1363.2 2229.3,1363.4 2230.9,1363.3 2232.5,1363.7 2234.1,1363.8 2235.7,1364.4 2237.3,1364.0 2238.9,1363.6 2240.5,1365.0 2242.1,1364.9 2243.7,1364.6 2245.3,1365.5 2246.9,1365.6 2248.5,1365.7 2250.1,1365.0 2251.7,1365.6 2253.3,1365.4 2254.9,1365.7 2256.5,1365.4 2258.1,1366.3 2259.7,1365.7 2261.3,1366.0 2262.9,1366.2 2264.5,1366.2 2266.1,1366.1 2267.7,1366.0 2269.3,1366.1 2270.9,1366.0 2272.5,1365.5 2274.1,1366.4 2275.7,1366.0 2277.3,1366.0 2278.9,1366.0 2280.5,1365.8 2282.1,1365.8 2283.7,1365.7 2285.3,1366.3 2286.9,1366.5 2288.5,1366.2 2290.1,1365.9 2291.7,1366.5 2293.3,1366.1 2294.9,1365.8 2296.5,1365.7 2298.1,1366.2 2299.7,1366.6 2301.3,1366.1 2302.9,1366.0 2304.5,1366.1 2306.1,1366.0 2307.7,1366.1 2309.3,1366.3 2310.9,1366.0 2312.5,1366.4 2314.1,1366.0 2315.7,1366.4 2317.3,1366.3 2318.9,1366.1 2320.5,1366.1 2322.1,1366.1 2323.7,1366.6 2325.3,1366.0 2326.9,1366.5 2328.5,1366.5 2330.1,1366.1 2331.7,1366.6 2333.3,1366.1 2334.9,1366.3 2336.5,1366.3 2338.1,1366.2 2339.7,1366.5 2341.3,1366.1 2342.9,1366.2 2344.5,1366.5 2346.1,1366.2 2347.7,1366.0 2349.3,1366.4 2350.9,1366.2 2352.5,1366.1 2354.1,1366.4 2355.7,1366.1 2357.3,1366.0 2358.9,1366.2 2360.5,1366.2 2362.1,1366.3 2363.7,1366.0 2365.3,1366.7 2366.9,1366.4 2368.5,1366.3 2370.1,1366.3 2371.7,1365.6 2373.3,1366.5 2374.9,1366.0 2376.5,1366.4 2378.1,1366.0 2379.7,1366.5 2381.3,1366.1 2382.9,1366.2 2384.5,1366.7 2385.7,1366.6" fill="none" stroke="#E8413F" stroke-width="8.9" stroke-linejoin="round" stroke-linecap="butt"/>
<polyline points="197.3,1600.1 198.9,1600.0 200.5,1600.0 202.1,1600.2 203.7,1600.1 205.3,1599.8 206.9,1600.3 208.5,1599.9 210.1,1600.4 211.7,1600.3 213.3,1600.1 214.9,1600.0 216.5,1600.1 218.1,1600.0 219.7,1600.2 221.3,1599.1 222.9,1600.8 224.5,1599.9 226.1,1600.2 227.7,1600.4 229.3,1600.5 230.9,1600.6 232.5,1600.1 234.1,1600.5 235.7,1599.7 237.3,1600.3 238.9,1600.5 240.5,1600.5 242.1,1600.0 243.7,1600.2 245.3,1599.9 246.9,1598.9 248.5,1600.0 250.1,1600.4 251.7,1600.2 253.3,1600.5 254.9,1600.3 256.5,1600.7 258.1,1599.3 259.7,1600.6 261.3,1600.1 262.9,1600.6 264.5,1600.5 266.1,1600.6 267.7,1600.5 269.3,1600.0 270.9,1600.3 272.5,1599.8 274.1,1600.1 275.7,1600.2 277.3,1600.6 278.9,1600.4 280.5,1600.4 282.1,1600.5 283.7,1600.2 285.3,1600.6 286.9,1600.4 288.5,1600.2 290.1,1600.3 291.7,1600.3 293.3,1600.5 294.9,1600.7 296.5,1600.3 298.1,1600.3 299.7,1601.0 301.3,1601.1 302.9,1600.8 304.5,1600.4 306.1,1600.3 307.7,1600.5 309.3,1600.5 310.9,1600.2 312.5,1600.7 314.1,1600.9 315.7,1600.2 317.3,1600.2 318.9,1600.3 320.5,1600.1 322.1,1600.6 323.7,1600.1 325.3,1600.6 326.9,1600.5 328.5,1600.6 330.1,1600.1 331.7,1600.4 333.3,1600.5 334.9,1600.6 336.5,1600.5 338.1,1600.3 339.7,1599.9 341.3,1600.7 342.9,1600.7 344.5,1600.3 346.1,1600.5 347.7,1600.2 349.3,1600.4 350.9,1600.6 352.5,1600.1 354.1,1601.0 355.7,1600.7 357.3,1600.3 358.9,1600.3 360.5,1600.4 362.1,1599.8 363.7,1600.2 365.3,1600.4 366.9,1600.1 368.5,1600.3 370.1,1600.8 371.7,1600.4 373.3,1600.4 374.9,1600.8 376.5,1600.5 378.1,1600.6 379.7,1600.3 381.3,1600.7 382.9,1600.4 384.5,1600.6 386.1,1600.7 387.7,1600.8 389.3,1600.6 390.9,1600.4 392.5,1600.2 394.1,1600.4 395.7,1600.8 397.3,1600.8 398.9,1600.3 400.5,1601.0 402.1,1600.5 403.7,1600.6 405.3,1600.2 406.9,1600.6 408.5,1600.1 410.1,1600.5 411.7,1600.4 413.3,1600.5 414.9,1600.5 416.5,1600.3 418.1,1600.8 419.7,1600.3 421.3,1600.4 422.9,1600.7 424.5,1600.2 426.1,1600.4 427.7,1600.7 429.3,1600.6 430.9,1600.2 432.5,1600.2 434.1,1600.5 435.7,1600.2 437.3,1600.3 438.9,1600.0 440.5,1600.4 442.1,1599.9 443.7,1600.3 445.3,1600.4 446.9,1600.1 448.5,1599.9 450.1,1599.9 451.7,1599.7 453.3,1600.5 454.9,1599.7 456.5,1599.8 458.1,1600.1 459.7,1600.0 461.3,1600.1 462.9,1600.1 464.5,1600.6 466.0,1599.6 466.1,1599.6 466.5,1599.5 467.0,1599.4 467.5,1599.3 467.7,1599.3 468.0,1599.3 468.5,1599.2 469.0,1599.2 469.3,1599.1 469.5,1599.1 470.0,1599.1 470.5,1599.1 470.9,1599.0 471.0,1599.0 471.5,1598.8 472.0,1598.7 472.5,1598.4 473.0,1598.2 473.5,1597.9 474.0,1597.5 474.1,1597.4 474.5,1596.8 475.0,1596.0 475.5,1595.0 475.7,1594.5 476.0,1593.8 476.5,1592.4 477.0,1590.7 477.3,1589.5 477.5,1588.7 478.0,1586.2 478.5,1583.4 478.9,1581.0 479.0,1580.4 479.5,1577.5 480.0,1574.9 480.5,1573.1 481.0,1572.4 481.5,1573.0 482.0,1574.7 482.1,1575.2 482.5,1577.4 483.0,1580.5 483.5,1583.5 483.7,1584.7 484.0,1586.4 484.5,1588.9 485.0,1591.0 485.3,1592.1 485.5,1592.8 486.0,1594.3 486.5,1595.4 486.9,1596.1 487.0,1596.3 487.5,1596.8 488.0,1597.1 488.5,1597.3 489.0,1597.6 489.5,1597.9 490.0,1598.1 490.1,1598.1 490.5,1598.1 491.0,1598.1 491.5,1598.0 491.7,1598.0 492.0,1598.1 492.5,1598.4 493.0,1598.6 493.3,1598.8 493.5,1598.8 494.0,1598.7 494.5,1598.7 494.9,1598.7 495.0,1598.7 495.5,1598.9 496.0,1599.0 496.5,1599.1 498.1,1598.5 499.7,1598.9 501.3,1598.5 502.9,1599.0 503.8,1598.7 504.5,1598.5 505.0,1598.5 506.1,1598.4 506.3,1598.4 507.6,1598.5 507.7,1598.5 508.9,1598.2 509.3,1598.1 510.2,1598.2 510.9,1598.2 511.5,1598.1 512.5,1597.9 512.8,1597.9 514.1,1598.1 514.1,1598.1 515.4,1597.3 515.7,1597.1 516.7,1596.9 517.3,1596.8 518.0,1596.7 518.9,1596.6 519.2,1596.5 520.5,1595.9 520.5,1595.9 521.8,1595.3 522.1,1595.1 523.1,1594.3 523.7,1593.8 524.4,1593.3 525.3,1592.5 525.7,1591.9 526.9,1590.0 527.0,1589.8 528.3,1587.3 528.5,1586.8 529.6,1583.4 530.1,1581.6 530.9,1578.9 531.7,1575.7 532.2,1573.5 533.3,1567.6 533.5,1566.7 534.8,1559.0 534.9,1558.1 536.0,1550.2 536.5,1546.8 537.3,1541.1 538.1,1535.9 538.6,1532.2 539.7,1525.4 539.9,1524.2 541.2,1519.3 541.3,1519.1 542.5,1517.4 542.9,1517.5 543.8,1519.0 544.5,1521.3 545.1,1524.3 546.1,1530.5 546.4,1532.3 547.7,1540.8 547.7,1541.0 549.0,1550.3 549.3,1552.8 550.2,1558.8 550.9,1562.7 551.5,1566.6 552.5,1571.9 552.8,1573.5 554.1,1579.0 554.1,1579.1 555.4,1584.6 555.7,1585.7 556.7,1587.3 557.3,1588.0 558.0,1589.6 558.9,1591.4 559.3,1591.9 560.5,1593.2 560.6,1593.3 561.9,1594.8 562.1,1595.0 563.2,1595.2 563.7,1595.2 564.5,1596.2 565.3,1597.2 565.8,1597.3 566.9,1597.3 567.0,1597.4 568.3,1598.0 568.5,1598.1 569.6,1598.3 570.1,1598.3 570.9,1598.5 571.7,1598.7 572.2,1598.8 573.3,1599.1 573.5,1599.1 574.8,1599.1 574.9,1599.1 576.1,1599.4 576.5,1599.5 577.4,1599.9 578.1,1600.2 578.7,1600.2 579.7,1600.1 580.0,1600.1 581.2,1600.1 581.3,1600.1 582.9,1600.6 584.5,1600.5 586.1,1600.9 587.7,1601.3 589.3,1601.5 590.9,1601.8 592.5,1601.8 594.1,1601.8 595.7,1602.0 597.3,1602.0 598.9,1602.1 600.5,1602.7 602.1,1602.3 603.7,1602.9 605.3,1602.6 606.9,1603.0 608.5,1602.2 610.1,1603.0 611.7,1602.8 613.3,1603.3 614.9,1603.3 616.5,1602.9 618.1,1603.0 619.7,1603.3 621.3,1603.2 622.9,1603.1 624.5,1603.3 626.1,1602.8 627.7,1603.5 629.3,1603.3 630.9,1602.5 632.5,1603.0 634.1,1603.2 635.7,1603.7 637.3,1603.2 638.9,1602.9 640.5,1603.5 642.1,1603.3 643.7,1603.3 645.3,1603.5 646.9,1603.2 648.5,1603.3 650.1,1603.5 651.7,1603.4 653.3,1603.5 654.9,1603.2 656.5,1603.7 658.1,1603.0 659.7,1603.0 661.3,1603.4 662.9,1603.3 664.5,1603.4 666.1,1602.8 667.7,1603.3 669.3,1603.1 670.9,1603.4 672.5,1603.7 674.1,1603.2 675.7,1603.8 677.3,1603.7 678.9,1603.2 680.5,1603.6 682.1,1603.2 683.7,1603.4 685.3,1604.2 686.9,1603.3 688.5,1603.0 690.1,1603.4 691.7,1603.2 693.3,1603.2 694.9,1603.0 696.5,1603.5 698.1,1603.8 699.7,1603.3 701.3,1603.4 702.9,1603.2 704.5,1603.3 706.1,1603.2 707.7,1603.1 709.3,1603.2 710.9,1603.3 712.5,1603.5 714.1,1603.4 715.7,1603.5 717.3,1603.7 718.9,1603.6 720.5,1603.4 722.1,1603.1 723.7,1603.4 725.3,1603.5 726.9,1603.7 728.5,1603.5 730.1,1604.1 731.7,1603.4 733.3,1603.6 734.9,1603.3 736.5,1603.2 738.1,1603.4 739.7,1603.5 741.3,1603.6 742.9,1602.8 744.5,1603.7 746.1,1603.8 747.7,1603.8 749.3,1603.7 750.9,1603.4 752.5,1603.6 754.1,1603.8 755.7,1603.3 757.3,1603.6 758.9,1603.6 760.5,1603.4 762.1,1603.9 763.7,1603.3 765.3,1603.3 766.9,1603.5 768.5,1603.3 770.1,1603.8 771.7,1603.1 773.3,1603.2 774.9,1603.5 776.5,1603.6 778.1,1603.2 779.7,1603.8 781.3,1603.1 782.9,1603.7 784.5,1603.3 786.1,1603.4 787.7,1603.9 789.3,1603.5 790.9,1603.3 792.5,1603.5 794.1,1603.9 795.7,1603.5 797.3,1603.3 798.9,1603.5 800.5,1603.2 802.1,1603.3 803.7,1603.3 805.3,1601.7 806.9,1603.4 808.5,1603.6 810.1,1603.7 811.7,1603.8 813.3,1603.1 814.9,1603.5 816.5,1603.2 818.1,1603.6 819.7,1603.5 821.3,1603.5 822.9,1603.3 824.5,1603.2 826.1,1603.1 827.7,1603.7 829.3,1603.4 830.9,1603.5 832.5,1603.5 834.1,1603.6 835.7,1603.9 837.3,1603.4 838.9,1603.6 840.5,1603.1 842.1,1603.4 843.7,1603.3 845.3,1603.3 846.9,1603.7 848.5,1603.5 850.1,1603.4 851.7,1603.4 853.3,1603.4 854.9,1603.4 856.5,1603.3 858.1,1603.3 859.7,1603.3 861.3,1603.4 862.9,1603.0 864.5,1603.4 866.1,1603.4 867.7,1603.5 869.3,1603.1 870.9,1603.2 872.5,1603.5 874.1,1603.2 875.7,1603.5 877.3,1603.2 878.9,1603.1 880.5,1603.0 882.1,1603.2 883.7,1603.2 885.3,1603.0 886.9,1603.6 888.5,1603.3 890.1,1603.0 891.7,1603.5 893.3,1603.4 894.9,1603.0 896.5,1602.9 898.1,1603.0 899.7,1603.2 901.3,1602.7 902.9,1603.1 904.5,1602.7 906.1,1602.9 907.7,1602.5 909.3,1602.5 910.9,1602.3 912.5,1602.3 914.1,1601.3 915.7,1601.9 917.3,1600.9 918.9,1600.9 920.5,1600.6 922.1,1600.1 923.7,1599.9 925.3,1599.0 926.9,1599.0 928.5,1598.9 929.7,1598.5 930.1,1598.4 930.9,1598.2 931.7,1598.0 932.0,1598.0 933.2,1598.1 933.3,1598.1 934.4,1598.1 934.9,1598.1 935.5,1598.0 936.5,1597.9 936.7,1597.9 937.9,1598.4 938.1,1598.5 939.0,1598.4 939.7,1598.3 940.2,1598.3 941.3,1598.4 941.4,1598.4 942.5,1598.7 942.9,1598.8 943.7,1598.9 944.5,1598.9 944.9,1598.9 946.0,1599.1 946.1,1599.2 947.2,1599.3 947.7,1599.4 948.4,1599.3 949.3,1599.2 949.5,1599.2 950.7,1599.2 950.9,1599.2 951.9,1599.3 952.5,1599.4 953.0,1599.0 954.1,1598.2 954.2,1598.1 955.4,1597.0 955.7,1596.7 956.5,1596.0 957.3,1595.4 957.7,1595.0 958.9,1593.6 958.9,1593.6 960.0,1592.1 960.5,1591.5 961.2,1590.4 962.1,1589.1 962.4,1588.8 963.5,1588.1 963.7,1588.0 964.7,1587.9 965.3,1588.1 965.9,1588.4 966.9,1589.2 967.0,1589.3 968.2,1590.5 968.5,1590.9 969.4,1592.0 970.1,1592.9 970.5,1593.5 971.7,1595.0 972.9,1595.9 973.3,1596.2 974.0,1596.7 974.9,1597.3 975.2,1597.5 976.4,1598.4 976.5,1598.5 977.5,1598.7 978.1,1598.8 978.7,1598.8 979.7,1598.8 979.9,1598.8 981.0,1598.8 981.3,1598.8 982.2,1599.0 982.9,1599.2 983.4,1599.1 984.5,1598.7 984.5,1598.7 985.7,1598.6 986.1,1598.6 986.9,1598.8 987.7,1599.0 988.0,1598.9 989.2,1598.5 989.3,1598.5 990.4,1599.4 990.9,1599.8 991.5,1599.6 992.5,1599.3 992.7,1599.3 993.9,1599.4 994.1,1599.4 995.0,1599.6 995.7,1599.7 996.2,1599.9 997.3,1600.3 997.4,1600.3 998.5,1600.3 998.9,1600.3 999.7,1600.6 1000.5,1600.8 1002.1,1601.4 1003.7,1601.3 1005.3,1602.1 1006.9,1602.0 1008.5,1602.3 1010.1,1602.4 1011.7,1602.8 1013.3,1602.7 1014.9,1602.9 1016.5,1603.2 1018.1,1603.3 1019.7,1602.8 1021.3,1603.4 1022.9,1603.1 1024.5,1603.3 1026.1,1603.3 1027.7,1603.3 1029.3,1603.2 1030.9,1603.4 1032.5,1603.6 1034.1,1603.2 1035.7,1603.4 1037.3,1602.6 1038.9,1603.6 1040.5,1603.5 1042.1,1603.5 1043.7,1603.5 1045.3,1603.3 1046.9,1603.5 1048.5,1603.4 1050.1,1603.4 1051.7,1602.9 1053.3,1603.1 1054.9,1603.5 1056.5,1603.6 1058.1,1603.6 1059.7,1603.5 1061.3,1603.4 1062.9,1603.9 1064.5,1603.4 1066.1,1603.5 1067.7,1603.8 1069.3,1603.2 1070.9,1603.4 1072.5,1603.5 1074.1,1603.1 1075.7,1603.3 1077.3,1603.7 1078.9,1603.6 1080.5,1603.5 1082.1,1603.2 1083.7,1603.3 1085.3,1603.9 1086.9,1603.5 1088.5,1603.4 1090.1,1603.8 1091.7,1603.6 1093.3,1603.6 1094.9,1603.5 1096.5,1603.1 1098.1,1603.1 1099.7,1603.5 1101.3,1603.8 1102.9,1603.4 1104.5,1603.6 1106.1,1602.7 1107.7,1603.2 1109.3,1603.5 1110.9,1603.7 1112.5,1603.7 1114.1,1603.8 1115.7,1603.4 1117.3,1603.5 1118.9,1603.7 1120.5,1603.3 1122.1,1603.5 1123.7,1603.6 1125.3,1603.6 1126.9,1603.7 1128.5,1603.7 1130.1,1603.5 1131.7,1603.1 1133.3,1603.7 1134.9,1603.8 1136.5,1603.7 1138.1,1603.6 1139.7,1603.7 1141.3,1603.8 1142.9,1603.5 1144.5,1603.5 1146.1,1603.3 1147.7,1603.5 1149.3,1603.4 1150.9,1603.4 1152.5,1603.1 1154.1,1603.5 1155.7,1603.8 1157.3,1602.9 1158.9,1603.8 1160.5,1603.6 1162.1,1603.4 1163.7,1603.6 1165.3,1603.5 1166.9,1603.5 1168.5,1603.9 1170.1,1603.6 1171.7,1603.6 1173.3,1603.5 1174.9,1603.5 1176.5,1603.4 1178.1,1603.5 1179.7,1603.4 1181.3,1603.8 1182.9,1603.5 1184.5,1603.7 1186.1,1603.8 1187.7,1603.8 1189.3,1603.4 1190.9,1603.9 1192.5,1603.1 1194.1,1603.9 1195.7,1603.0 1197.3,1603.3 1198.9,1603.5 1200.5,1603.4 1202.1,1603.1 1203.7,1603.2 1205.3,1603.6 1206.9,1603.2 1208.5,1603.7 1210.1,1603.8 1211.7,1603.8 1213.3,1603.6 1214.9,1603.5 1216.5,1603.4 1218.1,1604.1 1219.7,1603.8 1221.3,1606.1 1222.9,1603.6 1224.5,1603.7 1226.1,1603.1 1227.7,1603.7 1229.3,1603.3 1230.9,1603.0 1232.5,1603.7 1234.1,1603.3 1235.7,1603.5 1237.3,1603.3 1238.9,1603.3 1240.5,1603.8 1242.1,1603.5 1243.7,1603.5 1245.3,1603.0 1246.9,1603.6 1248.5,1603.2 1250.1,1603.4 1251.7,1603.1 1253.3,1603.4 1254.9,1603.4 1256.5,1602.9 1258.1,1603.6 1259.7,1603.0 1261.3,1603.5 1262.9,1603.2 1264.5,1603.1 1266.1,1603.7 1267.7,1603.2 1269.3,1602.9 1270.6,1603.1 1270.9,1603.1 1271.8,1603.0 1272.5,1602.9 1273.1,1603.0 1274.1,1603.1 1274.3,1603.0 1275.6,1602.5 1275.7,1602.5 1276.8,1602.9 1277.3,1603.0 1278.1,1602.7 1278.9,1602.4 1279.3,1602.4 1280.5,1602.3 1280.6,1602.3 1281.8,1602.1 1282.1,1602.1 1283.1,1602.0 1283.7,1602.0 1284.3,1602.1 1285.3,1602.3 1285.6,1602.2 1286.8,1601.6 1286.9,1601.6 1288.1,1601.2 1288.5,1601.0 1289.3,1600.9 1290.1,1600.8 1290.6,1600.6 1291.7,1600.3 1291.8,1600.2 1293.1,1599.7 1293.3,1599.6 1294.3,1598.7 1294.9,1598.2 1295.6,1597.7 1296.5,1596.8 1296.8,1596.6 1298.1,1595.5 1299.3,1593.0 1299.7,1592.3 1300.6,1590.6 1301.3,1589.3 1301.8,1588.0 1302.9,1585.5 1303.1,1585.1 1304.3,1582.7 1304.5,1582.4 1305.6,1580.0 1306.1,1579.1 1306.8,1578.4 1307.7,1578.1 1308.1,1578.0 1309.3,1578.5 1309.3,1578.5 1310.6,1580.2 1310.9,1580.8 1311.8,1582.5 1312.5,1583.9 1313.1,1585.2 1314.1,1587.5 1314.3,1588.0 1315.6,1590.6 1315.7,1590.8 1316.8,1592.9 1317.3,1593.6 1318.1,1594.8 1318.9,1595.8 1319.3,1596.3 1320.5,1597.5 1320.6,1597.6 1321.8,1598.7 1322.1,1598.9 1323.1,1599.5 1323.7,1599.8 1324.3,1600.1 1325.3,1600.5 1325.6,1601.0 1326.8,1603.1 1326.9,1603.2 1328.1,1602.0 1328.5,1601.7 1329.3,1601.6 1330.1,1601.6 1330.6,1601.9 1331.7,1602.4 1331.8,1602.4 1333.1,1602.3 1333.3,1602.2 1334.3,1602.5 1334.9,1602.6 1335.6,1602.7 1336.5,1602.9 1336.8,1602.7 1338.1,1602.3 1339.3,1602.7 1339.7,1602.8 1340.6,1602.9 1341.3,1603.0 1341.8,1603.0 1342.9,1603.1 1343.1,1603.1 1344.3,1603.1 1344.5,1603.1 1345.6,1603.1 1346.1,1603.2 1347.7,1602.7 1349.3,1602.8 1350.9,1603.2 1352.5,1602.7 1354.1,1603.0 1355.7,1603.2 1357.3,1603.3 1358.9,1603.4 1360.5,1603.3 1362.1,1603.1 1363.7,1603.1 1365.3,1603.4 1366.9,1603.5 1368.5,1603.4 1370.1,1603.4 1371.7,1603.4 1373.3,1603.1 1374.9,1603.4 1376.5,1603.6 1378.1,1603.2 1379.7,1603.5 1381.3,1603.6 1382.9,1603.9 1384.5,1603.4 1386.1,1603.4 1387.7,1603.2 1389.3,1603.2 1390.9,1603.1 1392.5,1603.1 1394.1,1604.1 1395.7,1604.3 1397.3,1603.5 1398.9,1603.1 1400.5,1603.0 1402.1,1603.1 1403.7,1603.8 1405.3,1603.7 1406.9,1603.2 1408.5,1603.5 1410.1,1605.3 1411.7,1603.3 1413.3,1603.3 1414.9,1603.7 1416.5,1603.6 1418.1,1603.7 1419.7,1603.5 1421.3,1603.5 1422.9,1603.6 1424.5,1603.4 1426.1,1603.8 1427.7,1603.5 1429.3,1603.6 1430.9,1603.4 1432.5,1603.3 1434.1,1603.4 1435.7,1603.4 1437.3,1603.3 1438.9,1603.6 1440.5,1603.8 1442.1,1603.5 1443.7,1603.4 1445.3,1603.2 1446.9,1603.0 1448.5,1603.5 1450.1,1603.5 1451.7,1603.1 1453.3,1603.3 1454.9,1603.1 1456.5,1603.6 1458.1,1603.3 1459.7,1603.3 1461.3,1603.6 1462.9,1602.7 1464.5,1603.2 1466.1,1603.1 1467.7,1603.0 1469.3,1603.0 1470.9,1603.2 1472.5,1602.7 1474.1,1602.7 1475.7,1603.1 1477.3,1602.9 1478.9,1602.7 1480.5,1602.6 1482.1,1602.3 1483.7,1602.0 1485.3,1602.7 1486.9,1601.6 1488.5,1601.0 1490.1,1600.1 1491.7,1599.7 1493.3,1598.8 1494.9,1597.5 1496.5,1596.3 1498.1,1594.5 1499.7,1592.8 1501.3,1590.7 1502.9,1588.8 1504.5,1587.5 1506.1,1586.9 1507.7,1586.8 1509.3,1587.7 1510.9,1589.7 1512.5,1591.1 1514.1,1593.1 1515.7,1594.6 1517.3,1596.2 1518.9,1597.6 1520.5,1598.5 1522.1,1598.5 1523.7,1598.8 1525.3,1598.4 1526.9,1599.1 1528.5,1598.9 1530.1,1598.0 1531.7,1597.1 1533.3,1596.3 1534.9,1594.7 1536.5,1593.8 1538.1,1592.6 1539.7,1591.4 1541.3,1590.3 1542.9,1589.6 1544.5,1589.8 1546.1,1590.3 1547.7,1592.0 1549.3,1593.2 1550.9,1594.4 1552.5,1595.8 1554.1,1597.2 1555.7,1598.1 1557.3,1599.3 1558.9,1600.1 1560.5,1600.8 1562.1,1601.2 1563.7,1601.0 1565.3,1600.5 1566.9,1601.8 1568.5,1602.0 1570.1,1603.0 1571.7,1602.5 1573.3,1602.7 1574.9,1602.8 1576.5,1602.7 1578.1,1603.3 1579.7,1602.6 1581.3,1603.2 1582.9,1603.0 1584.5,1603.4 1586.1,1603.4 1587.7,1603.2 1589.3,1600.8 1590.9,1603.5 1592.5,1603.5 1594.1,1603.5 1595.7,1603.3 1597.3,1603.5 1598.9,1603.2 1600.5,1603.5 1602.1,1603.5 1603.7,1603.4 1605.3,1603.2 1606.9,1603.0 1608.5,1603.4 1610.1,1603.2 1611.7,1603.7 1613.3,1603.8 1614.9,1603.4 1616.5,1603.4 1618.1,1603.6 1619.7,1603.5 1621.3,1603.4 1622.9,1603.6 1624.5,1603.6 1626.1,1603.4 1627.7,1603.3 1629.3,1603.9 1630.9,1603.5 1632.5,1603.9 1634.1,1603.7 1635.7,1603.6 1637.3,1603.6 1638.9,1604.0 1640.5,1603.5 1642.1,1603.5 1643.7,1603.4 1645.3,1603.6 1646.9,1603.4 1648.5,1603.7 1650.1,1603.4 1651.7,1603.7 1653.3,1603.7 1654.9,1602.8 1656.5,1603.5 1658.1,1603.9 1659.7,1604.1 1661.3,1603.6 1662.9,1603.5 1664.5,1603.8 1666.1,1603.6 1667.7,1603.7 1669.3,1603.8 1670.9,1603.4 1672.5,1603.8 1674.1,1603.4 1675.7,1603.4 1677.3,1603.6 1678.9,1604.0 1680.5,1603.5 1682.1,1603.8 1683.7,1603.5 1685.3,1603.8 1686.9,1603.7 1688.5,1603.9 1690.1,1603.7 1691.7,1603.7 1693.3,1603.2 1694.9,1603.7 1696.5,1603.8 1698.1,1603.7 1699.7,1603.7 1701.3,1603.8 1702.9,1603.8 1704.5,1602.9 1706.1,1603.6 1707.7,1603.7 1709.3,1603.7 1710.9,1603.4 1712.5,1603.2 1714.1,1603.7 1715.7,1603.8 1717.3,1604.0 1718.9,1603.7 1720.5,1603.4 1722.1,1603.7 1723.7,1603.6 1725.3,1603.5 1726.9,1603.3 1728.5,1603.2 1730.1,1603.4 1731.7,1603.5 1733.3,1603.6 1734.9,1603.6 1736.5,1603.6 1738.1,1604.0 1739.7,1603.5 1741.3,1603.8 1742.9,1603.3 1744.5,1603.3 1746.1,1603.4 1747.7,1603.1 1749.3,1603.8 1750.9,1603.5 1752.5,1603.6 1754.1,1603.8 1755.7,1603.5 1757.3,1603.7 1758.9,1602.8 1760.5,1603.6 1762.1,1603.3 1763.7,1603.1 1765.3,1603.4 1766.9,1603.1 1768.5,1602.9 1770.1,1602.5 1771.7,1603.2 1773.3,1602.1 1774.9,1602.5 1776.5,1602.7 1778.1,1602.2 1779.7,1601.6 1781.3,1601.4 1782.9,1600.9 1784.5,1600.6 1786.1,1600.0 1787.7,1599.1 1789.3,1598.4 1790.9,1598.3 1792.5,1597.0 1794.1,1596.3 1795.7,1596.3 1797.3,1594.9 1798.9,1594.3 1800.5,1593.9 1802.1,1594.0 1803.7,1593.6 1805.3,1594.0 1806.9,1593.9 1808.5,1594.8 1810.1,1595.6 1811.7,1596.3 1813.3,1597.3 1814.9,1597.9 1816.5,1597.9 1818.1,1598.8 1819.7,1599.6 1821.3,1600.3 1822.9,1600.9 1824.5,1601.4 1826.1,1601.3 1827.7,1601.5 1829.3,1602.4 1830.9,1602.2 1832.5,1602.1 1834.1,1602.6 1835.7,1602.8 1837.3,1602.7 1838.9,1602.8 1840.5,1603.4 1842.1,1603.0 1843.7,1603.3 1845.3,1603.3 1846.9,1603.2 1848.5,1603.9 1850.1,1603.1 1851.7,1604.0 1853.3,1603.2 1854.9,1603.4 1856.5,1603.5 1858.1,1603.7 1859.7,1603.7 1861.3,1603.4 1862.9,1603.5 1864.5,1603.8 1866.1,1603.9 1867.7,1603.5 1869.3,1603.9 1870.9,1603.7 1872.5,1603.0 1874.1,1603.4 1875.7,1603.7 1877.3,1603.7 1878.9,1603.0 1880.5,1603.5 1882.1,1603.7 1883.7,1603.3 1885.3,1604.0 1886.9,1604.0 1888.5,1603.4 1890.1,1603.7 1891.7,1603.7 1893.3,1603.6 1894.9,1603.6 1896.5,1603.8 1898.1,1604.1 1899.7,1603.7 1901.3,1603.7 1902.9,1603.7 1904.5,1603.6 1906.1,1603.8 1907.7,1603.6 1909.3,1603.5 1910.9,1603.9 1912.5,1603.3 1914.1,1603.6 1915.7,1603.6 1917.3,1603.7 1918.9,1603.4 1920.5,1603.5 1922.1,1603.7 1923.7,1603.9 1925.3,1603.7 1926.9,1603.7 1928.5,1603.5 1930.1,1603.7 1931.7,1603.1 1933.3,1603.9 1934.9,1603.9 1936.5,1603.7 1938.1,1604.5 1939.7,1604.0 1941.3,1603.6 1942.9,1604.0 1944.5,1603.7 1946.1,1603.6 1947.7,1603.7 1949.3,1603.6 1950.9,1603.7 1952.5,1603.8 1954.1,1603.6 1955.7,1603.6 1957.3,1603.7 1958.9,1603.8 1960.5,1603.7 1962.1,1603.8 1963.7,1603.8 1965.3,1603.7 1966.9,1603.8 1968.5,1603.6 1970.1,1603.9 1971.7,1603.7 1973.3,1603.7 1974.9,1603.5 1976.5,1603.2 1978.1,1603.3 1979.7,1603.3 1981.3,1603.3 1982.9,1603.1 1984.5,1603.4 1986.1,1602.6 1987.7,1602.4 1989.3,1602.5 1990.9,1601.6 1992.5,1602.2 1994.1,1602.1 1995.7,1602.3 1997.3,1601.2 1998.9,1601.1 2000.5,1601.1 2002.1,1600.6 2003.7,1600.6 2005.3,1601.0 2006.9,1600.7 2008.5,1600.7 2010.1,1601.0 2011.7,1600.5 2013.3,1601.0 2014.9,1601.1 2016.5,1601.4 2018.1,1601.3 2019.7,1601.6 2021.3,1601.8 2022.9,1602.2 2024.5,1602.0 2026.1,1602.3 2027.7,1601.8 2029.3,1602.4 2030.9,1602.4 2032.5,1602.0 2034.1,1602.0 2035.7,1602.0 2037.3,1604.1 2038.9,1601.9 2040.5,1601.4 2042.1,1601.1 2043.7,1600.9 2045.3,1600.7 2046.9,1600.6 2048.5,1600.3 2050.1,1599.9 2051.7,1599.8 2053.3,1599.6 2054.9,1599.6 2056.5,1599.7 2058.1,1599.8 2059.7,1600.2 2061.3,1600.0 2062.9,1600.5 2064.5,1600.5 2066.1,1601.2 2067.7,1601.3 2069.3,1601.8 2070.9,1601.9 2072.5,1601.8 2074.1,1602.3 2075.7,1602.3 2077.3,1602.5 2078.9,1602.6 2080.5,1602.9 2082.1,1603.1 2083.7,1603.2 2085.3,1603.8 2086.9,1603.3 2088.5,1603.4 2090.1,1603.4 2091.7,1603.5 2093.3,1603.5 2094.9,1603.6 2096.5,1603.6 2098.1,1603.8 2099.7,1603.7 2101.3,1603.5 2102.9,1603.7 2104.5,1603.7 2106.1,1603.6 2107.7,1603.6 2109.3,1602.8 2110.9,1603.8 2112.5,1603.7 2114.1,1603.6 2115.7,1603.7 2117.3,1604.0 2118.9,1603.5 2120.5,1603.9 2122.1,1603.7 2123.7,1604.5 2125.3,1603.9 2126.9,1603.8 2128.5,1603.7 2130.1,1603.4 2131.7,1603.6 2133.3,1604.2 2134.9,1603.8 2136.5,1603.7 2138.1,1603.7 2139.7,1603.8 2141.3,1603.5 2142.9,1603.8 2144.5,1603.8 2146.1,1603.4 2147.7,1603.7 2149.3,1603.2 2150.9,1603.4 2152.5,1603.9 2154.1,1604.0 2155.7,1604.1 2157.3,1603.4 2158.9,1603.7 2160.5,1603.6 2162.1,1603.9 2163.7,1603.7 2165.3,1603.6 2166.9,1603.7 2168.5,1603.5 2170.1,1603.7 2171.7,1603.4 2173.3,1603.7 2174.9,1603.4 2176.5,1603.4 2178.1,1603.0 2179.7,1602.9 2181.3,1602.8 2182.9,1603.1 2184.5,1602.4 2186.1,1603.0 2187.7,1602.5 2189.3,1602.2 2190.9,1602.3 2192.5,1601.8 2194.1,1601.9 2195.7,1601.6 2197.3,1601.7 2198.9,1601.4 2200.5,1601.2 2202.1,1600.6 2203.7,1600.8 2205.3,1600.2 2206.9,1600.0 2208.5,1599.9 2210.1,1599.6 2211.7,1599.1 2213.3,1599.4 2214.9,1598.8 2216.5,1599.1 2218.1,1598.9 2219.7,1598.9 2221.3,1598.7 2222.9,1599.2 2224.5,1599.1 2226.1,1599.4 2227.7,1599.3 2229.3,1599.5 2230.9,1599.8 2232.5,1600.3 2234.1,1600.0 2235.7,1600.4 2237.3,1600.7 2238.9,1601.0 2240.5,1601.2 2242.1,1601.7 2243.7,1601.9 2245.3,1601.9 2246.9,1602.3 2248.5,1602.5 2250.1,1602.4 2251.7,1602.5 2253.3,1602.9 2254.9,1603.4 2256.5,1602.6 2258.1,1603.0 2259.7,1603.4 2261.3,1603.2 2262.9,1603.6 2264.5,1603.5 2266.1,1603.3 2267.7,1603.5 2269.3,1603.7 2270.9,1603.4 2272.5,1603.8 2274.1,1603.8 2275.7,1603.6 2277.3,1603.8 2278.9,1603.7 2280.5,1603.8 2282.1,1603.6 2283.7,1604.1 2285.3,1603.7 2286.9,1604.0 2288.5,1604.3 2290.1,1604.1 2291.7,1603.8 2293.3,1603.9 2294.9,1602.6 2296.5,1603.9 2298.1,1603.7 2299.7,1603.5 2301.3,1603.9 2302.9,1603.9 2304.5,1604.2 2306.1,1604.2 2307.7,1603.6 2309.3,1603.7 2310.9,1604.0 2312.5,1604.1 2314.1,1603.9 2315.7,1603.9 2317.3,1604.8 2318.9,1604.4 2320.5,1603.8 2322.1,1604.0 2323.7,1604.0 2325.3,1603.7 2326.9,1604.1 2328.5,1604.2 2330.1,1603.9 2331.7,1603.9 2333.3,1604.1 2334.9,1604.1 2336.5,1604.1 2338.1,1603.7 2339.7,1603.7 2341.3,1603.8 2342.9,1603.4 2344.5,1603.7 2346.1,1603.9 2347.7,1603.8 2349.3,1603.8 2350.9,1604.1 2352.5,1604.0 2354.1,1604.1 2355.7,1603.9 2357.3,1603.9 2358.9,1603.8 2360.5,1604.0 2362.1,1603.6 2363.7,1603.8 2365.3,1604.1 2366.9,1603.3 2368.5,1603.9 2370.1,1603.7 2371.7,1604.1 2373.3,1604.6 2374.9,1603.9 2376.5,1603.8 2378.1,1604.5 2379.7,1604.3 2381.3,1603.8 2382.9,1603.7 2384.5,1604.0 2385.7,1604.1" fill="none" stroke="#555555" stroke-width="8.1" stroke-linejoin="round" stroke-linecap="butt"/>
</g>
<text class="n" x="364.9" y="1752.0" font-size="83.5" text-anchor="middle">20</text>
<text class="n" x="701.7" y="1752.0" font-size="83.5" text-anchor="middle">30</text>
<text class="n" x="1038.5" y="1752.0" font-size="83.5" text-anchor="middle">40</text>
<text class="n" x="1375.3" y="1752.0" font-size="83.5" text-anchor="middle">50</text>
<text class="n" x="1712.1" y="1752.0" font-size="83.5" text-anchor="middle">60</text>
<text class="n" x="2048.9" y="1752.0" font-size="83.5" text-anchor="middle">70</text>
<text class="n" x="2385.7" y="1752.0" font-size="83.5" text-anchor="middle">80</text>
<text class="n" y="1911.8" font-size="100"><tspan x="920.3" textLength="116.2" lengthAdjust="spacingAndGlyphs">2θ</tspan><tspan> </tspan><tspan x="1069.8" textLength="380.8" lengthAdjust="spacingAndGlyphs">(degree)</tspan></text>
<text class="n" transform="translate(88.4,0) rotate(-90)" font-size="101.5"><tspan x="-1162.1" textLength="404.6" lengthAdjust="spacingAndGlyphs">Intensity</tspan><tspan> </tspan><tspan x="-730.3" textLength="238.5" lengthAdjust="spacingAndGlyphs">(a.u.)</tspan></text>
<circle cx="1432.9" cy="82.6" r="18.5" fill="#000"/>
<text class="s" font-size="74"><tspan x="1479" y="104.6" textLength="376" lengthAdjust="spacingAndGlyphs">anatase TiO</tspan><tspan x="1854.5" y="119.8" font-size="48">2</tspan></text>
<polygon points="1967.6,40.5 1975.6,64.6 1999.0,65.4 1980.5,81.1 1987.0,105.6 1967.6,91.2 1948.2,105.6 1954.7,81.1 1936.2,65.4 1959.6,64.6" fill="#FA0000"/>
<text class="s" font-size="74"><tspan x="2021" y="104.6" textLength="169.5" lengthAdjust="spacingAndGlyphs">TiOF</tspan><tspan x="2193.5" y="119.8" font-size="48">2</tspan></text>
<polygon points="476.3,159.9 484.4,184.5 508.4,185.3 489.5,201.4 496.2,226.5 476.3,211.8 456.4,226.5 463.1,201.4 444.2,185.3 468.2,184.5" fill="#FA0000"/>
<polygon points="807.8,324.5 815.9,349.1 839.9,349.9 821.0,366.0 827.7,391.1 807.8,376.4 787.9,391.1 794.6,366.0 775.7,349.9 799.7,349.1" fill="#FA0000"/>
<polygon points="1300.2,311.2 1308.3,335.8 1332.3,336.6 1313.4,352.7 1320.1,377.8 1300.2,363.1 1280.3,377.8 1287.0,352.7 1268.1,336.6 1292.1,335.8" fill="#FA0000"/>
<polygon points="1504.1,310.0 1512.2,334.6 1536.2,335.4 1517.3,351.5 1524.0,376.6 1504.1,361.9 1484.2,376.6 1490.9,351.5 1472.0,335.4 1496.0,334.6" fill="#FA0000"/>
<polygon points="2042.8,330.7 2050.9,355.3 2074.9,356.1 2056.0,372.2 2062.7,397.3 2042.8,382.6 2022.9,397.3 2029.6,372.2 2010.7,356.1 2034.7,355.3" fill="#FA0000"/>
<polygon points="2209.4,330.7 2217.5,355.3 2241.5,356.1 2222.6,372.2 2229.3,397.3 2209.4,382.6 2189.5,397.3 2196.2,372.2 2177.3,356.1 2201.3,355.3" fill="#FA0000"/>
<circle cx="542" cy="1489.5" r="18" fill="#000"/>
<circle cx="964.5" cy="1557.5" r="18" fill="#000"/>
<circle cx="1308.2" cy="1546" r="18" fill="#000"/>
<circle cx="1502.1" cy="1554" r="18" fill="#000"/>
<circle cx="1547.6" cy="1554" r="18" fill="#000"/>
<circle cx="1798.8" cy="1562" r="18" fill="#000"/>
<text class="s" transform="translate(489.0,155.2) rotate(-90) scale(1,0.93)" font-size="58">(100)</text>
<text class="s" transform="translate(824.3,323) rotate(-90) scale(1,0.93)" font-size="58">(110)</text>
<text class="s" transform="translate(1316.5,306.5) rotate(-90) scale(1,0.93)" font-size="58">(200)</text>
<text class="s" transform="translate(1520.3,303) rotate(-90) scale(1,0.93)" font-size="58">(210)</text>
<text class="s" transform="translate(2058.6,327.3) rotate(-90) scale(1,0.93)" font-size="58">(220)</text>
<text class="s" transform="translate(2222.5,327.3) rotate(-90) scale(1,0.93)" font-size="58">(215)</text>
<text class="s" transform="translate(555.7,1468.5) rotate(-90) scale(1,0.93)" font-size="58">(<tspan dx="-3.5">101</tspan><tspan dx="3.5">)</tspan></text>
<text class="s" transform="translate(979.3,1530.8) rotate(-90) scale(1,0.93)" font-size="58">(004)</text>
<text class="s" transform="translate(1324.6,1518.6) rotate(-90) scale(1,0.93)" font-size="58">(200)</text>
<text class="s" transform="translate(1509.0,1529.4) rotate(-90) scale(1,0.93)" font-size="58">(105)</text>
<text class="s" transform="translate(1569.3,1526.9) rotate(-90) scale(1,0.93)" font-size="58">(211)</text>
<text class="s" transform="translate(1815.2,1538.8) rotate(-90) scale(1,0.93)" font-size="58">(204)</text>
<text class="s" transform="translate(2277.5,374.3) scale(1,0.945)" font-size="83">(a)</text>
<text class="s" transform="translate(2277.5,620.5) scale(1,0.945)" font-size="83">(b)</text>
<text class="s" transform="translate(2277.5,854.5) scale(1,0.945)" font-size="83">(c)</text>
<text class="s" transform="translate(2277.5,1094) scale(1,0.945)" font-size="83">(d)</text>
<text class="s" transform="translate(2277.5,1330.5) scale(1,0.945)" font-size="83">(e)</text>
<text class="s" transform="translate(2280.5,1565.5) scale(1,0.945)" font-size="83">(f)</text>
</g>
</svg></body></html>
